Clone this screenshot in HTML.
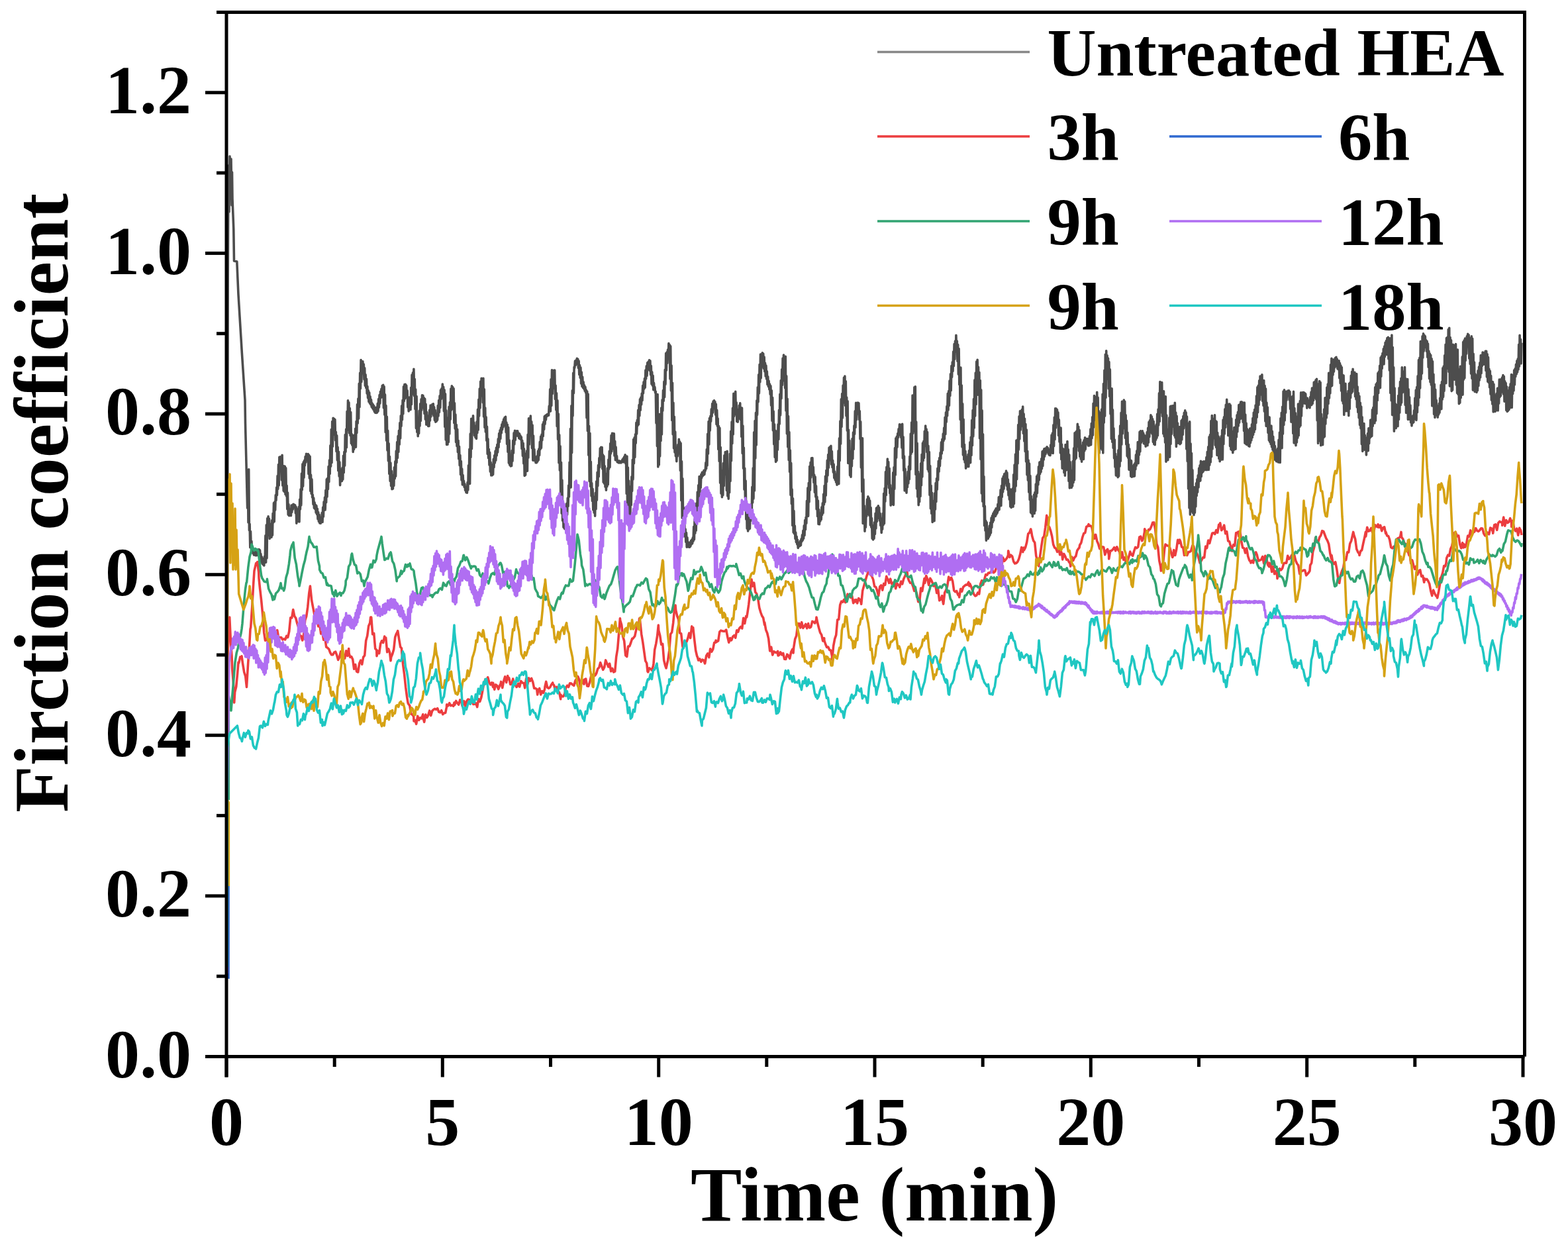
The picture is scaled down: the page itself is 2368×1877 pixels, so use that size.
<!DOCTYPE html>
<html><head><meta charset="utf-8"><title>Friction coefficient vs time</title>
<style>html,body{margin:0;padding:0;background:#fff;}body{width:2368px;height:1877px;overflow:hidden;}svg{display:block;}</style>
</head><body>
<svg width="2368" height="1877" viewBox="0 0 2368 1877">
<rect width="2368" height="1877" fill="#fff"/>
<g fill="none" stroke-linejoin="round" stroke-linecap="butt">
<path d="M343.0 1470.0 L343.6 900.0 L344.2 420.0 L345.0 250.0 L346.0 320.0 L347.0 236.0 L348.0 300.0 L349.0 240.0 L350.0 310.0 L350.5 260.0 L351.0 300.0 L352.8 346.0 L353.5 394.0 L357.8 395.0 L360.0 445.0 L365.4 533.6 L370.0 604.0 L370.5 639.0 L373.6 767.3 L374.3 711.4 L375.0 788.9 L375.7 708.8 L376.4 800.8 L377.1 791.3 L377.8 826.8 L378.5 802.6 L379.2 827.5 L379.9 817.4 L380.6 830.7 L381.3 826.7 L382.0 835.7 L382.7 830.3 L383.4 838.0 L384.1 833.0 L384.8 838.1 L385.5 834.2 L386.2 838.8 L386.9 832.9 L387.6 838.7 L388.3 829.7 L389.0 836.3 L389.7 830.2 L390.4 837.0 L391.1 829.6 L391.8 842.4 L392.5 830.9 L393.2 842.2 L393.9 836.6 L394.6 848.4 L395.3 840.8 L396.0 851.2 L396.7 843.6 L397.4 852.6 L398.1 849.1 L398.8 853.9 L399.5 840.4 L400.2 848.2 L400.9 808.8 L401.6 849.3 L402.3 792.8 L403.0 843.0 L403.7 782.9 L404.4 808.1 L405.1 779.9 L405.8 804.6 L406.5 783.3 L407.2 813.4 L407.9 791.3 L408.6 810.1 L409.3 797.0 L410.0 811.2 L410.7 785.7 L411.4 808.3 L412.1 775.4 L412.8 789.0 L413.5 759.6 L414.2 787.8 L414.9 757.7 L415.6 770.2 L416.3 747.5 L417.0 755.5 L417.7 736.1 L418.4 747.7 L419.1 718.5 L419.8 738.4 L420.5 701.5 L421.2 732.9 L421.9 690.4 L422.6 711.5 L423.3 689.8 L424.0 707.4 L424.7 691.4 L425.4 724.9 L426.1 687.2 L426.8 733.3 L427.5 703.6 L428.2 741.2 L428.9 703.7 L429.6 742.6 L430.3 704.2 L431.0 746.5 L431.7 706.9 L432.4 749.0 L433.1 733.2 L433.8 768.7 L434.5 744.1 L435.2 777.3 L435.9 761.5 L436.6 778.8 L437.3 772.0 L438.0 778.3 L438.7 769.0 L439.4 778.7 L440.1 763.0 L440.8 773.5 L441.5 762.8 L442.2 769.2 L442.9 761.4 L443.6 765.0 L444.3 761.9 L445.0 764.4 L445.7 762.9 L446.4 774.8 L447.1 765.5 L447.8 790.3 L448.5 768.7 L449.2 787.7 L449.9 771.0 L450.6 783.5 L451.3 765.5 L452.0 788.0 L452.7 754.0 L453.4 769.0 L454.1 738.8 L454.8 762.9 L455.5 715.0 L456.2 739.6 L456.9 700.9 L457.6 734.3 L458.3 697.9 L459.0 721.2 L459.7 695.2 L460.4 702.8 L461.1 689.6 L461.8 698.2 L462.5 685.3 L463.2 693.6 L463.9 686.6 L464.6 694.7 L465.3 685.5 L466.0 715.6 L466.7 687.4 L467.4 722.2 L468.1 689.2 L468.8 741.5 L469.5 717.0 L470.2 745.4 L470.9 723.8 L471.6 751.0 L472.3 747.3 L473.0 761.4 L473.7 752.1 L474.4 767.1 L475.1 758.9 L475.8 768.6 L476.5 762.3 L477.2 774.1 L477.9 763.9 L478.6 776.6 L479.3 768.2 L480.0 783.8 L480.7 773.5 L481.4 787.4 L482.1 777.2 L482.8 790.0 L483.5 782.6 L484.2 790.3 L484.9 781.3 L485.6 788.1 L486.3 774.2 L487.0 788.4 L487.7 766.1 L488.4 780.1 L489.1 757.7 L489.8 770.4 L490.5 751.0 L491.2 769.9 L491.9 740.4 L492.6 758.7 L493.3 723.9 L494.0 750.2 L494.7 722.1 L495.4 738.6 L496.1 704.6 L496.8 727.7 L497.5 694.7 L498.2 715.4 L498.9 672.9 L499.6 704.2 L500.3 648.5 L501.0 698.7 L501.7 636.5 L502.4 674.2 L503.1 631.3 L503.8 647.3 L504.5 632.3 L505.2 656.4 L505.9 633.6 L506.6 664.9 L507.3 652.2 L508.0 681.8 L508.7 657.7 L509.4 695.0 L510.1 675.4 L510.8 710.8 L511.5 682.4 L512.2 719.3 L512.9 697.9 L513.6 732.6 L514.3 708.9 L515.0 726.8 L515.7 712.4 L516.4 726.4 L517.1 706.3 L517.8 724.0 L518.5 688.3 L519.2 713.6 L519.9 682.2 L520.6 703.2 L521.3 656.6 L522.0 682.1 L522.7 648.1 L523.4 675.8 L524.1 621.3 L524.8 649.5 L525.5 604.9 L526.2 643.6 L526.9 607.7 L527.6 653.9 L528.3 616.6 L529.0 657.7 L529.7 622.6 L530.4 669.4 L531.1 655.4 L531.8 672.2 L532.5 657.2 L533.2 682.5 L533.9 668.0 L534.6 678.4 L535.3 657.1 L536.0 672.7 L536.7 647.4 L537.4 675.3 L538.1 636.3 L538.8 653.7 L539.5 610.9 L540.2 639.1 L540.9 602.1 L541.6 632.1 L542.3 579.3 L543.0 614.8 L543.7 563.0 L544.4 586.8 L545.1 543.5 L545.8 576.7 L546.5 547.8 L547.2 559.9 L547.9 545.7 L548.6 564.2 L549.3 550.1 L550.0 573.0 L550.7 555.8 L551.4 582.5 L552.1 565.7 L552.8 585.6 L553.5 572.4 L554.2 594.2 L554.9 583.6 L555.6 600.9 L556.3 589.8 L557.0 606.6 L557.7 592.8 L558.4 608.9 L559.1 598.9 L559.8 610.8 L560.5 603.5 L561.2 614.5 L561.9 608.9 L562.6 616.4 L563.3 610.9 L564.0 618.5 L564.7 612.8 L565.4 621.5 L566.1 615.2 L566.8 623.3 L567.5 617.2 L568.2 623.5 L568.9 615.1 L569.6 622.9 L570.3 609.4 L571.0 621.0 L571.7 602.6 L572.4 615.2 L573.1 596.5 L573.8 609.3 L574.5 591.4 L575.2 600.6 L575.9 587.3 L576.6 594.7 L577.3 582.4 L578.0 599.8 L578.7 581.4 L579.4 616.0 L580.1 583.7 L580.8 626.2 L581.5 595.9 L582.2 652.7 L582.9 612.5 L583.6 665.2 L584.3 629.3 L585.0 680.1 L585.7 650.3 L586.4 695.9 L587.1 669.9 L587.8 715.4 L588.5 689.5 L589.2 726.5 L589.9 699.0 L590.6 733.6 L591.3 711.4 L592.0 738.7 L592.7 726.5 L593.4 738.0 L594.1 717.9 L594.8 733.4 L595.5 705.9 L596.2 722.8 L596.9 696.7 L597.6 719.1 L598.3 681.0 L599.0 698.5 L599.7 667.5 L600.4 691.4 L601.1 658.6 L601.8 682.4 L602.5 650.3 L603.2 671.2 L603.9 638.6 L604.6 662.0 L605.3 627.8 L606.0 643.5 L606.7 612.7 L607.4 634.0 L608.1 604.3 L608.8 625.0 L609.5 583.8 L610.2 605.8 L610.9 580.6 L611.6 601.9 L612.3 580.3 L613.0 598.4 L613.7 582.0 L614.4 600.2 L615.1 589.9 L615.8 614.9 L616.5 599.7 L617.2 620.9 L617.9 606.2 L618.6 618.5 L619.3 599.7 L620.0 618.8 L620.7 585.3 L621.4 610.8 L622.1 566.0 L622.8 595.2 L623.5 562.8 L624.2 586.4 L624.9 557.4 L625.6 597.6 L626.3 572.5 L627.0 617.6 L627.7 588.1 L628.4 646.7 L629.1 598.5 L629.8 652.4 L630.5 632.5 L631.2 658.8 L631.9 635.8 L632.6 654.4 L633.3 620.4 L634.0 643.2 L634.7 609.8 L635.4 635.5 L636.1 602.7 L636.8 619.3 L637.5 596.8 L638.2 616.0 L638.9 597.3 L639.6 612.7 L640.3 600.9 L641.0 624.6 L641.7 602.3 L642.4 633.2 L643.1 610.4 L643.8 641.2 L644.5 622.3 L645.2 641.0 L645.9 632.4 L646.6 643.5 L647.3 628.3 L648.0 643.4 L648.7 619.4 L649.4 635.3 L650.1 612.0 L650.8 629.1 L651.5 612.2 L652.2 624.9 L652.9 610.5 L653.6 618.8 L654.3 609.8 L655.0 627.9 L655.7 614.9 L656.4 634.5 L657.1 619.4 L657.8 637.1 L658.5 625.3 L659.2 636.1 L659.9 624.5 L660.6 634.1 L661.3 612.6 L662.0 628.3 L662.7 604.6 L663.4 622.4 L664.1 597.8 L664.8 615.8 L665.5 589.0 L666.2 602.7 L666.9 586.8 L667.6 597.4 L668.3 580.1 L669.0 600.5 L669.7 584.2 L670.4 620.9 L671.1 588.7 L671.8 644.6 L672.5 594.7 L673.2 664.2 L673.9 619.9 L674.6 671.5 L675.3 641.8 L676.0 671.3 L676.7 631.0 L677.4 667.5 L678.1 614.2 L678.8 655.1 L679.5 607.6 L680.2 633.2 L680.9 587.1 L681.6 619.2 L682.3 582.8 L683.0 602.8 L683.7 584.6 L684.4 617.4 L685.1 586.8 L685.8 638.8 L686.5 608.7 L687.2 647.1 L687.9 626.1 L688.6 667.6 L689.3 641.5 L690.0 673.7 L690.7 648.4 L691.4 682.6 L692.1 665.4 L692.8 692.9 L693.5 674.4 L694.2 702.6 L694.9 687.6 L695.6 716.8 L696.3 696.6 L697.0 724.9 L697.7 708.1 L698.4 732.0 L699.1 717.6 L699.8 731.3 L700.5 726.3 L701.2 735.4 L701.9 730.9 L702.6 740.3 L703.3 735.9 L704.0 743.6 L704.7 736.8 L705.4 744.2 L706.1 728.2 L706.8 739.9 L707.5 702.9 L708.2 730.2 L708.9 678.2 L709.6 730.5 L710.3 655.0 L711.0 690.6 L711.7 632.3 L712.4 677.7 L713.1 636.4 L713.8 647.1 L714.5 627.7 L715.2 649.7 L715.9 638.1 L716.6 657.8 L717.3 643.4 L718.0 660.8 L718.7 645.1 L719.4 662.4 L720.1 636.8 L720.8 653.7 L721.5 618.3 L722.2 649.2 L722.9 603.4 L723.6 628.3 L724.3 587.1 L725.0 616.2 L725.7 576.1 L726.4 598.2 L727.1 571.2 L727.8 590.0 L728.5 572.9 L729.2 608.0 L729.9 571.3 L730.6 629.3 L731.3 587.8 L732.0 645.6 L732.7 615.9 L733.4 652.3 L734.1 629.9 L734.8 665.2 L735.5 644.3 L736.2 685.5 L736.9 662.7 L737.6 691.6 L738.3 678.2 L739.0 702.3 L739.7 683.2 L740.4 712.2 L741.1 698.1 L741.8 717.9 L742.5 709.5 L743.2 717.8 L743.9 701.6 L744.6 716.5 L745.3 693.2 L746.0 705.8 L746.7 687.8 L747.4 698.9 L748.1 681.0 L748.8 695.1 L749.5 676.1 L750.2 688.0 L750.9 671.3 L751.6 682.9 L752.3 662.8 L753.0 675.4 L753.7 654.5 L754.4 667.5 L755.1 649.8 L755.8 662.3 L756.5 646.0 L757.2 653.9 L757.9 640.8 L758.6 648.6 L759.3 637.1 L760.0 644.9 L760.7 633.1 L761.4 642.5 L762.1 630.6 L762.8 639.3 L763.5 629.3 L764.2 652.7 L764.9 638.0 L765.6 670.5 L766.3 641.4 L767.0 682.4 L767.7 645.6 L768.4 699.3 L769.1 664.9 L769.8 702.3 L770.5 689.2 L771.2 704.0 L771.9 689.8 L772.6 703.5 L773.3 680.3 L774.0 696.3 L774.7 665.3 L775.4 684.2 L776.1 653.7 L776.8 671.0 L777.5 650.3 L778.2 664.3 L778.9 651.7 L779.6 658.0 L780.3 650.8 L781.0 658.0 L781.7 650.9 L782.4 658.4 L783.1 654.1 L783.8 661.8 L784.5 655.0 L785.2 662.7 L785.9 657.9 L786.6 663.6 L787.3 660.0 L788.0 677.7 L788.7 665.4 L789.4 688.4 L790.1 669.4 L790.8 699.9 L791.5 677.7 L792.2 718.4 L792.9 685.0 L793.6 717.2 L794.3 687.1 L795.0 709.4 L795.7 680.9 L796.4 711.2 L797.1 656.4 L797.8 691.2 L798.5 631.8 L799.2 671.1 L799.9 636.9 L800.6 650.1 L801.3 628.1 L802.0 654.9 L802.7 636.7 L803.4 676.8 L804.1 642.1 L804.8 695.1 L805.5 658.1 L806.2 695.3 L806.9 678.6 L807.6 695.0 L808.3 690.1 L809.0 698.7 L809.7 690.7 L810.4 698.6 L811.1 688.8 L811.8 696.8 L812.5 681.0 L813.2 694.6 L813.9 677.8 L814.6 687.5 L815.3 667.4 L816.0 678.5 L816.7 659.1 L817.4 676.4 L818.1 656.1 L818.8 664.8 L819.5 640.8 L820.2 658.8 L820.9 637.3 L821.6 648.4 L822.3 628.7 L823.0 640.3 L823.7 627.5 L824.4 633.9 L825.1 626.6 L825.8 628.6 L826.5 625.7 L827.2 627.8 L827.9 626.3 L828.6 627.1 L829.3 613.1 L830.0 620.5 L830.7 587.9 L831.4 621.0 L832.1 572.8 L832.8 612.6 L833.5 558.8 L834.2 594.6 L834.9 560.7 L835.6 579.7 L836.3 559.3 L837.0 586.8 L837.7 559.0 L838.4 602.8 L839.1 582.0 L839.8 619.0 L840.5 593.8 L841.2 643.6 L841.9 604.9 L842.6 663.4 L843.3 625.1 L844.0 699.0 L844.7 656.8 L845.4 710.3 L846.1 673.7 L846.8 757.1 L847.5 698.2 L848.2 775.3 L848.9 725.1 L849.6 786.2 L850.3 758.0 L851.0 796.3 L851.7 769.8 L852.4 798.1 L853.1 776.6 L853.8 799.2 L854.5 768.2 L855.2 785.5 L855.9 760.2 L856.6 777.2 L857.3 752.0 L858.0 764.5 L858.7 733.1 L859.4 750.2 L860.1 698.0 L860.8 729.3 L861.5 647.5 L862.2 736.0 L862.9 612.7 L863.6 683.8 L864.3 589.7 L865.0 628.1 L865.7 563.4 L866.4 593.6 L867.1 554.3 L867.8 555.3 L868.5 545.0 L869.2 551.5 L869.9 544.1 L870.6 548.3 L871.3 541.4 L872.0 549.5 L872.7 542.2 L873.4 555.6 L874.1 545.1 L874.8 565.6 L875.5 551.5 L876.2 570.4 L876.9 555.1 L877.6 579.3 L878.3 562.1 L879.0 583.4 L879.7 569.2 L880.4 585.5 L881.1 576.8 L881.8 587.2 L882.5 581.9 L883.2 590.3 L883.9 584.3 L884.6 592.9 L885.3 589.1 L886.0 631.0 L886.7 591.0 L887.4 650.8 L888.1 595.0 L888.8 687.3 L889.5 643.3 L890.2 726.7 L890.9 654.2 L891.6 734.4 L892.3 697.3 L893.0 748.9 L893.7 729.6 L894.4 756.5 L895.1 738.2 L895.8 769.9 L896.5 750.2 L897.2 774.1 L897.9 760.4 L898.6 779.1 L899.3 744.3 L900.0 768.8 L900.7 727.1 L901.4 755.1 L902.1 713.2 L902.8 733.7 L903.5 702.6 L904.2 719.6 L904.9 691.5 L905.6 705.8 L906.3 677.0 L907.0 694.2 L907.7 675.4 L908.4 689.1 L909.1 675.5 L909.8 707.9 L910.5 686.7 L911.2 728.1 L911.9 688.9 L912.6 730.2 L913.3 703.7 L914.0 735.3 L914.7 719.8 L915.4 740.3 L916.1 715.9 L916.8 734.7 L917.5 707.0 L918.2 731.8 L918.9 694.0 L919.6 708.3 L920.3 681.4 L921.0 705.4 L921.7 669.9 L922.4 684.9 L923.1 657.6 L923.8 681.6 L924.5 654.2 L925.2 667.7 L925.9 654.6 L926.6 678.0 L927.3 654.9 L928.0 688.2 L928.7 666.3 L929.4 694.8 L930.1 675.0 L930.8 693.6 L931.5 688.5 L932.2 697.7 L932.9 695.3 L933.6 698.4 L934.3 696.2 L935.0 699.0 L935.7 696.1 L936.4 698.3 L937.1 696.7 L937.8 699.0 L938.5 696.5 L939.2 697.5 L939.9 694.2 L940.6 697.7 L941.3 692.1 L942.0 697.6 L942.7 689.8 L943.4 696.1 L944.1 686.7 L944.8 699.9 L945.5 691.3 L946.2 745.4 L946.9 689.0 L947.6 774.6 L948.3 706.1 L949.0 776.4 L949.7 726.1 L950.4 788.6 L951.1 743.4 L951.8 779.7 L952.5 734.7 L953.2 762.7 L953.9 719.8 L954.6 741.5 L955.3 694.2 L956.0 723.9 L956.7 663.5 L957.4 699.6 L958.1 660.8 L958.8 690.5 L959.5 655.9 L960.2 669.1 L960.9 638.2 L961.6 655.3 L962.3 634.3 L963.0 642.7 L963.7 619.2 L964.4 640.9 L965.1 611.5 L965.8 627.9 L966.5 602.9 L967.2 619.5 L967.9 600.0 L968.6 611.0 L969.3 594.1 L970.0 604.6 L970.7 582.2 L971.4 593.9 L972.1 576.9 L972.8 587.2 L973.5 571.6 L974.2 585.1 L974.9 559.1 L975.6 572.0 L976.3 552.7 L977.0 567.4 L977.7 547.8 L978.4 558.1 L979.1 546.4 L979.8 555.8 L980.5 543.8 L981.2 559.7 L981.9 544.9 L982.6 565.9 L983.3 552.6 L984.0 580.0 L984.7 561.7 L985.4 582.3 L986.1 567.4 L986.8 588.7 L987.5 578.3 L988.2 588.4 L988.9 584.6 L989.6 593.0 L990.3 591.2 L991.0 639.0 L991.7 599.2 L992.4 673.7 L993.1 595.5 L993.8 705.0 L994.5 625.3 L995.2 702.0 L995.9 647.3 L996.6 689.0 L997.3 625.2 L998.0 665.7 L998.7 616.0 L999.4 656.0 L1000.1 603.8 L1000.8 620.2 L1001.5 589.6 L1002.2 605.4 L1002.9 576.4 L1003.6 599.6 L1004.3 558.2 L1005.0 580.4 L1005.7 533.6 L1006.4 559.3 L1007.1 531.7 L1007.8 548.4 L1008.5 528.1 L1009.2 538.8 L1009.9 518.6 L1010.6 540.2 L1011.3 520.8 L1012.0 572.3 L1012.7 522.7 L1013.4 590.0 L1014.1 552.1 L1014.8 634.7 L1015.5 578.3 L1016.2 655.9 L1016.9 608.2 L1017.6 676.9 L1018.3 629.2 L1019.0 683.1 L1019.7 652.1 L1020.4 688.8 L1021.1 681.7 L1021.8 696.7 L1022.5 677.4 L1023.2 688.9 L1023.9 671.6 L1024.6 684.6 L1025.3 663.4 L1026.0 684.1 L1026.7 667.1 L1027.4 710.4 L1028.1 669.4 L1028.8 755.8 L1029.5 696.8 L1030.2 782.2 L1030.9 722.8 L1031.6 782.8 L1032.3 766.5 L1033.0 800.4 L1033.7 788.9 L1034.4 810.3 L1035.1 799.1 L1035.8 818.4 L1036.5 804.6 L1037.2 826.2 L1037.9 811.7 L1038.6 825.7 L1039.3 818.8 L1040.0 826.0 L1040.7 820.4 L1041.4 826.3 L1042.1 819.0 L1042.8 824.9 L1043.5 816.5 L1044.2 822.1 L1044.9 814.9 L1045.6 820.7 L1046.3 811.8 L1047.0 817.3 L1047.7 795.2 L1048.4 814.7 L1049.1 784.4 L1049.8 805.3 L1050.5 777.9 L1051.2 801.1 L1051.9 760.0 L1052.6 786.9 L1053.3 743.1 L1054.0 773.9 L1054.7 732.8 L1055.4 753.1 L1056.1 719.6 L1056.8 746.5 L1057.5 721.4 L1058.2 736.5 L1058.9 716.3 L1059.6 721.7 L1060.3 713.3 L1061.0 719.1 L1061.7 712.7 L1062.4 717.6 L1063.1 710.2 L1063.8 716.5 L1064.5 709.7 L1065.2 710.9 L1065.9 698.6 L1066.6 707.6 L1067.3 678.6 L1068.0 703.0 L1068.7 655.2 L1069.4 685.3 L1070.1 636.5 L1070.8 671.3 L1071.5 631.6 L1072.2 650.1 L1072.9 628.3 L1073.6 636.3 L1074.3 617.7 L1075.0 628.6 L1075.7 609.5 L1076.4 623.1 L1077.1 606.0 L1077.8 616.4 L1078.5 604.7 L1079.2 616.4 L1079.9 606.8 L1080.6 626.1 L1081.3 610.4 L1082.0 640.6 L1082.7 619.3 L1083.4 643.5 L1084.1 632.1 L1084.8 678.5 L1085.5 643.5 L1086.2 696.5 L1086.9 646.2 L1087.6 729.3 L1088.3 675.5 L1089.0 745.2 L1089.7 710.2 L1090.4 750.7 L1091.1 722.3 L1091.8 747.8 L1092.5 699.5 L1093.2 733.7 L1093.9 687.8 L1094.6 715.9 L1095.3 682.6 L1096.0 717.3 L1096.7 684.3 L1097.4 740.6 L1098.1 681.4 L1098.8 749.1 L1099.5 719.4 L1100.2 753.3 L1100.9 714.0 L1101.6 743.7 L1102.3 685.2 L1103.0 726.6 L1103.7 651.4 L1104.4 696.0 L1105.1 637.1 L1105.8 669.7 L1106.5 616.2 L1107.2 656.0 L1107.9 594.2 L1108.6 628.5 L1109.3 596.3 L1110.0 618.5 L1110.7 591.2 L1111.4 625.9 L1112.1 607.7 L1112.8 636.4 L1113.5 618.7 L1114.2 637.3 L1114.9 620.4 L1115.6 631.9 L1116.3 612.4 L1117.0 628.9 L1117.7 608.8 L1118.4 633.8 L1119.1 615.8 L1119.8 659.5 L1120.5 616.0 L1121.2 684.6 L1121.9 643.0 L1122.6 707.3 L1123.3 676.0 L1124.0 739.2 L1124.7 707.1 L1125.4 751.5 L1126.1 726.0 L1126.8 784.3 L1127.5 760.2 L1128.2 798.3 L1128.9 771.7 L1129.6 802.0 L1130.3 786.1 L1131.0 799.2 L1131.7 780.8 L1132.4 798.1 L1133.1 773.6 L1133.8 786.4 L1134.5 763.8 L1135.2 776.6 L1135.9 735.4 L1136.6 759.0 L1137.3 706.7 L1138.0 752.9 L1138.7 652.7 L1139.4 741.1 L1140.1 635.6 L1140.8 692.1 L1141.5 623.2 L1142.2 672.1 L1142.9 604.8 L1143.6 626.4 L1144.3 584.9 L1145.0 606.9 L1145.7 565.9 L1146.4 593.9 L1147.1 550.5 L1147.8 576.9 L1148.5 535.1 L1149.2 571.0 L1149.9 534.7 L1150.6 553.6 L1151.3 532.9 L1152.0 549.7 L1152.7 534.1 L1153.4 556.4 L1154.1 539.1 L1154.8 561.0 L1155.5 548.3 L1156.2 568.1 L1156.9 552.0 L1157.6 572.2 L1158.3 560.9 L1159.0 580.6 L1159.7 568.7 L1160.4 583.7 L1161.1 575.3 L1161.8 587.9 L1162.5 580.0 L1163.2 595.3 L1163.9 582.9 L1164.6 612.3 L1165.3 589.7 L1166.0 635.4 L1166.7 600.6 L1167.4 650.0 L1168.1 621.0 L1168.8 670.9 L1169.5 640.9 L1170.2 690.5 L1170.9 650.3 L1171.6 697.5 L1172.3 671.5 L1173.0 695.5 L1173.7 651.0 L1174.4 679.2 L1175.1 640.9 L1175.8 663.5 L1176.5 619.2 L1177.2 640.1 L1177.9 595.4 L1178.6 626.9 L1179.3 574.6 L1180.0 601.6 L1180.7 557.7 L1181.4 581.5 L1182.1 541.1 L1182.8 572.0 L1183.5 536.0 L1184.2 574.6 L1184.9 544.1 L1185.6 586.0 L1186.3 538.2 L1187.0 620.2 L1187.7 567.9 L1188.4 654.9 L1189.1 602.3 L1189.8 675.0 L1190.5 628.6 L1191.2 694.7 L1191.9 652.6 L1192.6 712.4 L1193.3 679.8 L1194.0 747.6 L1194.7 699.4 L1195.4 760.7 L1196.1 738.9 L1196.8 793.4 L1197.5 752.8 L1198.2 804.1 L1198.9 771.6 L1199.6 805.9 L1200.3 794.0 L1201.0 813.4 L1201.7 804.1 L1202.4 818.7 L1203.1 810.2 L1203.8 822.0 L1204.5 815.4 L1205.2 827.5 L1205.9 820.2 L1206.6 825.2 L1207.3 819.3 L1208.0 824.5 L1208.7 816.9 L1209.4 823.3 L1210.1 813.8 L1210.8 817.8 L1211.5 807.9 L1212.2 816.0 L1212.9 801.4 L1213.6 813.1 L1214.3 793.8 L1215.0 808.5 L1215.7 785.5 L1216.4 799.7 L1217.1 781.3 L1217.8 790.1 L1218.5 756.4 L1219.2 778.3 L1219.9 736.9 L1220.6 779.4 L1221.3 729.2 L1222.0 758.1 L1222.7 704.2 L1223.4 740.3 L1224.1 698.3 L1224.8 720.9 L1225.5 691.8 L1226.2 714.2 L1226.9 691.5 L1227.6 717.2 L1228.3 705.2 L1229.0 728.6 L1229.7 717.0 L1230.4 743.5 L1231.1 720.0 L1231.8 750.3 L1232.5 733.8 L1233.2 768.9 L1233.9 750.2 L1234.6 779.7 L1235.3 756.0 L1236.0 791.4 L1236.7 769.6 L1237.4 791.8 L1238.1 778.1 L1238.8 786.9 L1239.5 775.1 L1240.2 784.4 L1240.9 765.8 L1241.6 777.5 L1242.3 759.8 L1243.0 774.6 L1243.7 746.3 L1244.4 762.0 L1245.1 733.5 L1245.8 758.3 L1246.5 719.3 L1247.2 748.3 L1247.9 710.4 L1248.6 727.5 L1249.3 695.4 L1250.0 718.0 L1250.7 686.6 L1251.4 706.2 L1252.1 676.0 L1252.8 694.7 L1253.5 674.9 L1254.2 690.0 L1254.9 673.2 L1255.6 701.3 L1256.3 681.5 L1257.0 705.6 L1257.7 695.2 L1258.4 713.2 L1259.1 701.1 L1259.8 721.8 L1260.5 712.0 L1261.2 724.7 L1261.9 716.3 L1262.6 728.2 L1263.3 721.5 L1264.0 732.2 L1264.7 704.5 L1265.4 720.7 L1266.1 680.9 L1266.8 730.7 L1267.5 661.8 L1268.2 695.7 L1268.9 635.9 L1269.6 670.2 L1270.3 602.9 L1271.0 644.5 L1271.7 594.6 L1272.4 630.9 L1273.1 582.0 L1273.8 607.9 L1274.5 570.2 L1275.2 591.7 L1275.9 568.0 L1276.6 612.4 L1277.3 575.7 L1278.0 627.9 L1278.7 600.1 L1279.4 650.1 L1280.1 605.7 L1280.8 699.4 L1281.5 649.0 L1282.2 697.6 L1282.9 665.3 L1283.6 717.8 L1284.3 693.7 L1285.0 720.1 L1285.7 681.6 L1286.4 703.9 L1287.1 662.6 L1287.8 692.8 L1288.5 653.1 L1289.2 678.5 L1289.9 642.8 L1290.6 655.4 L1291.3 620.7 L1292.0 645.5 L1292.7 608.4 L1293.4 633.9 L1294.1 608.9 L1294.8 624.3 L1295.5 608.0 L1296.2 624.9 L1296.9 608.9 L1297.6 633.7 L1298.3 620.7 L1299.0 663.0 L1299.7 636.8 L1300.4 706.0 L1301.1 663.9 L1301.8 742.5 L1302.5 661.7 L1303.2 790.5 L1303.9 723.9 L1304.6 789.8 L1305.3 763.9 L1306.0 802.3 L1306.7 777.3 L1307.4 796.2 L1308.1 771.5 L1308.8 779.4 L1309.5 754.1 L1310.2 776.7 L1310.9 749.9 L1311.6 765.5 L1312.3 752.2 L1313.0 778.8 L1313.7 756.1 L1314.4 792.9 L1315.1 766.5 L1315.8 796.2 L1316.5 782.6 L1317.2 813.2 L1317.9 793.8 L1318.6 815.0 L1319.3 799.3 L1320.0 813.1 L1320.7 788.8 L1321.4 806.4 L1322.1 775.2 L1322.8 798.0 L1323.5 767.4 L1324.2 787.6 L1324.9 766.0 L1325.6 781.1 L1326.3 763.7 L1327.0 782.2 L1327.7 766.5 L1328.4 786.2 L1329.1 775.2 L1329.8 793.5 L1330.5 783.2 L1331.2 804.5 L1331.9 790.6 L1332.6 799.1 L1333.3 775.2 L1334.0 792.8 L1334.7 745.3 L1335.4 790.6 L1336.1 737.3 L1336.8 757.2 L1337.5 712.5 L1338.2 747.6 L1338.9 705.4 L1339.6 730.9 L1340.3 693.0 L1341.0 721.5 L1341.7 697.6 L1342.4 736.8 L1343.1 707.4 L1343.8 745.0 L1344.5 732.6 L1345.2 763.1 L1345.9 737.8 L1346.6 761.4 L1347.3 741.0 L1348.0 757.4 L1348.7 713.7 L1349.4 762.4 L1350.1 705.5 L1350.8 738.4 L1351.5 676.6 L1352.2 717.3 L1352.9 661.8 L1353.6 691.3 L1354.3 659.2 L1355.0 675.3 L1355.7 654.5 L1356.4 660.6 L1357.1 647.7 L1357.8 657.0 L1358.5 640.9 L1359.2 650.0 L1359.9 641.2 L1360.6 660.5 L1361.3 648.0 L1362.0 676.3 L1362.7 640.4 L1363.4 692.0 L1364.1 659.8 L1364.8 710.6 L1365.5 688.7 L1366.2 741.0 L1366.9 708.0 L1367.6 738.6 L1368.3 723.9 L1369.0 744.1 L1369.7 722.2 L1370.4 735.6 L1371.1 712.3 L1371.8 729.9 L1372.5 704.4 L1373.2 723.7 L1373.9 689.3 L1374.6 709.0 L1375.3 655.1 L1376.0 685.4 L1376.7 637.9 L1377.4 682.5 L1378.1 597.1 L1378.8 654.5 L1379.5 597.6 L1380.2 630.8 L1380.9 584.7 L1381.6 651.5 L1382.3 583.8 L1383.0 716.5 L1383.7 637.1 L1384.4 738.0 L1385.1 669.3 L1385.8 750.3 L1386.5 712.2 L1387.2 762.7 L1387.9 738.6 L1388.6 757.8 L1389.3 716.1 L1390.0 749.5 L1390.7 699.8 L1391.4 733.0 L1392.1 686.4 L1392.8 720.1 L1393.5 669.0 L1394.2 695.8 L1394.9 666.3 L1395.6 691.4 L1396.3 651.2 L1397.0 674.0 L1397.7 643.1 L1398.4 666.5 L1399.1 648.1 L1399.8 682.8 L1400.5 652.5 L1401.2 709.0 L1401.9 673.3 L1402.6 712.1 L1403.3 682.5 L1404.0 747.6 L1404.7 703.6 L1405.4 767.9 L1406.1 733.2 L1406.8 775.4 L1407.5 744.2 L1408.2 788.4 L1408.9 766.4 L1409.6 786.5 L1410.3 756.6 L1411.0 786.7 L1411.7 744.7 L1412.4 769.1 L1413.1 729.5 L1413.8 757.7 L1414.5 722.6 L1415.2 739.3 L1415.9 707.3 L1416.6 724.9 L1417.3 696.3 L1418.0 712.1 L1418.7 691.6 L1419.4 703.7 L1420.1 683.6 L1420.8 692.8 L1421.5 667.7 L1422.2 685.0 L1422.9 663.4 L1423.6 679.9 L1424.3 655.0 L1425.0 665.8 L1425.7 646.1 L1426.4 662.9 L1427.1 630.2 L1427.8 655.6 L1428.5 622.7 L1429.2 637.3 L1429.9 613.6 L1430.6 628.0 L1431.3 594.3 L1432.0 619.2 L1432.7 590.5 L1433.4 612.5 L1434.1 575.0 L1434.8 597.8 L1435.5 564.7 L1436.2 589.7 L1436.9 552.5 L1437.6 569.4 L1438.3 546.8 L1439.0 560.4 L1439.7 531.0 L1440.4 552.6 L1441.1 519.5 L1441.8 542.5 L1442.5 515.0 L1443.2 531.5 L1443.9 506.4 L1444.6 529.5 L1445.3 515.1 L1446.0 545.5 L1446.7 520.6 L1447.4 565.3 L1448.1 526.5 L1448.8 580.8 L1449.5 560.6 L1450.2 633.6 L1450.9 555.0 L1451.6 653.9 L1452.3 582.0 L1453.0 674.9 L1453.7 609.9 L1454.4 687.1 L1455.1 633.2 L1455.8 693.9 L1456.5 671.4 L1457.2 698.2 L1457.9 681.2 L1458.6 707.2 L1459.3 690.1 L1460.0 705.0 L1460.7 694.3 L1461.4 703.4 L1462.1 686.3 L1462.8 704.8 L1463.5 680.6 L1464.2 698.6 L1464.9 667.8 L1465.6 698.6 L1466.3 660.1 L1467.0 687.5 L1467.7 634.6 L1468.4 672.8 L1469.1 619.6 L1469.8 658.9 L1470.5 602.6 L1471.2 646.3 L1471.9 573.9 L1472.6 628.3 L1473.3 563.1 L1474.0 610.8 L1474.7 546.0 L1475.4 596.4 L1476.1 543.4 L1476.8 580.9 L1477.5 554.3 L1478.2 596.5 L1478.9 562.3 L1479.6 662.0 L1480.3 574.5 L1481.0 693.6 L1481.7 588.7 L1482.4 745.1 L1483.1 619.9 L1483.8 757.2 L1484.5 655.8 L1485.2 764.8 L1485.9 719.5 L1486.6 793.7 L1487.3 764.4 L1488.0 801.2 L1488.7 786.3 L1489.4 816.2 L1490.1 788.9 L1490.8 812.0 L1491.5 798.7 L1492.2 813.5 L1492.9 798.9 L1493.6 810.7 L1494.3 794.0 L1495.0 808.0 L1495.7 789.4 L1496.4 804.8 L1497.1 782.0 L1497.8 796.4 L1498.5 778.9 L1499.2 788.7 L1499.9 775.3 L1500.6 785.9 L1501.3 772.9 L1502.0 779.6 L1502.7 770.5 L1503.4 779.5 L1504.1 767.8 L1504.8 776.8 L1505.5 767.8 L1506.2 774.3 L1506.9 761.4 L1507.6 771.0 L1508.3 750.8 L1509.0 769.7 L1509.7 750.0 L1510.4 763.5 L1511.1 739.9 L1511.8 763.8 L1512.5 733.6 L1513.2 750.5 L1513.9 722.5 L1514.6 742.9 L1515.3 719.2 L1516.0 738.1 L1516.7 715.9 L1517.4 729.8 L1518.1 714.8 L1518.8 728.4 L1519.5 711.1 L1520.2 733.4 L1520.9 713.9 L1521.6 739.5 L1522.3 724.1 L1523.0 747.9 L1523.7 730.6 L1524.4 754.3 L1525.1 738.6 L1525.8 765.0 L1526.5 739.4 L1527.2 766.5 L1527.9 746.4 L1528.6 762.9 L1529.3 737.8 L1530.0 765.2 L1530.7 716.8 L1531.4 760.8 L1532.1 702.0 L1532.8 742.1 L1533.5 686.0 L1534.2 734.1 L1534.9 665.1 L1535.6 723.8 L1536.3 664.2 L1537.0 700.0 L1537.7 641.5 L1538.4 678.9 L1539.1 628.9 L1539.8 663.0 L1540.5 620.9 L1541.2 649.1 L1541.9 622.4 L1542.6 637.7 L1543.3 618.5 L1544.0 643.6 L1544.7 614.0 L1545.4 654.4 L1546.1 625.1 L1546.8 666.1 L1547.5 632.3 L1548.2 681.6 L1548.9 640.6 L1549.6 697.1 L1550.3 649.0 L1551.0 717.1 L1551.7 681.3 L1552.4 725.3 L1553.1 695.0 L1553.8 743.1 L1554.5 700.0 L1555.2 754.7 L1555.9 718.6 L1556.6 773.9 L1557.3 749.2 L1558.0 775.4 L1558.7 754.7 L1559.4 780.0 L1560.1 755.9 L1560.8 774.9 L1561.5 747.1 L1562.2 775.4 L1562.9 743.6 L1563.6 771.1 L1564.3 731.1 L1565.0 750.2 L1565.7 719.4 L1566.4 744.8 L1567.1 717.1 L1567.8 731.9 L1568.5 704.9 L1569.2 725.0 L1569.9 698.1 L1570.6 715.7 L1571.3 697.4 L1572.0 712.7 L1572.7 692.9 L1573.4 707.7 L1574.1 681.9 L1574.8 703.8 L1575.5 680.9 L1576.2 694.1 L1576.9 677.9 L1577.6 689.1 L1578.3 677.2 L1579.0 685.7 L1579.7 676.9 L1580.4 681.8 L1581.1 674.7 L1581.8 682.3 L1582.5 676.5 L1583.2 685.0 L1583.9 679.1 L1584.6 687.1 L1585.3 679.9 L1586.0 687.6 L1586.7 671.8 L1587.4 684.2 L1588.1 657.1 L1588.8 678.4 L1589.5 654.1 L1590.2 684.4 L1590.9 641.7 L1591.6 673.7 L1592.3 630.3 L1593.0 663.6 L1593.7 616.8 L1594.4 646.1 L1595.1 617.1 L1595.8 636.0 L1596.5 618.8 L1597.2 639.3 L1597.9 622.7 L1598.6 657.8 L1599.3 633.9 L1600.0 667.1 L1600.7 646.2 L1601.4 683.9 L1602.1 646.0 L1602.8 693.7 L1603.5 671.0 L1604.2 707.1 L1604.9 677.4 L1605.6 707.7 L1606.3 684.3 L1607.0 713.8 L1607.7 678.5 L1608.4 718.3 L1609.1 671.6 L1609.8 710.3 L1610.5 671.9 L1611.2 697.5 L1611.9 666.6 L1612.6 709.6 L1613.3 678.7 L1614.0 726.5 L1614.7 686.9 L1615.4 736.9 L1616.1 697.5 L1616.8 734.3 L1617.5 710.5 L1618.2 736.4 L1618.9 713.0 L1619.6 734.0 L1620.3 696.6 L1621.0 728.8 L1621.7 676.8 L1622.4 725.0 L1623.1 653.8 L1623.8 693.6 L1624.5 652.8 L1625.2 691.6 L1625.9 651.1 L1626.6 666.7 L1627.3 640.2 L1628.0 674.4 L1628.7 644.4 L1629.4 680.9 L1630.1 649.5 L1630.8 689.4 L1631.5 663.8 L1632.2 693.2 L1632.9 677.5 L1633.6 697.3 L1634.3 673.4 L1635.0 691.5 L1635.7 668.1 L1636.4 693.5 L1637.1 664.7 L1637.8 680.9 L1638.5 660.8 L1639.2 678.3 L1639.9 662.3 L1640.6 670.2 L1641.3 662.8 L1642.0 670.3 L1642.7 662.5 L1643.4 673.0 L1644.1 666.0 L1644.8 673.0 L1645.5 658.5 L1646.2 672.0 L1646.9 648.1 L1647.6 671.6 L1648.3 639.6 L1649.0 661.8 L1649.7 629.8 L1650.4 657.2 L1651.1 609.4 L1651.8 645.1 L1652.5 597.5 L1653.2 634.8 L1653.9 599.9 L1654.6 623.3 L1655.3 599.3 L1656.0 624.6 L1656.7 592.2 L1657.4 643.5 L1658.1 600.4 L1658.8 660.0 L1659.5 620.9 L1660.2 684.2 L1660.9 623.3 L1661.6 677.0 L1662.3 648.5 L1663.0 675.9 L1663.7 618.0 L1664.4 679.3 L1665.1 595.2 L1665.8 684.0 L1666.5 579.5 L1667.2 638.2 L1667.9 559.3 L1668.6 628.2 L1669.3 535.2 L1670.0 600.6 L1670.7 529.7 L1671.4 572.3 L1672.1 536.8 L1672.8 571.8 L1673.5 541.1 L1674.2 586.9 L1674.9 546.6 L1675.6 598.5 L1676.3 557.9 L1677.0 625.1 L1677.7 591.6 L1678.4 662.8 L1679.1 586.7 L1679.8 667.4 L1680.5 618.9 L1681.2 676.4 L1681.9 646.9 L1682.6 691.9 L1683.3 664.0 L1684.0 705.2 L1684.7 685.2 L1685.4 717.9 L1686.1 689.7 L1686.8 718.4 L1687.5 699.8 L1688.2 720.7 L1688.9 679.9 L1689.6 719.1 L1690.3 658.0 L1691.0 704.3 L1691.7 643.1 L1692.4 696.2 L1693.1 623.4 L1693.8 671.3 L1694.5 606.2 L1695.2 655.0 L1695.9 614.5 L1696.6 646.1 L1697.3 604.0 L1698.0 647.0 L1698.7 606.3 L1699.4 661.4 L1700.1 626.8 L1700.8 671.0 L1701.5 635.4 L1702.2 688.8 L1702.9 653.4 L1703.6 691.2 L1704.3 671.3 L1705.0 709.2 L1705.7 677.8 L1706.4 707.9 L1707.1 694.8 L1707.8 719.3 L1708.5 695.7 L1709.2 720.3 L1709.9 703.9 L1710.6 719.3 L1711.3 708.4 L1712.0 719.4 L1712.7 701.6 L1713.4 719.0 L1714.1 699.2 L1714.8 708.6 L1715.5 686.9 L1716.2 703.2 L1716.9 680.8 L1717.6 698.0 L1718.3 667.6 L1719.0 699.6 L1719.7 669.4 L1720.4 687.0 L1721.1 652.4 L1721.8 681.9 L1722.5 650.9 L1723.2 668.6 L1723.9 653.7 L1724.6 662.8 L1725.3 650.9 L1726.0 666.1 L1726.7 654.0 L1727.4 669.7 L1728.1 657.1 L1728.8 670.4 L1729.5 662.5 L1730.2 674.1 L1730.9 658.2 L1731.6 671.4 L1732.3 652.6 L1733.0 672.8 L1733.7 646.3 L1734.4 668.3 L1735.1 637.2 L1735.8 659.8 L1736.5 634.7 L1737.2 653.1 L1737.9 626.9 L1738.6 646.8 L1739.3 629.1 L1740.0 655.3 L1740.7 632.9 L1741.4 667.5 L1742.1 636.3 L1742.8 670.7 L1743.5 648.1 L1744.2 671.6 L1744.9 643.8 L1745.6 664.3 L1746.3 641.0 L1747.0 661.2 L1747.7 625.4 L1748.4 657.7 L1749.1 618.0 L1749.8 641.9 L1750.5 593.9 L1751.2 636.5 L1751.9 576.5 L1752.6 622.8 L1753.3 586.4 L1754.0 612.4 L1754.7 577.6 L1755.4 628.6 L1756.1 593.1 L1756.8 654.9 L1757.5 590.8 L1758.2 659.0 L1758.9 599.7 L1759.6 668.2 L1760.3 598.7 L1761.0 697.2 L1761.7 627.0 L1762.4 681.8 L1763.1 649.2 L1763.8 694.8 L1764.5 649.1 L1765.2 683.9 L1765.9 630.7 L1766.6 690.1 L1767.3 613.8 L1768.0 670.4 L1768.7 613.1 L1769.4 655.4 L1770.1 618.3 L1770.8 644.5 L1771.5 612.6 L1772.2 639.4 L1772.9 616.3 L1773.6 657.7 L1774.3 608.3 L1775.0 661.0 L1775.7 623.0 L1776.4 674.4 L1777.1 628.3 L1777.8 663.5 L1778.5 639.1 L1779.2 669.2 L1779.9 648.8 L1780.6 666.9 L1781.3 644.7 L1782.0 670.8 L1782.7 644.9 L1783.4 669.3 L1784.1 635.4 L1784.8 664.0 L1785.5 633.6 L1786.2 656.5 L1786.9 628.6 L1787.6 646.9 L1788.3 623.3 L1789.0 639.3 L1789.7 619.8 L1790.4 639.0 L1791.1 622.9 L1791.8 678.1 L1792.5 629.0 L1793.2 696.4 L1793.9 639.2 L1794.6 738.0 L1795.3 653.6 L1796.0 766.9 L1796.7 636.9 L1797.4 777.1 L1798.1 670.0 L1798.8 754.0 L1799.5 684.6 L1800.2 772.3 L1800.9 709.9 L1801.6 774.8 L1802.3 747.7 L1803.0 777.6 L1803.7 735.7 L1804.4 774.3 L1805.1 737.4 L1805.8 764.9 L1806.5 729.8 L1807.2 748.7 L1807.9 723.9 L1808.6 743.2 L1809.3 717.8 L1810.0 736.0 L1810.7 707.0 L1811.4 726.7 L1812.1 702.9 L1812.8 726.0 L1813.5 696.2 L1814.2 719.6 L1814.9 702.2 L1815.6 713.6 L1816.3 697.5 L1817.0 712.2 L1817.7 696.9 L1818.4 704.9 L1819.1 698.5 L1819.8 709.6 L1820.5 696.3 L1821.2 707.2 L1821.9 690.5 L1822.6 709.7 L1823.3 682.2 L1824.0 707.2 L1824.7 674.7 L1825.4 709.4 L1826.1 659.9 L1826.8 702.1 L1827.5 656.6 L1828.2 697.9 L1828.9 635.5 L1829.6 689.8 L1830.3 627.6 L1831.0 677.9 L1831.7 632.4 L1832.4 660.3 L1833.1 633.8 L1833.8 661.7 L1834.5 626.7 L1835.2 672.2 L1835.9 635.6 L1836.6 675.4 L1837.3 636.9 L1838.0 687.5 L1838.7 653.6 L1839.4 685.9 L1840.1 659.0 L1840.8 692.5 L1841.5 669.3 L1842.2 696.6 L1842.9 662.0 L1843.6 694.4 L1844.3 658.8 L1845.0 687.4 L1845.7 649.6 L1846.4 693.9 L1847.1 634.1 L1847.8 670.7 L1848.5 629.9 L1849.2 655.3 L1849.9 617.8 L1850.6 645.5 L1851.3 611.4 L1852.0 639.5 L1852.7 603.3 L1853.4 635.0 L1854.1 610.1 L1854.8 657.6 L1855.5 613.2 L1856.2 656.0 L1856.9 610.1 L1857.6 673.7 L1858.3 612.1 L1859.0 678.7 L1859.7 632.0 L1860.4 679.6 L1861.1 651.5 L1861.8 683.7 L1862.5 655.0 L1863.2 679.8 L1863.9 645.6 L1864.6 677.2 L1865.3 650.2 L1866.0 678.1 L1866.7 633.7 L1867.4 659.9 L1868.1 626.7 L1868.8 651.9 L1869.5 622.3 L1870.2 643.2 L1870.9 611.6 L1871.6 638.2 L1872.3 610.7 L1873.0 632.6 L1873.7 607.0 L1874.4 629.2 L1875.1 606.8 L1875.8 631.9 L1876.5 607.9 L1877.2 637.4 L1877.9 613.0 L1878.6 650.6 L1879.3 608.1 L1880.0 669.2 L1880.7 626.0 L1881.4 670.2 L1882.1 639.0 L1882.8 671.5 L1883.5 647.9 L1884.2 669.5 L1884.9 649.9 L1885.6 673.4 L1886.3 652.1 L1887.0 674.2 L1887.7 647.1 L1888.4 668.6 L1889.1 646.8 L1889.8 664.9 L1890.5 640.9 L1891.2 660.6 L1891.9 631.5 L1892.6 656.5 L1893.3 623.0 L1894.0 652.5 L1894.7 618.5 L1895.4 648.4 L1896.1 612.1 L1896.8 638.6 L1897.5 598.1 L1898.2 630.1 L1898.9 584.9 L1899.6 622.7 L1900.3 582.4 L1901.0 611.4 L1901.7 574.9 L1902.4 603.9 L1903.1 568.1 L1903.8 594.5 L1904.5 568.6 L1905.2 596.1 L1905.9 565.7 L1906.6 605.5 L1907.3 577.6 L1908.0 612.5 L1908.7 574.5 L1909.4 621.2 L1910.1 582.5 L1910.8 636.1 L1911.5 587.1 L1912.2 643.4 L1912.9 608.1 L1913.6 640.7 L1914.3 615.1 L1915.0 653.5 L1915.7 630.1 L1916.4 665.0 L1917.1 630.1 L1917.8 667.5 L1918.5 643.8 L1919.2 670.6 L1919.9 643.0 L1920.6 675.0 L1921.3 651.3 L1922.0 679.1 L1922.7 659.4 L1923.4 686.2 L1924.1 667.4 L1924.8 694.0 L1925.5 673.6 L1926.2 694.7 L1926.9 679.9 L1927.6 696.8 L1928.3 681.9 L1929.0 693.1 L1929.7 677.3 L1930.4 697.9 L1931.1 664.2 L1931.8 695.6 L1932.5 653.0 L1933.2 698.4 L1933.9 631.7 L1934.6 676.3 L1935.3 623.4 L1936.0 676.8 L1936.7 614.3 L1937.4 655.2 L1938.1 591.0 L1938.8 641.7 L1939.5 588.9 L1940.2 634.9 L1940.9 593.2 L1941.6 623.2 L1942.3 591.4 L1943.0 604.3 L1943.7 591.0 L1944.4 594.5 L1945.1 590.0 L1945.8 594.3 L1946.5 589.9 L1947.2 603.8 L1947.9 591.5 L1948.6 617.4 L1949.3 599.7 L1950.0 637.3 L1950.7 600.4 L1951.4 634.8 L1952.1 598.4 L1952.8 654.5 L1953.5 591.4 L1954.2 669.0 L1954.9 616.5 L1955.6 666.5 L1956.3 623.9 L1957.0 672.8 L1957.7 636.5 L1958.4 668.0 L1959.1 629.2 L1959.8 661.3 L1960.5 610.0 L1961.2 657.8 L1961.9 613.6 L1962.6 644.6 L1963.3 605.6 L1964.0 642.8 L1964.7 592.9 L1965.4 628.3 L1966.1 593.6 L1966.8 614.0 L1967.5 592.5 L1968.2 609.3 L1968.9 592.5 L1969.6 604.6 L1970.3 593.5 L1971.0 609.4 L1971.7 594.8 L1972.4 609.3 L1973.1 601.1 L1973.8 616.1 L1974.5 601.2 L1975.2 612.9 L1975.9 604.9 L1976.6 614.0 L1977.3 605.0 L1978.0 615.8 L1978.7 599.6 L1979.4 612.0 L1980.1 592.0 L1980.8 611.5 L1981.5 586.1 L1982.2 609.4 L1982.9 588.3 L1983.6 604.7 L1984.3 577.2 L1985.0 600.6 L1985.7 576.5 L1986.4 599.4 L1987.1 573.8 L1987.8 603.1 L1988.5 572.3 L1989.2 635.0 L1989.9 579.9 L1990.6 669.5 L1991.3 597.0 L1992.0 655.5 L1992.7 575.6 L1993.4 665.9 L1994.1 577.5 L1994.8 672.7 L1995.5 625.4 L1996.2 670.6 L1996.9 637.4 L1997.6 671.7 L1998.3 632.0 L1999.0 660.7 L1999.7 618.0 L2000.4 659.3 L2001.1 600.8 L2001.8 640.2 L2002.5 602.5 L2003.2 631.0 L2003.9 585.0 L2004.6 624.6 L2005.3 580.1 L2006.0 609.6 L2006.7 563.2 L2007.4 601.2 L2008.1 568.4 L2008.8 593.9 L2009.5 550.9 L2010.2 583.5 L2010.9 541.2 L2011.6 582.4 L2012.3 544.7 L2013.0 566.1 L2013.7 543.0 L2014.4 561.3 L2015.1 542.7 L2015.8 554.8 L2016.5 540.5 L2017.2 552.7 L2017.9 539.2 L2018.6 552.1 L2019.3 542.2 L2020.0 557.0 L2020.7 546.2 L2021.4 557.9 L2022.1 544.8 L2022.8 571.0 L2023.5 548.6 L2024.2 578.6 L2024.9 552.0 L2025.6 590.1 L2026.3 554.8 L2027.0 605.2 L2027.7 566.4 L2028.4 609.2 L2029.1 567.1 L2029.8 626.5 L2030.5 579.6 L2031.2 619.3 L2031.9 579.3 L2032.6 620.6 L2033.3 594.7 L2034.0 620.4 L2034.7 600.1 L2035.4 621.0 L2036.1 590.6 L2036.8 627.8 L2037.5 579.2 L2038.2 617.4 L2038.9 577.7 L2039.6 600.6 L2040.3 567.4 L2041.0 593.6 L2041.7 561.4 L2042.4 591.4 L2043.1 557.4 L2043.8 583.5 L2044.5 563.5 L2045.2 585.1 L2045.9 562.4 L2046.6 598.8 L2047.3 566.7 L2048.0 602.9 L2048.7 564.6 L2049.4 615.0 L2050.1 584.0 L2050.8 622.5 L2051.5 593.6 L2052.2 631.0 L2052.9 598.2 L2053.6 641.6 L2054.3 608.2 L2055.0 646.9 L2055.7 614.0 L2056.4 670.8 L2057.1 629.7 L2057.8 681.5 L2058.5 643.7 L2059.2 672.8 L2059.9 639.5 L2060.6 679.2 L2061.3 657.2 L2062.0 678.0 L2062.7 664.5 L2063.4 687.0 L2064.1 661.0 L2064.8 679.3 L2065.5 654.6 L2066.2 680.7 L2066.9 646.9 L2067.6 669.7 L2068.3 647.1 L2069.0 661.1 L2069.7 634.3 L2070.4 659.4 L2071.1 633.9 L2071.8 658.5 L2072.5 618.8 L2073.2 643.5 L2073.9 615.2 L2074.6 632.6 L2075.3 598.7 L2076.0 638.9 L2076.7 584.9 L2077.4 635.2 L2078.1 580.2 L2078.8 624.8 L2079.5 578.4 L2080.2 604.6 L2080.9 563.5 L2081.6 593.6 L2082.3 561.2 L2083.0 585.9 L2083.7 552.2 L2084.4 585.6 L2085.1 540.1 L2085.8 568.5 L2086.5 537.9 L2087.2 556.5 L2087.9 533.5 L2088.6 549.8 L2089.3 526.8 L2090.0 549.9 L2090.7 523.0 L2091.4 538.7 L2092.1 517.4 L2092.8 535.4 L2093.5 514.5 L2094.2 535.4 L2094.9 510.6 L2095.6 526.1 L2096.3 509.3 L2097.0 541.9 L2097.7 515.2 L2098.4 559.3 L2099.1 510.9 L2099.8 593.5 L2100.5 525.2 L2101.2 605.0 L2101.9 506.1 L2102.6 626.6 L2103.3 524.6 L2104.0 626.2 L2104.7 554.9 L2105.4 651.3 L2106.1 586.0 L2106.8 646.4 L2107.5 610.1 L2108.2 646.6 L2108.9 614.2 L2109.6 642.4 L2110.3 611.6 L2111.0 643.6 L2111.7 597.5 L2112.4 633.5 L2113.1 585.9 L2113.8 623.2 L2114.5 576.6 L2115.2 611.6 L2115.9 571.4 L2116.6 608.1 L2117.3 554.8 L2118.0 592.9 L2118.7 561.7 L2119.4 591.6 L2120.1 561.0 L2120.8 591.4 L2121.5 554.5 L2122.2 611.6 L2122.9 571.8 L2123.6 623.4 L2124.3 575.0 L2125.0 619.1 L2125.7 572.5 L2126.4 633.5 L2127.1 587.8 L2127.8 628.8 L2128.5 599.9 L2129.2 633.4 L2129.9 612.0 L2130.6 637.9 L2131.3 628.6 L2132.0 643.0 L2132.7 632.0 L2133.4 638.8 L2134.1 627.6 L2134.8 637.6 L2135.5 619.7 L2136.2 632.9 L2136.9 601.0 L2137.6 627.0 L2138.3 589.1 L2139.0 634.4 L2139.7 584.5 L2140.4 622.7 L2141.1 567.9 L2141.8 612.3 L2142.5 543.6 L2143.2 600.4 L2143.9 540.2 L2144.6 586.2 L2145.3 515.6 L2146.0 572.6 L2146.7 520.7 L2147.4 564.1 L2148.1 507.7 L2148.8 540.1 L2149.5 503.8 L2150.2 530.4 L2150.9 506.1 L2151.6 524.1 L2152.3 507.8 L2153.0 523.0 L2153.7 513.7 L2154.4 530.3 L2155.1 515.2 L2155.8 539.5 L2156.5 519.1 L2157.2 554.4 L2157.9 530.3 L2158.6 571.8 L2159.3 534.1 L2160.0 577.0 L2160.7 536.4 L2161.4 581.2 L2162.1 541.7 L2162.8 613.0 L2163.5 545.7 L2164.2 610.3 L2164.9 565.2 L2165.6 625.4 L2166.3 580.2 L2167.0 630.5 L2167.7 588.3 L2168.4 621.7 L2169.1 604.3 L2169.8 627.2 L2170.5 614.7 L2171.2 630.1 L2171.9 613.1 L2172.6 626.0 L2173.3 609.3 L2174.0 623.2 L2174.7 601.0 L2175.4 613.2 L2176.1 581.4 L2176.8 617.8 L2177.5 576.5 L2178.2 603.2 L2178.9 555.9 L2179.6 599.4 L2180.3 553.0 L2181.0 590.4 L2181.7 536.7 L2182.4 577.7 L2183.1 520.2 L2183.8 578.8 L2184.5 510.5 L2185.2 556.7 L2185.9 509.4 L2186.6 543.9 L2187.3 497.5 L2188.0 561.6 L2188.7 495.2 L2189.4 583.1 L2190.1 509.5 L2190.8 581.9 L2191.5 513.8 L2192.2 590.6 L2192.9 523.9 L2193.6 589.1 L2194.3 520.3 L2195.0 571.1 L2195.7 521.4 L2196.4 573.3 L2197.1 532.2 L2197.8 570.5 L2198.5 519.5 L2199.2 581.2 L2199.9 540.1 L2200.6 593.5 L2201.3 528.0 L2202.0 595.4 L2202.7 557.7 L2203.4 609.7 L2204.1 558.7 L2204.8 608.2 L2205.5 553.3 L2206.2 600.8 L2206.9 555.9 L2207.6 596.2 L2208.3 538.9 L2209.0 596.1 L2209.7 516.5 L2210.4 573.2 L2211.1 514.1 L2211.8 570.9 L2212.5 511.1 L2213.2 544.5 L2213.9 512.2 L2214.6 534.1 L2215.3 507.8 L2216.0 516.5 L2216.7 504.3 L2217.4 523.3 L2218.1 505.8 L2218.8 541.1 L2219.5 510.9 L2220.2 549.6 L2220.9 510.8 L2221.6 564.3 L2222.3 507.8 L2223.0 571.6 L2223.7 511.3 L2224.4 589.1 L2225.1 534.3 L2225.8 580.6 L2226.5 547.1 L2227.2 591.5 L2227.9 564.9 L2228.6 586.8 L2229.3 568.3 L2230.0 592.4 L2230.7 566.9 L2231.4 589.7 L2232.1 559.9 L2232.8 582.8 L2233.5 554.0 L2234.2 574.1 L2234.9 547.7 L2235.6 569.9 L2236.3 536.6 L2237.0 563.8 L2237.7 536.7 L2238.4 552.4 L2239.1 532.1 L2239.8 550.5 L2240.5 532.7 L2241.2 547.2 L2241.9 535.9 L2242.6 550.4 L2243.3 530.4 L2244.0 559.8 L2244.7 530.4 L2245.4 569.1 L2246.1 534.8 L2246.8 576.2 L2247.5 539.5 L2248.2 577.8 L2248.9 557.2 L2249.6 585.0 L2250.3 560.2 L2251.0 595.1 L2251.7 567.5 L2252.4 604.3 L2253.1 576.4 L2253.8 610.2 L2254.5 576.8 L2255.2 621.9 L2255.9 580.4 L2256.6 620.1 L2257.3 596.9 L2258.0 621.5 L2258.7 600.7 L2259.4 620.0 L2260.1 594.3 L2260.8 614.9 L2261.5 586.3 L2262.2 619.9 L2262.9 589.0 L2263.6 609.2 L2264.3 573.1 L2265.0 599.6 L2265.7 576.8 L2266.4 597.6 L2267.1 572.5 L2267.8 592.3 L2268.5 570.0 L2269.2 586.1 L2269.9 566.6 L2270.6 595.3 L2271.3 568.6 L2272.0 606.3 L2272.7 575.9 L2273.4 604.9 L2274.1 578.5 L2274.8 619.4 L2275.5 584.0 L2276.2 621.5 L2276.9 589.8 L2277.6 620.3 L2278.3 595.8 L2279.0 618.5 L2279.7 584.7 L2280.4 616.0 L2281.1 579.8 L2281.8 609.6 L2282.5 565.6 L2283.2 615.4 L2283.9 569.3 L2284.6 594.6 L2285.3 566.2 L2286.0 590.0 L2286.7 559.0 L2287.4 581.0 L2288.1 556.9 L2288.8 568.6 L2289.5 550.4 L2290.2 565.0 L2290.9 544.9 L2291.6 562.0 L2292.3 541.7 L2293.0 557.9 L2293.7 520.4 L2294.4 553.1 L2295.1 506.2 L2295.8 547.1 L2296.5 512.6 L2297.2 548.9 L2297.9 517.7" stroke="#4d4d4d" stroke-width="3.6"/>
<path d="M343.0 1450.0 L343.3 1000.0 L346.7 932.0 L348.7 974.0 L350.0 990.0 L350.7 1010.1 L352.7 1035.2 L353.7 1061.0 L354.7 1045.1 L356.7 1037.0 L358.7 1016.1 L360.0 1000.0 L360.7 1001.2 L362.7 992.1 L364.7 992.8 L365.0 990.7 L366.7 1002.9 L368.7 1015.0 L370.7 1021.1 L372.5 1037.5 L372.7 1033.3 L374.7 1000.9 L376.7 974.0 L378.0 950.0 L378.7 947.2 L380.7 917.1 L382.7 881.7 L384.0 862.0 L384.7 859.1 L386.7 850.4 L388.0 850.0 L388.7 848.5 L390.7 864.2 L391.0 873.6 L392.7 889.8 L394.7 907.3 L396.7 927.8 L398.7 955.2 L400.5 967.0 L400.7 967.2 L402.7 966.4 L404.7 960.1 L406.7 955.6 L408.7 958.7 L410.7 954.5 L412.7 958.7 L414.7 964.7 L416.7 958.4 L417.0 955.6 L418.7 951.6 L420.7 963.1 L422.7 962.5 L424.7 962.5 L426.7 965.9 L428.7 964.7 L430.7 965.9 L432.7 960.3 L433.0 962.6 L434.7 962.4 L436.7 953.5 L438.7 932.8 L440.7 933.0 L442.7 920.5 L444.7 930.4 L446.7 933.3 L448.7 941.1 L449.7 944.0 L450.7 947.1 L452.7 960.2 L454.7 960.4 L456.7 967.0 L458.7 958.0 L460.7 936.8 L462.7 930.7 L464.7 916.9 L466.7 896.3 L468.4 885.0 L468.7 888.0 L470.7 906.7 L472.7 917.2 L474.7 927.1 L475.4 932.0 L476.7 930.5 L478.7 936.1 L480.7 945.8 L482.7 941.8 L484.7 957.0 L486.7 951.5 L487.0 955.6 L488.7 966.1 L490.7 962.1 L492.7 976.9 L494.7 978.2 L496.7 980.2 L498.7 985.5 L499.0 986.0 L500.7 988.8 L502.7 988.6 L504.7 985.1 L506.7 984.2 L508.7 989.4 L510.7 996.4 L512.7 992.4 L513.0 990.7 L514.7 983.8 L516.7 994.3 L518.7 992.2 L520.7 994.2 L522.7 982.8 L524.7 990.4 L526.7 979.5 L527.0 986.0 L528.7 992.4 L530.7 991.5 L532.7 995.7 L534.7 1010.2 L536.7 1003.5 L538.6 1014.0 L538.7 1014.1 L540.7 1015.0 L542.7 1001.8 L544.7 997.2 L546.7 1003.2 L548.7 992.2 L550.0 990.7 L550.7 989.7 L552.7 967.3 L554.7 960.2 L556.7 945.2 L558.7 940.6 L559.7 932.0 L560.7 932.1 L562.7 957.8 L564.7 956.4 L566.7 979.6 L568.7 981.6 L569.0 990.7 L570.7 983.0 L572.7 986.6 L574.7 972.0 L576.7 967.6 L578.7 970.5 L580.7 961.1 L580.8 962.6 L582.7 963.0 L584.7 984.8 L586.7 979.9 L588.7 985.8 L590.0 997.7 L590.7 992.3 L592.7 987.5 L594.7 980.5 L596.7 962.2 L598.7 956.7 L599.5 955.6 L600.7 952.6 L602.7 965.5 L604.7 977.0 L606.5 979.0 L606.7 984.3 L608.7 1004.0 L610.7 1019.1 L612.7 1038.0 L614.7 1052.9 L616.0 1061.0 L616.7 1062.8 L618.7 1065.3 L620.7 1078.0 L622.7 1079.1 L624.7 1082.1 L625.0 1089.0 L626.7 1087.6 L628.7 1093.3 L630.7 1081.4 L632.7 1087.5 L634.7 1083.9 L636.7 1085.0 L638.7 1078.8 L639.0 1084.0 L640.7 1090.3 L642.7 1079.0 L644.7 1083.5 L646.7 1080.0 L648.7 1073.2 L650.7 1080.6 L651.0 1079.6 L652.7 1073.5 L654.7 1071.5 L656.7 1070.4 L658.7 1071.5 L660.7 1069.7 L662.7 1075.0 L664.7 1075.8 L666.7 1072.7 L668.7 1078.7 L670.7 1076.7 L672.7 1076.4 L674.4 1068.0 L674.7 1063.8 L676.7 1065.8 L678.7 1061.7 L680.7 1065.6 L682.7 1064.9 L684.7 1066.3 L686.0 1061.0 L686.7 1064.4 L688.7 1058.4 L690.7 1061.6 L692.7 1064.0 L694.7 1056.9 L696.7 1058.1 L698.0 1065.6 L698.7 1064.0 L700.7 1058.7 L702.7 1067.1 L704.7 1059.0 L706.7 1056.1 L708.7 1056.5 L709.5 1061.0 L710.7 1057.5 L712.7 1058.0 L714.7 1063.4 L716.7 1063.3 L718.7 1061.8 L720.7 1067.6 L721.0 1065.6 L722.7 1055.6 L724.7 1059.4 L726.7 1053.6 L728.7 1043.5 L730.7 1032.4 L732.7 1027.0 L733.0 1025.8 L734.7 1028.7 L736.7 1022.8 L738.7 1030.3 L740.7 1033.9 L742.7 1030.8 L744.6 1037.5 L744.7 1031.4 L746.7 1041.2 L748.7 1033.9 L750.7 1035.4 L752.7 1040.6 L754.7 1035.2 L756.0 1033.0 L756.7 1029.4 L758.7 1038.6 L760.7 1028.3 L762.7 1021.8 L764.7 1030.6 L766.7 1020.6 L768.0 1025.8 L768.7 1023.6 L770.7 1033.5 L772.7 1033.0 L774.7 1025.1 L776.7 1033.6 L778.7 1034.9 L780.0 1037.5 L780.7 1037.0 L782.7 1032.1 L784.7 1037.0 L786.7 1028.5 L788.7 1030.9 L790.7 1031.4 L791.5 1033.0 L792.7 1038.8 L794.7 1024.6 L796.7 1033.6 L798.7 1023.9 L800.7 1028.3 L802.7 1024.4 L803.0 1025.8 L804.7 1029.8 L806.7 1039.5 L808.7 1039.4 L810.7 1040.7 L811.7 1049.0 L812.7 1042.3 L814.7 1039.5 L816.7 1048.9 L818.7 1043.7 L820.7 1046.3 L822.7 1040.2 L823.0 1037.0 L824.7 1029.3 L826.7 1038.2 L828.7 1039.3 L830.7 1037.8 L832.7 1033.7 L834.7 1031.0 L835.0 1033.0 L836.7 1034.7 L838.7 1042.5 L840.7 1037.3 L842.7 1043.8 L844.7 1045.8 L846.7 1055.7 L846.8 1049.0 L848.7 1051.7 L850.7 1051.6 L852.7 1048.2 L854.7 1038.2 L856.7 1035.2 L858.5 1037.5 L858.7 1037.1 L860.7 1031.7 L862.7 1032.1 L864.7 1033.9 L866.7 1035.4 L868.7 1028.4 L870.0 1025.8 L870.7 1031.0 L872.7 1021.4 L874.7 1026.5 L876.7 1037.3 L878.7 1025.7 L880.7 1031.0 L882.0 1033.0 L882.7 1026.1 L884.7 1025.1 L886.7 1036.0 L888.7 1036.2 L890.7 1029.8 L892.7 1020.8 L893.6 1025.8 L894.7 1020.9 L896.7 1016.7 L898.7 1020.0 L900.7 1016.8 L902.7 1009.9 L904.7 1007.9 L905.0 1007.0 L906.7 1000.5 L908.7 1006.1 L910.7 1011.4 L912.7 1007.6 L914.7 996.9 L916.7 1002.4 L917.0 1002.0 L918.7 1007.0 L920.7 1002.2 L922.7 1013.8 L924.7 1009.3 L926.7 1015.0 L928.7 1014.0 L930.7 991.7 L932.7 979.8 L934.7 955.7 L936.4 933.8 L936.7 936.9 L938.7 943.5 L940.7 961.0 L942.7 967.9 L944.7 989.5 L945.0 990.0 L946.7 991.5 L948.7 976.0 L950.7 975.9 L952.7 970.5 L954.7 964.3 L955.0 965.0 L956.7 963.2 L958.7 960.7 L960.7 951.3 L962.7 941.9 L964.7 943.4 L965.6 933.8 L966.7 938.4 L968.7 957.5 L970.7 969.2 L972.7 983.6 L974.7 997.9 L976.7 1001.5 L978.0 1014.0 L978.7 1014.9 L980.7 1008.9 L982.7 1010.2 L984.7 1012.2 L986.7 1004.4 L987.0 1002.0 L988.7 981.2 L990.7 972.1 L992.7 959.9 L994.3 944.0 L994.7 952.0 L996.7 959.6 L998.7 973.2 L1000.7 972.3 L1002.7 997.3 L1004.7 1005.2 L1006.0 1009.0 L1006.7 1005.8 L1008.7 996.8 L1010.7 982.9 L1012.7 957.5 L1014.7 954.7 L1016.7 940.4 L1018.7 918.3 L1020.0 914.0 L1020.7 921.6 L1022.7 930.3 L1024.7 935.5 L1026.7 955.8 L1028.7 956.9 L1030.7 975.1 L1031.7 979.0 L1032.7 976.0 L1034.7 969.1 L1036.7 969.7 L1038.7 964.1 L1040.7 956.1 L1042.7 963.4 L1044.7 945.9 L1045.8 950.0 L1046.7 947.6 L1048.7 966.0 L1050.7 982.5 L1052.7 991.0 L1053.3 992.0 L1054.7 997.1 L1056.7 994.8 L1058.7 999.4 L1060.7 996.1 L1062.7 996.9 L1064.5 1002.0 L1064.7 1001.6 L1066.7 990.2 L1068.7 986.8 L1070.7 992.7 L1072.7 979.7 L1074.7 984.1 L1076.7 980.4 L1078.7 970.4 L1080.7 970.3 L1081.0 967.0 L1082.7 969.1 L1084.7 967.8 L1086.7 954.3 L1088.7 952.1 L1090.7 952.9 L1092.0 953.0 L1092.7 953.3 L1094.7 953.1 L1096.7 951.1 L1098.7 961.7 L1100.7 970.2 L1102.7 963.5 L1104.0 967.0 L1104.7 966.6 L1106.7 961.4 L1108.7 959.5 L1110.7 963.1 L1112.7 951.8 L1114.7 954.1 L1116.0 950.0 L1116.7 948.7 L1118.7 946.4 L1120.7 949.0 L1122.7 933.3 L1124.7 941.5 L1126.7 930.6 L1127.7 932.0 L1128.7 926.4 L1130.7 913.0 L1132.7 895.3 L1134.7 875.7 L1135.0 875.0 L1136.7 885.2 L1138.7 880.1 L1140.7 894.2 L1142.7 896.6 L1144.7 904.8 L1144.8 904.6 L1146.7 917.4 L1148.7 924.5 L1150.7 930.0 L1152.7 933.1 L1154.6 943.5 L1154.7 939.9 L1156.7 951.3 L1158.7 956.0 L1160.7 964.7 L1162.7 982.9 L1164.3 982.5 L1164.7 977.0 L1166.7 989.0 L1168.7 983.8 L1170.7 985.0 L1172.7 985.7 L1174.7 983.5 L1175.0 990.0 L1176.7 989.2 L1178.7 984.8 L1180.7 988.8 L1182.7 986.4 L1184.7 995.3 L1186.7 995.5 L1188.7 988.2 L1190.0 989.0 L1190.7 990.8 L1192.7 994.4 L1194.7 984.6 L1196.7 980.5 L1198.0 986.0 L1198.7 977.8 L1200.7 965.0 L1202.7 960.1 L1204.7 943.4 L1205.0 943.5 L1206.7 941.4 L1208.7 948.0 L1210.7 939.7 L1212.7 948.4 L1214.7 945.8 L1216.7 942.4 L1218.7 948.8 L1220.7 941.6 L1221.0 944.0 L1222.7 948.0 L1224.7 946.7 L1226.7 938.3 L1228.7 939.1 L1230.7 941.0 L1232.7 935.9 L1233.0 932.0 L1234.7 940.8 L1236.7 948.5 L1238.7 955.4 L1240.7 958.6 L1242.7 968.0 L1244.7 963.6 L1244.8 967.0 L1246.7 972.7 L1248.7 977.5 L1250.7 977.0 L1252.7 981.4 L1254.7 982.2 L1256.5 990.7 L1256.7 996.3 L1258.7 975.1 L1260.7 964.7 L1262.7 958.8 L1264.7 935.9 L1266.7 935.3 L1268.0 920.5 L1268.7 913.5 L1270.7 908.1 L1272.7 909.1 L1274.7 905.3 L1276.7 909.7 L1278.7 905.3 L1280.0 897.0 L1280.7 901.6 L1282.7 898.8 L1284.7 902.4 L1286.7 899.8 L1288.7 910.8 L1290.7 906.1 L1291.6 908.7 L1292.7 905.5 L1294.7 910.8 L1296.7 903.5 L1298.7 905.9 L1300.0 908.7 L1300.7 912.3 L1302.7 891.9 L1304.7 884.7 L1306.7 877.7 L1308.7 870.5 L1310.7 865.2 L1311.8 862.0 L1312.7 860.5 L1314.7 866.8 L1316.7 870.3 L1318.7 875.1 L1320.7 885.6 L1322.7 886.4 L1324.7 891.9 L1326.0 897.0 L1326.7 899.8 L1328.7 885.9 L1330.7 883.8 L1332.7 891.1 L1334.7 881.4 L1336.7 883.3 L1338.7 870.3 L1340.0 873.6 L1340.7 874.4 L1342.7 880.4 L1344.7 874.1 L1346.7 881.7 L1348.7 880.6 L1350.7 878.6 L1352.7 888.8 L1354.7 881.0 L1356.7 883.4 L1358.6 885.0 L1358.7 886.6 L1360.7 878.0 L1362.7 881.8 L1364.7 874.2 L1366.7 870.0 L1368.7 865.2 L1370.0 862.0 L1370.7 871.2 L1372.7 876.9 L1374.7 880.3 L1376.7 880.1 L1378.7 885.0 L1380.7 892.3 L1382.7 890.7 L1384.7 897.2 L1386.7 908.7 L1388.7 908.6 L1390.7 888.0 L1392.7 892.6 L1394.7 881.2 L1396.0 873.6 L1396.7 880.4 L1398.7 869.5 L1400.7 874.5 L1402.7 883.5 L1404.7 873.3 L1406.7 876.4 L1408.7 881.7 L1410.0 885.0 L1410.7 881.3 L1412.7 884.3 L1414.7 895.5 L1416.7 890.2 L1418.7 906.8 L1420.7 905.4 L1422.7 899.7 L1424.0 908.7 L1424.7 912.1 L1426.7 894.8 L1428.7 891.1 L1430.7 884.8 L1432.7 871.1 L1433.5 873.6 L1434.7 875.6 L1436.7 872.3 L1438.7 877.7 L1440.7 891.8 L1442.7 893.7 L1444.7 892.5 L1446.7 898.2 L1447.6 897.0 L1448.7 901.8 L1450.7 889.3 L1452.7 893.1 L1454.7 886.3 L1456.7 884.6 L1458.7 883.0 L1460.7 883.1 L1462.7 879.2 L1464.0 885.0 L1464.7 881.4 L1466.7 886.0 L1468.7 891.7 L1470.7 897.3 L1472.7 900.0 L1474.7 899.2 L1475.7 897.0 L1476.7 895.0 L1478.7 897.0 L1480.7 881.6 L1482.7 876.6 L1484.7 883.1 L1486.7 876.1 L1487.0 873.6 L1488.7 867.6 L1490.7 868.2 L1492.7 865.1 L1494.7 865.1 L1496.7 863.1 L1498.7 860.8 L1499.0 862.0 L1500.7 864.7 L1502.7 862.9 L1504.7 857.1 L1506.7 853.8 L1508.7 848.9 L1510.7 854.1 L1510.8 850.0 L1512.7 855.4 L1514.7 842.1 L1516.7 847.2 L1518.7 845.2 L1520.7 842.6 L1522.5 838.5 L1522.7 831.7 L1524.7 841.5 L1526.7 838.2 L1528.7 840.1 L1530.7 847.9 L1532.7 850.9 L1534.0 850.0 L1534.7 850.5 L1536.7 848.5 L1538.7 844.0 L1540.7 836.8 L1542.7 826.5 L1544.7 833.6 L1546.0 827.0 L1546.7 830.4 L1548.7 826.4 L1550.7 818.7 L1552.7 806.2 L1554.7 804.4 L1556.7 799.0 L1557.6 803.0 L1558.7 809.6 L1560.7 816.4 L1562.7 819.3 L1564.7 839.1 L1566.7 847.7 L1568.7 854.8 L1569.0 850.0 L1570.7 839.5 L1572.7 825.3 L1574.7 812.4 L1576.7 809.9 L1578.7 796.4 L1580.7 778.4 L1581.0 780.0 L1582.7 792.9 L1584.7 795.9 L1586.7 801.6 L1588.7 809.7 L1590.7 822.3 L1592.7 827.0 L1594.7 828.3 L1596.7 833.3 L1598.7 827.2 L1600.7 837.8 L1602.7 833.3 L1604.0 838.0 L1604.7 844.9 L1606.7 836.4 L1608.7 840.2 L1610.7 845.3 L1612.7 845.1 L1614.7 849.1 L1616.0 850.0 L1616.7 855.2 L1618.7 841.1 L1620.7 846.4 L1622.7 841.9 L1624.7 840.0 L1626.7 831.6 L1628.7 828.5 L1630.0 827.0 L1630.7 822.9 L1632.7 819.8 L1634.7 811.5 L1636.7 805.5 L1638.7 804.7 L1640.7 795.4 L1642.7 794.5 L1644.0 791.7 L1644.7 794.1 L1646.7 793.9 L1648.7 795.5 L1650.7 805.7 L1652.7 813.3 L1654.7 807.4 L1656.7 817.0 L1658.7 821.4 L1660.7 828.5 L1662.7 829.2 L1663.0 827.0 L1664.7 825.8 L1666.7 826.3 L1668.7 837.7 L1670.7 831.6 L1672.7 829.3 L1674.6 838.5 L1674.7 844.0 L1676.7 831.9 L1678.7 831.6 L1680.7 829.6 L1682.7 826.7 L1684.7 831.7 L1686.0 827.0 L1686.7 825.8 L1688.7 830.4 L1690.7 833.3 L1692.7 842.7 L1694.7 833.7 L1696.7 845.3 L1698.7 841.8 L1700.4 850.0 L1700.7 844.3 L1702.7 847.8 L1704.7 841.1 L1706.7 833.1 L1708.7 837.7 L1710.7 839.3 L1712.7 832.0 L1714.4 827.0 L1714.7 826.4 L1716.7 827.7 L1718.7 826.0 L1720.7 811.2 L1722.7 810.1 L1724.7 816.7 L1726.7 812.8 L1728.5 803.4 L1728.7 798.8 L1730.7 804.6 L1732.7 805.5 L1734.7 799.6 L1736.7 799.6 L1738.7 795.2 L1740.7 789.2 L1742.5 791.7 L1742.7 788.7 L1744.7 799.3 L1746.7 821.3 L1748.7 826.3 L1750.7 846.4 L1752.7 855.9 L1753.4 862.0 L1754.7 853.2 L1756.7 849.1 L1758.7 828.3 L1760.0 822.0 L1760.7 822.6 L1762.7 823.9 L1764.7 824.2 L1766.7 827.1 L1768.7 834.5 L1770.7 841.5 L1772.0 838.5 L1772.7 830.6 L1774.7 838.5 L1776.7 829.5 L1778.7 815.2 L1780.7 820.1 L1781.5 815.0 L1782.7 817.6 L1784.7 826.0 L1786.7 826.5 L1788.5 838.5 L1788.7 838.5 L1790.7 836.6 L1792.7 838.5 L1794.7 833.5 L1796.7 833.4 L1798.7 831.8 L1800.0 827.0 L1800.7 824.2 L1802.7 825.0 L1804.7 835.7 L1806.7 834.3 L1808.7 838.3 L1810.7 844.8 L1812.0 850.0 L1812.7 849.0 L1814.7 845.8 L1816.7 841.9 L1818.7 842.0 L1820.7 825.0 L1822.7 827.5 L1824.7 816.0 L1826.7 820.4 L1828.0 815.0 L1828.7 812.9 L1830.7 805.2 L1832.7 804.6 L1834.7 806.6 L1836.7 800.5 L1838.7 804.4 L1840.7 792.3 L1842.4 791.7 L1842.7 789.7 L1844.7 800.7 L1846.7 798.4 L1848.7 793.2 L1850.7 805.7 L1852.0 803.0 L1852.7 802.8 L1854.7 816.9 L1856.7 817.6 L1858.7 825.4 L1860.7 832.1 L1861.0 827.0 L1862.7 822.6 L1864.7 824.1 L1866.7 804.7 L1868.7 804.1 L1870.0 803.0 L1870.7 809.8 L1872.7 802.3 L1874.7 817.2 L1876.7 827.1 L1878.7 827.8 L1880.7 834.9 L1882.7 828.1 L1884.7 840.0 L1886.7 846.0 L1888.7 848.3 L1889.0 850.0 L1890.7 846.7 L1892.7 849.9 L1894.7 838.0 L1896.7 833.9 L1898.5 838.5 L1898.7 840.0 L1900.7 846.9 L1902.7 846.0 L1904.7 845.0 L1906.7 840.5 L1908.7 850.9 L1910.7 839.2 L1912.7 843.5 L1914.7 852.9 L1916.7 855.7 L1917.0 850.0 L1918.7 851.9 L1920.7 863.4 L1922.7 855.4 L1924.7 866.6 L1926.7 862.6 L1928.7 869.0 L1929.0 873.6 L1930.7 865.5 L1932.7 858.7 L1934.7 860.7 L1936.7 858.1 L1938.7 850.7 L1940.7 850.0 L1942.7 850.2 L1944.7 839.2 L1946.7 844.2 L1948.7 842.3 L1950.7 838.4 L1952.0 838.5 L1952.7 846.1 L1954.7 838.2 L1956.7 846.6 L1958.7 851.0 L1960.7 853.6 L1962.7 866.6 L1964.0 862.0 L1964.7 863.1 L1966.7 862.2 L1968.7 861.1 L1970.7 861.1 L1972.7 868.8 L1974.7 866.5 L1976.7 864.2 L1978.0 862.0 L1978.7 853.5 L1980.7 850.1 L1982.7 833.2 L1984.7 826.6 L1986.7 811.8 L1987.5 815.0 L1988.7 816.8 L1990.7 818.8 L1992.7 811.6 L1994.7 808.5 L1996.7 801.7 L1998.7 802.4 L1999.0 803.0 L2000.7 807.5 L2002.7 812.8 L2004.7 816.4 L2006.7 821.6 L2008.7 835.5 L2010.7 844.4 L2011.0 838.5 L2012.7 848.5 L2014.7 851.5 L2016.7 848.7 L2018.7 858.8 L2020.7 873.0 L2022.6 873.6 L2022.7 880.4 L2024.7 867.9 L2026.7 862.0 L2028.7 857.6 L2030.7 844.9 L2032.7 845.7 L2034.0 838.5 L2034.7 833.9 L2036.7 833.9 L2038.7 820.9 L2040.7 816.7 L2042.7 807.9 L2043.7 803.4 L2044.7 807.7 L2046.7 814.1 L2048.7 829.1 L2050.7 833.6 L2052.7 836.2 L2053.0 838.5 L2054.7 832.2 L2056.7 830.7 L2058.7 820.9 L2060.7 812.0 L2062.4 803.4 L2062.7 810.1 L2064.7 796.2 L2066.7 802.2 L2068.7 801.3 L2070.7 797.5 L2072.7 803.9 L2074.7 802.7 L2076.7 792.8 L2078.7 794.9 L2080.7 795.9 L2081.0 791.7 L2082.7 796.3 L2084.7 793.2 L2086.7 801.7 L2088.7 796.9 L2090.7 795.9 L2092.7 805.6 L2093.0 803.4 L2094.7 809.1 L2096.7 809.6 L2098.7 815.1 L2100.7 826.5 L2102.7 827.9 L2104.5 827.0 L2104.7 825.2 L2106.7 828.7 L2108.7 819.4 L2110.7 812.9 L2112.7 812.4 L2114.7 810.3 L2116.0 803.4 L2116.7 811.4 L2118.7 813.9 L2120.7 819.7 L2122.7 821.5 L2124.7 822.0 L2126.7 834.0 L2128.0 838.5 L2128.7 834.1 L2130.7 850.6 L2132.7 845.9 L2134.7 853.5 L2136.7 859.5 L2138.7 855.2 L2139.7 862.0 L2140.7 868.0 L2142.7 862.4 L2144.7 860.7 L2146.7 870.5 L2148.7 869.5 L2150.7 879.3 L2151.3 873.6 L2152.7 875.6 L2154.7 874.3 L2156.7 877.2 L2158.7 881.4 L2160.7 892.3 L2162.7 899.6 L2163.0 897.0 L2164.7 891.2 L2166.7 896.4 L2168.7 899.7 L2170.0 900.7 L2170.7 902.9 L2172.7 893.1 L2174.7 880.9 L2175.0 873.6 L2176.7 871.2 L2178.7 865.0 L2180.7 854.5 L2182.7 855.1 L2184.0 850.0 L2184.7 842.7 L2186.7 838.1 L2188.7 839.3 L2190.7 828.7 L2192.7 824.4 L2194.7 813.9 L2196.7 804.4 L2198.0 803.4 L2198.7 804.8 L2200.7 809.8 L2202.7 808.8 L2204.7 821.8 L2206.7 827.7 L2208.7 819.7 L2210.0 827.0 L2210.7 821.7 L2212.7 826.1 L2214.7 820.6 L2216.7 809.0 L2218.7 810.3 L2220.7 800.9 L2221.6 803.0 L2222.7 808.4 L2224.7 804.2 L2226.7 803.0 L2228.7 797.7 L2230.7 801.3 L2232.7 802.3 L2234.7 800.6 L2236.7 797.8 L2238.7 798.0 L2240.0 802.5 L2240.7 805.5 L2242.7 808.9 L2244.7 807.7 L2246.7 804.2 L2248.7 806.9 L2250.7 797.0 L2252.7 798.1 L2254.4 802.5 L2254.7 805.3 L2256.7 792.7 L2258.7 791.9 L2260.7 800.3 L2262.7 789.6 L2264.7 787.4 L2266.7 788.5 L2268.4 788.4 L2268.7 793.5 L2270.7 781.1 L2272.7 794.1 L2274.7 785.5 L2276.7 789.5 L2278.7 788.0 L2280.7 782.7 L2282.5 788.4 L2282.7 795.5 L2284.7 786.3 L2286.7 798.3 L2288.7 801.9 L2290.7 798.1 L2292.7 808.2 L2294.7 797.3 L2296.7 801.1 L2298.0 808.0" stroke="#ec3d3f" stroke-width="3.6"/>
<path d="M345.3 1478.0 L345.3 1338.0 L344.0 1300.0" stroke="#2f68d0" stroke-width="3"/>
<path d="M345.3 1208.0 L345.3 1050.0 L347.0 1060.0 L349.0 1073.0 L355.0 1000.0 L357.2 986.1 L359.4 978.5 L361.6 965.6 L363.8 957.1 L365.0 950.0 L366.0 941.4 L368.2 913.2 L370.4 890.6 L372.0 880.0 L372.6 879.4 L374.8 857.1 L377.0 840.8 L379.2 833.3 L380.0 822.0 L381.4 825.2 L382.0 827.0 L383.6 831.4 L385.8 828.4 L388.0 831.1 L389.0 830.0 L390.2 833.6 L392.4 852.7 L394.6 868.9 L396.0 873.6 L396.8 874.4 L399.0 878.1 L401.2 878.8 L403.0 878.0 L403.4 874.4 L405.6 888.9 L407.8 893.9 L410.0 897.6 L412.0 906.0 L412.2 900.4 L414.4 904.9 L416.6 896.0 L418.8 894.0 L421.0 891.1 L423.2 884.6 L424.0 880.6 L425.4 888.7 L427.6 888.4 L428.6 892.0 L429.8 888.5 L432.0 872.0 L434.2 864.9 L436.4 851.8 L438.0 838.5 L438.6 831.7 L440.8 823.5 L442.7 820.0 L443.0 819.0 L445.2 842.6 L447.4 852.1 L449.6 869.6 L451.8 881.4 L452.0 885.0 L454.0 875.7 L456.2 864.1 L458.4 853.4 L460.6 845.7 L461.4 841.0 L462.8 834.3 L465.0 825.8 L467.0 810.4 L467.2 812.7 L469.4 818.8 L471.6 821.3 L473.8 826.1 L476.0 826.0 L477.8 826.8 L478.2 825.5 L480.4 846.4 L482.5 855.0 L482.6 860.3 L484.8 864.6 L487.0 865.8 L489.2 872.3 L491.4 871.6 L493.6 883.4 L494.0 880.6 L495.8 884.1 L498.0 884.2 L500.2 885.0 L502.4 897.0 L503.5 894.7 L504.6 900.5 L506.8 891.5 L509.0 900.3 L511.2 896.9 L513.4 894.9 L515.0 899.4 L515.6 895.7 L517.8 895.8 L520.0 891.8 L522.0 883.0 L522.2 877.0 L524.4 872.5 L526.6 855.5 L528.8 852.1 L531.0 837.1 L531.6 836.0 L533.2 845.0 L535.4 852.6 L537.6 853.9 L539.8 865.9 L541.0 864.0 L542.0 864.2 L544.2 866.8 L546.4 877.7 L548.6 876.6 L550.0 885.0 L550.8 879.4 L553.0 875.3 L555.2 871.2 L557.4 859.9 L559.6 852.3 L559.7 857.0 L561.8 856.9 L564.0 846.4 L566.2 849.1 L568.4 844.1 L569.0 838.5 L570.6 830.7 L572.8 822.8 L575.0 814.6 L576.0 810.4 L577.2 820.8 L579.4 836.3 L580.8 845.5 L581.6 845.2 L583.8 843.1 L586.0 843.8 L588.2 836.3 L590.0 834.0 L590.4 834.9 L592.6 847.3 L594.8 851.1 L597.0 861.0 L599.2 877.6 L599.5 873.6 L601.4 871.9 L603.6 870.0 L605.8 861.9 L606.5 866.6 L608.0 863.5 L610.2 862.0 L612.4 852.6 L614.6 855.9 L616.0 852.6 L616.8 854.9 L619.0 850.9 L621.2 859.4 L623.4 860.0 L625.0 862.0 L625.6 868.2 L627.8 880.0 L630.0 897.0 L632.2 898.0 L634.4 897.1 L636.6 887.9 L638.8 887.0 L641.0 892.5 L642.0 890.0 L643.2 896.4 L645.4 890.9 L647.6 895.5 L649.8 899.3 L652.0 898.7 L653.0 901.7 L654.2 899.0 L656.4 896.3 L658.6 894.7 L660.8 895.1 L663.0 889.7 L665.2 888.3 L667.4 890.5 L669.6 880.2 L671.8 884.0 L672.0 883.0 L674.0 884.9 L676.2 879.4 L678.4 877.7 L680.6 883.3 L682.8 876.3 L685.0 874.9 L686.0 878.0 L687.2 873.9 L689.4 870.6 L691.6 857.8 L693.8 854.0 L696.0 848.0 L698.2 847.2 L700.0 838.5 L700.4 838.4 L702.6 846.0 L704.8 841.5 L707.0 846.3 L709.2 852.8 L711.4 858.4 L712.0 855.0 L713.6 855.7 L715.8 854.9 L718.0 855.5 L720.2 861.7 L722.4 859.7 L723.6 864.0 L724.6 868.4 L726.8 870.9 L729.0 865.9 L731.2 869.2 L733.4 877.2 L735.6 877.6 L737.6 878.0 L737.8 881.1 L740.0 872.6 L742.2 866.9 L744.4 865.4 L746.6 867.5 L748.8 858.4 L751.0 855.9 L753.2 853.3 L755.4 850.0 L756.0 850.0 L757.6 853.7 L759.8 865.7 L762.0 863.7 L764.2 868.5 L766.4 885.2 L768.0 885.0 L768.6 888.0 L770.8 885.0 L773.0 874.7 L775.2 876.2 L777.4 871.7 L779.6 859.7 L780.0 862.0 L781.8 865.2 L784.0 866.9 L786.2 865.7 L788.4 864.8 L790.6 862.9 L792.8 864.1 L795.0 863.6 L797.2 862.5 L799.4 868.9 L801.6 866.2 L803.0 869.0 L803.8 874.8 L806.0 873.0 L808.2 889.0 L810.4 893.2 L811.7 895.0 L812.6 900.3 L814.8 901.4 L817.0 903.0 L819.2 900.9 L821.4 896.2 L823.6 905.7 L825.8 900.9 L826.6 905.0 L828.0 905.3 L830.2 913.2 L832.4 915.6 L834.6 918.3 L835.0 920.0 L836.8 921.5 L839.0 913.9 L841.2 906.9 L843.4 901.9 L845.6 904.6 L847.8 896.4 L848.7 895.0 L850.0 896.3 L852.2 888.6 L854.4 883.9 L856.6 884.6 L858.8 884.7 L861.0 874.6 L863.2 878.4 L865.4 876.9 L866.0 871.4 L867.6 857.6 L869.8 834.2 L872.0 807.0 L874.2 815.9 L876.4 837.0 L878.0 846.0 L878.6 854.0 L880.8 859.9 L883.0 877.1 L883.8 885.0 L885.2 882.0 L887.4 884.0 L889.6 882.1 L891.8 881.9 L894.0 884.4 L896.2 875.2 L898.0 880.0 L898.4 875.8 L900.6 880.2 L902.8 883.7 L905.0 886.7 L907.2 900.3 L909.4 902.6 L911.6 897.8 L913.0 904.6 L913.8 902.6 L916.0 895.1 L918.2 889.6 L920.4 884.5 L922.6 882.3 L924.8 876.1 L927.0 868.2 L929.2 860.8 L931.4 856.9 L932.5 856.0 L933.6 859.7 L935.8 880.2 L938.0 897.7 L940.2 909.8 L942.0 924.0 L942.4 918.6 L944.6 915.3 L946.8 913.1 L949.0 911.3 L951.2 908.9 L953.4 900.1 L955.6 900.4 L957.8 894.1 L960.0 887.6 L961.7 885.0 L962.2 883.3 L964.4 883.2 L966.6 884.1 L968.8 879.6 L971.0 881.2 L973.2 877.2 L975.4 873.4 L977.3 875.0 L977.6 876.9 L979.8 889.8 L982.0 894.1 L984.2 909.1 L985.0 914.0 L986.4 912.3 L988.6 916.0 L990.8 915.3 L993.0 907.8 L995.2 912.3 L997.4 909.8 L999.6 902.6 L1000.0 905.0 L1001.8 907.0 L1004.0 906.2 L1006.2 916.7 L1008.4 917.9 L1010.6 923.3 L1012.8 925.2 L1014.3 924.0 L1015.0 922.3 L1017.2 911.9 L1019.4 898.9 L1021.6 882.7 L1022.0 885.0 L1023.8 881.6 L1026.0 869.9 L1028.2 866.0 L1030.0 865.6 L1030.4 869.6 L1032.6 866.9 L1034.8 872.8 L1037.0 878.3 L1039.2 892.2 L1040.0 890.0 L1041.4 881.9 L1043.6 872.9 L1045.8 874.6 L1047.4 865.6 L1048.0 860.9 L1050.2 867.1 L1052.4 863.4 L1054.6 863.3 L1056.8 862.8 L1059.0 856.0 L1061.2 861.5 L1063.4 868.6 L1065.6 864.9 L1067.8 877.6 L1070.0 879.4 L1072.2 886.3 L1072.7 885.0 L1074.4 882.1 L1076.6 890.9 L1078.8 894.7 L1081.0 886.9 L1083.2 891.6 L1085.0 895.0 L1085.4 894.5 L1087.6 890.8 L1089.8 877.8 L1092.0 870.5 L1094.2 864.6 L1096.4 862.1 L1098.0 856.0 L1098.6 858.8 L1100.8 854.8 L1103.0 854.5 L1105.2 854.9 L1107.4 854.4 L1109.6 855.1 L1111.7 856.0 L1111.8 851.6 L1114.0 859.7 L1116.2 868.5 L1118.4 865.9 L1120.6 873.2 L1122.8 870.3 L1123.4 875.0 L1125.0 880.0 L1127.2 884.7 L1129.4 887.8 L1131.6 890.0 L1133.8 893.6 L1136.0 899.3 L1138.2 906.1 L1140.0 905.0 L1140.4 900.9 L1142.6 898.7 L1144.8 904.2 L1147.0 904.5 L1149.2 898.5 L1151.0 897.0 L1151.4 896.0 L1153.6 896.8 L1155.8 888.8 L1158.0 887.5 L1160.2 884.5 L1162.4 886.6 L1164.6 881.4 L1166.8 878.3 L1169.0 881.2 L1171.2 881.9 L1173.4 872.4 L1174.5 873.6 L1175.6 875.3 L1177.8 871.0 L1180.0 874.8 L1182.2 870.7 L1184.4 866.2 L1186.6 864.5 L1188.8 861.3 L1191.0 865.2 L1193.2 863.1 L1195.4 859.7 L1197.6 860.7 L1198.0 862.0 L1199.8 858.2 L1202.0 860.9 L1204.2 851.7 L1206.4 858.7 L1208.6 850.8 L1209.6 850.0 L1210.8 854.8 L1213.0 860.1 L1215.2 870.9 L1217.4 877.5 L1219.6 881.3 L1221.0 885.0 L1221.8 886.8 L1224.0 895.0 L1226.2 902.1 L1228.4 902.7 L1230.6 911.9 L1232.8 920.0 L1235.0 920.5 L1237.2 912.8 L1239.4 902.8 L1241.6 895.5 L1243.8 893.4 L1246.0 885.6 L1248.2 881.3 L1249.0 873.6 L1250.4 870.9 L1252.6 853.9 L1254.8 843.0 L1256.5 838.5 L1257.0 837.2 L1259.2 842.5 L1261.4 854.3 L1263.6 862.1 L1265.0 862.0 L1265.8 869.1 L1268.0 869.3 L1270.2 883.4 L1272.4 884.6 L1274.6 893.2 L1276.8 903.9 L1279.0 908.7 L1281.2 900.5 L1283.4 896.9 L1285.6 901.3 L1287.8 891.7 L1290.0 888.7 L1292.2 887.5 L1294.4 884.9 L1296.6 873.9 L1298.8 873.8 L1300.0 873.6 L1301.0 873.8 L1303.2 876.5 L1305.4 875.5 L1307.6 881.8 L1309.8 887.9 L1312.0 885.0 L1314.2 887.2 L1316.4 892.3 L1318.6 891.0 L1320.8 896.1 L1323.0 903.8 L1325.2 901.1 L1327.4 913.0 L1329.6 916.7 L1331.8 911.1 L1334.0 923.8 L1335.0 920.5 L1336.2 915.6 L1338.4 913.4 L1340.6 906.8 L1342.8 895.2 L1345.0 892.9 L1347.0 885.0 L1347.2 886.4 L1349.4 884.9 L1351.6 875.8 L1353.8 878.0 L1356.0 877.1 L1358.2 870.8 L1360.4 866.1 L1362.6 858.3 L1363.0 862.0 L1364.8 863.4 L1367.0 863.7 L1369.2 869.5 L1371.4 870.9 L1373.6 871.5 L1375.8 869.1 L1377.0 873.6 L1378.0 878.3 L1380.2 884.9 L1382.4 886.7 L1384.6 901.3 L1386.8 905.5 L1389.0 906.4 L1391.2 922.1 L1393.4 920.1 L1393.7 925.0 L1395.6 916.4 L1397.8 912.9 L1400.0 903.8 L1402.2 895.5 L1404.4 888.7 L1405.0 885.0 L1406.6 884.5 L1408.8 882.9 L1411.0 881.4 L1413.2 880.3 L1415.4 887.4 L1417.6 887.8 L1419.8 885.5 L1422.0 887.6 L1424.2 883.5 L1426.4 882.4 L1428.6 883.7 L1429.0 885.0 L1430.8 894.6 L1433.0 892.2 L1435.2 904.0 L1437.4 907.9 L1439.6 920.4 L1440.6 920.5 L1441.8 917.7 L1444.0 915.1 L1446.2 913.6 L1448.4 912.9 L1450.6 913.1 L1452.0 908.7 L1452.8 906.3 L1455.0 909.5 L1457.2 899.2 L1459.4 898.8 L1461.6 894.7 L1463.8 892.6 L1466.0 897.8 L1468.2 895.0 L1470.4 886.8 L1472.6 884.7 L1474.8 885.0 L1475.7 885.0 L1477.0 887.0 L1479.2 886.8 L1481.4 884.9 L1483.6 882.1 L1485.8 876.2 L1488.0 877.9 L1490.2 874.5 L1492.4 877.1 L1494.6 876.5 L1496.8 871.4 L1499.0 873.6 L1501.2 871.9 L1503.4 878.8 L1505.6 871.6 L1507.8 881.2 L1510.0 883.2 L1512.2 884.9 L1514.4 879.8 L1516.6 882.7 L1518.8 884.1 L1521.0 885.7 L1522.5 885.0 L1523.2 891.7 L1525.4 893.0 L1527.6 893.3 L1529.8 904.0 L1532.0 904.4 L1534.0 908.7 L1534.2 909.2 L1536.4 904.2 L1538.6 889.8 L1540.8 891.8 L1543.0 884.2 L1545.2 875.9 L1546.0 873.6 L1547.4 873.2 L1549.6 871.4 L1551.8 867.3 L1554.0 869.9 L1556.2 863.4 L1558.4 867.4 L1560.6 867.8 L1562.8 864.5 L1565.0 864.7 L1567.2 868.0 L1569.0 862.0 L1569.4 866.1 L1571.6 856.7 L1573.8 862.8 L1576.0 859.8 L1578.2 852.4 L1580.4 854.7 L1582.6 852.2 L1584.8 849.4 L1587.0 853.3 L1589.2 856.5 L1591.4 848.7 L1592.7 850.0 L1593.6 854.5 L1595.8 853.7 L1598.0 848.7 L1600.2 857.8 L1602.4 856.1 L1604.6 860.8 L1606.8 859.6 L1609.0 861.0 L1611.2 857.8 L1613.4 864.0 L1615.6 866.5 L1616.0 862.0 L1617.8 866.9 L1620.0 863.3 L1622.2 867.9 L1624.4 866.0 L1626.6 862.9 L1628.8 863.3 L1631.0 864.8 L1633.2 867.2 L1635.4 867.8 L1637.6 872.6 L1639.5 873.6 L1639.8 875.6 L1642.0 872.8 L1644.2 870.4 L1646.4 871.8 L1648.6 867.0 L1650.8 867.6 L1653.0 869.8 L1655.2 864.8 L1657.4 861.3 L1659.6 868.1 L1661.8 865.0 L1663.0 862.0 L1664.0 860.5 L1666.2 860.6 L1668.4 862.3 L1670.6 863.1 L1672.8 859.0 L1675.0 856.5 L1677.2 858.8 L1679.4 865.1 L1681.6 858.1 L1683.8 861.6 L1686.0 862.0 L1688.2 857.5 L1690.4 856.6 L1692.6 855.1 L1694.8 856.5 L1697.0 852.8 L1699.2 850.1 L1701.4 849.9 L1703.6 849.5 L1705.8 851.9 L1708.0 846.1 L1709.8 850.0 L1710.2 844.5 L1712.4 847.8 L1714.6 846.0 L1716.8 847.9 L1719.0 839.4 L1721.2 841.9 L1723.4 840.5 L1725.6 835.1 L1727.8 844.1 L1728.5 838.5 L1730.0 839.4 L1732.2 843.9 L1734.4 853.9 L1736.6 856.4 L1738.8 867.2 L1741.0 870.0 L1741.7 873.6 L1743.2 874.9 L1745.4 882.0 L1747.6 897.4 L1749.8 900.3 L1752.0 913.9 L1753.4 915.8 L1754.2 912.8 L1756.4 910.7 L1758.6 896.5 L1760.8 888.8 L1763.0 881.7 L1765.2 880.6 L1767.4 871.3 L1769.6 860.9 L1769.8 862.0 L1771.8 862.5 L1774.0 874.5 L1776.2 883.2 L1778.4 884.5 L1779.0 885.0 L1780.6 874.8 L1782.8 868.6 L1785.0 862.8 L1787.2 857.2 L1788.5 857.0 L1789.4 853.2 L1791.6 856.6 L1793.8 866.3 L1796.0 872.2 L1798.2 867.7 L1800.0 873.6 L1800.4 876.1 L1802.6 855.6 L1804.8 844.1 L1807.0 830.4 L1809.2 815.6 L1809.6 808.0 L1811.4 825.0 L1813.6 854.9 L1814.0 862.0 L1815.8 864.7 L1818.0 870.2 L1820.2 862.6 L1822.4 866.7 L1824.6 874.6 L1826.8 868.4 L1828.0 873.6 L1829.0 873.7 L1831.2 875.9 L1833.4 882.5 L1835.6 888.0 L1837.8 882.5 L1840.0 891.6 L1842.2 894.3 L1842.4 892.0 L1844.4 886.4 L1846.6 873.0 L1848.8 866.9 L1851.0 850.4 L1853.2 840.8 L1855.4 828.5 L1856.4 826.8 L1857.6 831.3 L1859.8 830.7 L1862.0 831.1 L1864.2 832.7 L1866.0 838.5 L1866.4 838.8 L1868.6 825.8 L1870.4 815.0 L1870.8 817.3 L1873.0 813.8 L1875.2 814.9 L1877.4 811.2 L1879.6 817.3 L1881.8 809.8 L1882.0 815.0 L1884.0 818.6 L1886.2 826.1 L1888.4 829.5 L1890.6 827.4 L1892.8 833.3 L1894.0 838.5 L1895.0 844.3 L1897.2 846.5 L1899.4 853.6 L1901.6 858.0 L1903.8 857.8 L1905.6 862.0 L1906.0 865.5 L1908.2 859.2 L1910.4 850.3 L1912.6 846.1 L1914.8 838.3 L1917.0 838.5 L1919.2 841.7 L1921.4 852.1 L1923.6 847.1 L1925.8 856.5 L1928.0 855.8 L1929.0 862.0 L1930.2 859.7 L1932.4 870.3 L1934.6 870.2 L1936.8 872.4 L1939.0 877.8 L1940.7 885.0 L1941.2 884.5 L1943.4 874.8 L1945.6 859.5 L1947.8 852.8 L1950.0 851.9 L1952.0 838.5 L1952.2 835.2 L1954.4 836.9 L1956.6 833.2 L1958.8 835.1 L1961.0 831.0 L1963.2 830.9 L1964.0 827.0 L1965.4 828.8 L1967.6 827.1 L1969.8 829.1 L1972.0 830.2 L1974.2 840.5 L1975.8 838.5 L1976.4 833.0 L1978.6 827.6 L1980.8 833.6 L1983.0 820.7 L1985.2 823.9 L1987.4 810.6 L1987.5 815.0 L1989.6 818.9 L1991.8 820.7 L1994.0 831.9 L1996.2 834.0 L1998.4 838.8 L1999.0 838.5 L2000.6 842.9 L2002.8 846.2 L2005.0 842.6 L2007.2 847.5 L2009.4 847.9 L2011.0 850.0 L2011.6 850.3 L2013.8 875.0 L2015.6 885.0 L2016.0 885.4 L2018.2 884.2 L2020.4 873.9 L2022.6 873.9 L2024.8 869.5 L2027.0 868.8 L2029.2 858.0 L2029.6 862.0 L2031.4 862.1 L2033.6 865.7 L2035.8 863.3 L2038.0 870.8 L2040.2 874.9 L2042.4 873.6 L2044.6 878.3 L2046.0 878.0 L2046.8 878.1 L2049.0 870.8 L2051.2 869.2 L2053.4 873.3 L2055.6 863.1 L2057.7 862.0 L2057.8 861.6 L2060.0 866.1 L2062.2 875.8 L2064.4 883.5 L2066.6 900.2 L2067.0 897.0 L2068.8 896.5 L2071.0 894.4 L2073.2 892.0 L2075.4 884.2 L2077.6 884.0 L2079.8 876.0 L2081.0 873.6 L2082.0 869.0 L2084.2 866.7 L2086.4 858.1 L2088.6 850.5 L2090.5 838.5 L2090.8 839.4 L2093.0 850.7 L2095.2 854.8 L2097.4 869.5 L2099.6 876.7 L2100.0 873.6 L2101.8 859.6 L2104.0 852.3 L2106.2 829.8 L2108.4 814.5 L2109.0 815.0 L2110.6 818.5 L2112.8 815.1 L2115.0 819.0 L2117.2 821.7 L2119.4 816.5 L2121.6 825.7 L2123.8 821.9 L2126.0 825.0 L2128.0 827.0 L2128.2 825.1 L2130.4 827.6 L2132.6 825.8 L2134.8 818.8 L2137.0 814.9 L2139.2 815.2 L2141.4 814.5 L2142.0 815.0 L2143.6 814.4 L2145.8 820.7 L2148.0 832.9 L2150.2 837.7 L2152.4 846.2 L2154.6 851.8 L2156.0 850.0 L2156.8 856.1 L2159.0 856.1 L2161.2 859.3 L2163.4 866.4 L2165.6 873.6 L2167.8 879.8 L2170.0 885.0 L2172.2 882.3 L2174.4 877.2 L2176.6 879.4 L2178.6 872.7 L2178.8 869.9 L2181.0 867.5 L2183.2 867.8 L2184.0 862.0 L2185.4 862.2 L2187.6 851.5 L2189.8 845.9 L2192.0 847.1 L2194.2 833.3 L2196.4 829.6 L2198.0 830.0 L2198.6 831.0 L2200.8 833.4 L2203.0 831.7 L2205.2 832.8 L2207.4 836.8 L2209.6 845.4 L2211.8 844.4 L2212.0 845.0 L2214.0 851.0 L2216.2 849.6 L2218.4 852.6 L2220.6 843.0 L2222.8 845.4 L2225.0 844.3 L2226.0 850.0 L2227.2 849.3 L2229.4 848.2 L2231.6 845.1 L2233.8 850.5 L2236.0 845.5 L2238.2 847.9 L2240.0 850.0 L2240.4 846.9 L2242.6 851.1 L2244.8 845.0 L2247.0 841.4 L2249.2 837.1 L2251.4 839.5 L2253.6 839.7 L2254.0 838.0 L2255.8 839.0 L2258.0 840.5 L2260.2 838.2 L2262.4 830.9 L2264.6 828.5 L2266.8 834.3 L2268.4 830.6 L2269.0 831.8 L2271.2 821.5 L2273.4 817.9 L2275.6 807.6 L2277.0 802.5 L2277.8 800.8 L2280.0 801.7 L2282.2 802.2 L2284.4 811.2 L2286.6 816.1 L2288.8 818.3 L2291.0 816.0 L2293.2 816.9 L2295.4 820.3 L2297.6 824.5 L2298.0 820.0" stroke="#32a472" stroke-width="3.6"/>
<path d="M343.0 1470.0 L343.2 1200.0 L346.0 1000.0 L349.0 978.6 L349.9 975.8 L350.8 979.7 L351.7 964.1 L352.6 978.4 L353.5 961.4 L354.4 971.4 L355.3 954.1 L356.2 973.8 L357.1 958.9 L358.0 969.1 L358.9 955.3 L359.8 969.9 L360.7 957.8 L361.6 972.1 L362.5 963.3 L363.4 980.3 L364.3 965.6 L365.2 982.5 L366.1 966.4 L367.0 984.2 L367.9 970.9 L368.8 986.8 L369.7 977.7 L370.6 991.7 L371.5 976.8 L372.4 992.2 L373.3 984.0 L374.2 991.7 L375.1 982.3 L376.0 994.0 L376.9 978.1 L377.8 989.0 L378.7 977.4 L379.6 989.5 L380.5 976.1 L381.4 986.5 L382.3 973.8 L383.2 994.2 L384.1 974.7 L385.0 991.2 L385.9 979.7 L386.8 1001.0 L387.7 982.3 L388.6 1000.3 L389.5 989.4 L390.4 1007.8 L391.3 994.3 L392.2 1005.3 L393.1 997.3 L394.0 1008.4 L394.9 1000.3 L395.8 1010.9 L396.7 1002.2 L397.6 1015.1 L398.5 1002.9 L399.4 1018.7 L400.3 993.0 L401.2 1016.2 L402.1 989.3 L403.0 1009.9 L403.9 969.3 L404.8 1000.2 L405.7 965.4 L406.6 982.2 L407.5 948.6 L408.4 977.3 L409.3 947.8 L410.2 969.9 L411.1 947.9 L412.0 964.0 L412.9 946.5 L413.8 964.0 L414.7 947.8 L415.6 974.4 L416.5 953.6 L417.4 975.3 L418.3 960.2 L419.2 976.9 L420.1 960.4 L421.0 976.0 L421.9 964.9 L422.8 977.3 L423.7 971.1 L424.6 982.8 L425.5 971.3 L426.4 983.4 L427.3 969.9 L428.2 981.1 L429.1 976.8 L430.0 984.1 L430.9 974.0 L431.8 988.2 L432.7 978.8 L433.6 988.2 L434.5 977.0 L435.4 990.5 L436.3 981.7 L437.2 991.9 L438.1 981.1 L439.0 992.0 L439.9 982.9 L440.8 995.6 L441.7 983.9 L442.6 992.6 L443.5 977.0 L444.4 990.6 L445.3 972.9 L446.2 986.4 L447.1 962.7 L448.0 982.5 L448.9 957.2 L449.8 973.3 L450.7 942.4 L451.6 966.3 L452.5 933.9 L453.4 953.7 L454.3 932.0 L455.2 953.7 L456.1 933.6 L457.0 947.7 L457.9 929.6 L458.8 954.4 L459.7 929.3 L460.6 965.7 L461.5 945.3 L462.4 976.2 L463.3 948.4 L464.2 981.9 L465.1 956.7 L466.0 982.9 L466.9 964.0 L467.8 981.1 L468.7 959.1 L469.6 970.9 L470.5 952.5 L471.4 970.2 L472.3 941.5 L473.2 959.4 L474.1 929.7 L475.0 952.3 L475.9 925.4 L476.8 939.3 L477.7 920.0 L478.6 941.8 L479.5 921.6 L480.4 933.0 L481.3 915.7 L482.2 941.6 L483.1 917.2 L484.0 945.7 L484.9 924.8 L485.8 951.4 L486.7 930.8 L487.6 959.2 L488.5 938.3 L489.4 961.6 L490.3 944.9 L491.2 966.6 L492.1 952.6 L493.0 966.3 L493.9 948.1 L494.8 969.9 L495.7 937.0 L496.6 965.6 L497.5 924.0 L498.4 962.7 L499.3 920.6 L500.2 939.6 L501.1 904.1 L502.0 939.7 L502.9 906.9 L503.8 929.9 L504.7 904.0 L505.6 939.5 L506.5 916.6 L507.4 946.3 L508.3 921.9 L509.2 954.8 L510.1 926.9 L511.0 967.2 L511.9 943.3 L512.8 972.0 L513.7 952.3 L514.6 970.1 L515.5 947.3 L516.4 963.3 L517.3 940.8 L518.2 953.9 L519.1 935.5 L520.0 952.3 L520.9 932.5 L521.8 944.5 L522.7 925.8 L523.6 941.8 L524.5 930.0 L525.4 943.8 L526.3 929.6 L527.2 944.3 L528.1 929.8 L529.0 946.9 L529.9 932.1 L530.8 948.7 L531.7 935.6 L532.6 947.8 L533.5 936.5 L534.4 949.5 L535.3 932.5 L536.2 945.2 L537.1 925.6 L538.0 943.4 L538.9 921.0 L539.8 939.8 L540.7 914.0 L541.6 932.6 L542.5 909.3 L543.4 927.0 L544.3 901.0 L545.2 920.7 L546.1 902.0 L547.0 912.0 L547.9 895.1 L548.8 908.7 L549.7 892.5 L550.6 903.9 L551.5 889.7 L552.4 900.8 L553.3 888.6 L554.2 897.5 L555.1 880.0 L556.0 898.8 L556.9 882.3 L557.8 896.0 L558.7 880.0 L559.6 906.7 L560.5 882.6 L561.4 912.0 L562.3 893.1 L563.2 914.8 L564.1 901.3 L565.0 922.2 L565.9 902.5 L566.8 926.5 L567.7 908.0 L568.6 924.9 L569.5 911.4 L570.4 929.5 L571.3 916.2 L572.2 926.2 L573.1 915.9 L574.0 930.3 L574.9 920.0 L575.8 926.9 L576.7 919.4 L577.6 928.4 L578.5 913.5 L579.4 926.0 L580.3 912.5 L581.2 926.5 L582.1 911.3 L583.0 925.0 L583.9 912.5 L584.8 920.7 L585.7 906.6 L586.6 920.1 L587.5 910.4 L588.4 921.0 L589.3 905.5 L590.2 915.4 L591.1 904.4 L592.0 917.8 L592.9 906.3 L593.8 915.8 L594.7 905.1 L595.6 919.1 L596.5 905.7 L597.4 917.1 L598.3 909.7 L599.2 920.0 L600.1 911.5 L601.0 924.3 L601.9 914.8 L602.8 929.0 L603.7 916.3 L604.6 930.8 L605.5 914.6 L606.4 930.4 L607.3 917.5 L608.2 934.0 L609.1 922.6 L610.0 939.1 L610.9 927.7 L611.8 945.9 L612.7 931.5 L613.6 946.5 L614.5 933.8 L615.4 948.2 L616.3 920.1 L617.2 945.7 L618.1 917.5 L619.0 942.2 L619.9 900.2 L620.8 924.1 L621.7 897.3 L622.6 917.3 L623.5 893.4 L624.4 911.0 L625.3 895.6 L626.2 906.2 L627.1 895.9 L628.0 906.8 L628.9 899.0 L629.8 911.1 L630.7 901.4 L631.6 912.6 L632.5 897.9 L633.4 910.3 L634.3 900.0 L635.2 912.4 L636.1 900.5 L637.0 913.6 L637.9 895.3 L638.8 909.3 L639.7 892.0 L640.6 904.8 L641.5 888.5 L642.4 905.8 L643.3 885.9 L644.2 898.4 L645.1 886.0 L646.0 900.5 L646.9 881.8 L647.8 897.0 L648.7 877.6 L649.6 885.7 L650.5 866.5 L651.4 883.9 L652.3 858.5 L653.2 878.9 L654.1 854.6 L655.0 868.9 L655.9 839.7 L656.8 861.1 L657.7 835.5 L658.6 855.6 L659.5 832.0 L660.4 851.1 L661.3 836.3 L662.2 851.0 L663.1 838.3 L664.0 855.3 L664.9 844.0 L665.8 862.2 L666.7 845.6 L667.6 862.9 L668.5 849.9 L669.4 868.0 L670.3 849.3 L671.2 862.2 L672.1 843.6 L673.0 860.2 L673.9 837.6 L674.8 855.2 L675.7 836.0 L676.6 859.5 L677.5 838.0 L678.4 872.1 L679.3 832.5 L680.2 877.0 L681.1 855.5 L682.0 895.0 L682.9 866.8 L683.8 908.1 L684.7 878.9 L685.6 909.2 L686.5 890.4 L687.4 912.5 L688.3 889.0 L689.2 909.9 L690.1 879.4 L691.0 897.3 L691.9 875.7 L692.8 895.7 L693.7 866.0 L694.6 883.5 L695.5 861.8 L696.4 876.7 L697.3 858.5 L698.2 876.6 L699.1 860.4 L700.0 872.5 L700.9 856.4 L701.8 873.7 L702.7 858.5 L703.6 875.4 L704.5 861.1 L705.4 876.5 L706.3 862.2 L707.2 876.4 L708.1 863.3 L709.0 883.8 L709.9 869.7 L710.8 890.0 L711.7 870.9 L712.6 894.5 L713.5 871.8 L714.4 897.1 L715.3 883.2 L716.2 903.6 L717.1 886.1 L718.0 909.1 L718.9 891.6 L719.8 914.3 L720.7 894.9 L721.6 914.0 L722.5 894.0 L723.4 913.4 L724.3 889.7 L725.2 905.6 L726.1 886.4 L727.0 900.0 L727.9 874.2 L728.8 895.9 L729.7 870.0 L730.6 889.4 L731.5 866.6 L732.4 883.5 L733.3 856.7 L734.2 879.4 L735.1 851.3 L736.0 872.4 L736.9 842.6 L737.8 856.3 L738.7 834.7 L739.6 849.3 L740.5 824.7 L741.4 847.1 L742.3 827.1 L743.2 842.9 L744.1 826.5 L745.0 852.2 L745.9 830.5 L746.8 856.6 L747.7 836.9 L748.6 863.1 L749.5 847.2 L750.4 877.9 L751.3 853.7 L752.2 881.7 L753.1 861.0 L754.0 881.9 L754.9 866.3 L755.8 888.9 L756.7 875.4 L757.6 886.7 L758.5 874.3 L759.4 884.2 L760.3 867.0 L761.2 884.6 L762.1 868.4 L763.0 882.8 L763.9 862.5 L764.8 875.6 L765.7 859.0 L766.6 874.2 L767.5 861.2 L768.4 870.8 L769.3 861.7 L770.2 876.9 L771.1 861.6 L772.0 883.2 L772.9 868.3 L773.8 887.8 L774.7 870.7 L775.6 892.2 L776.5 879.5 L777.4 898.1 L778.3 881.4 L779.2 900.1 L780.1 885.3 L781.0 899.1 L781.9 876.8 L782.8 892.7 L783.7 869.5 L784.6 891.6 L785.5 859.9 L786.4 885.3 L787.3 857.2 L788.2 871.8 L789.1 848.4 L790.0 873.4 L790.9 847.9 L791.8 861.0 L792.7 846.8 L793.6 867.1 L794.5 847.2 L795.4 868.9 L796.3 854.3 L797.2 876.2 L798.1 858.4 L799.0 876.4 L799.9 845.1 L800.8 872.8 L801.7 835.1 L802.6 875.2 L803.5 820.4 L804.4 850.0 L805.3 808.0 L806.2 828.1 L807.1 802.4 L808.0 815.3 L808.9 794.4 L809.8 804.6 L810.7 787.0 L811.6 805.4 L812.5 785.8 L813.4 800.3 L814.3 773.0 L815.2 793.2 L816.1 768.9 L817.0 786.5 L817.9 768.2 L818.8 780.9 L819.7 757.7 L820.6 771.6 L821.5 750.8 L822.4 768.2 L823.3 745.7 L824.2 765.9 L825.1 739.9 L826.0 761.1 L826.9 739.3 L827.8 759.3 L828.7 744.1 L829.6 767.9 L830.5 739.4 L831.4 783.8 L832.3 752.7 L833.2 797.2 L834.1 763.2 L835.0 805.7 L835.9 779.4 L836.8 808.5 L837.7 768.5 L838.6 795.4 L839.5 759.3 L840.4 782.0 L841.3 751.3 L842.2 774.8 L843.1 748.8 L844.0 763.2 L844.9 745.0 L845.8 761.6 L846.7 750.3 L847.6 765.3 L848.5 750.1 L849.4 767.0 L850.3 756.5 L851.2 781.4 L852.1 761.0 L853.0 788.6 L853.9 767.3 L854.8 805.0 L855.7 774.3 L856.6 815.3 L857.5 791.0 L858.4 821.5 L859.3 795.4 L860.2 840.1 L861.1 810.1 L862.0 856.5 L862.9 817.6 L863.8 839.6 L864.7 762.8 L865.6 842.6 L866.5 743.4 L867.4 831.0 L868.3 727.6 L869.2 776.7 L870.1 725.9 L871.0 746.2 L871.9 732.1 L872.8 754.7 L873.7 732.9 L874.6 757.8 L875.5 742.2 L876.4 759.1 L877.3 744.0 L878.2 759.2 L879.1 740.0 L880.0 763.0 L880.9 736.0 L881.8 751.3 L882.7 727.1 L883.6 750.8 L884.5 729.1 L885.4 767.9 L886.3 728.6 L887.2 775.0 L888.1 740.8 L889.0 796.4 L889.9 767.7 L890.8 831.5 L891.7 772.2 L892.6 863.4 L893.5 801.0 L894.4 896.4 L895.3 814.4 L896.2 910.5 L897.1 867.1 L898.0 913.8 L898.9 882.2 L899.8 916.4 L900.7 879.9 L901.6 899.5 L902.5 857.4 L903.4 887.8 L904.3 839.3 L905.2 875.4 L906.1 818.4 L907.0 857.7 L907.9 800.6 L908.8 834.8 L909.7 785.5 L910.6 825.0 L911.5 767.1 L912.4 803.2 L913.3 755.2 L914.2 794.2 L915.1 755.5 L916.0 775.5 L916.9 757.7 L917.8 784.7 L918.7 767.2 L919.6 788.1 L920.5 770.9 L921.4 790.1 L922.3 762.4 L923.2 788.7 L924.1 751.0 L925.0 777.0 L925.9 737.8 L926.8 762.1 L927.7 738.8 L928.6 758.3 L929.5 738.2 L930.4 757.9 L931.3 738.9 L932.2 766.9 L933.1 746.0 L934.0 785.7 L934.9 759.2 L935.8 875.8 L936.7 791.6 L937.6 903.2 L938.5 785.5 L939.4 896.4 L940.3 790.5 L941.2 909.4 L942.1 791.0 L943.0 829.0 L943.9 757.2 L944.8 779.7 L945.7 761.2 L946.6 790.8 L947.5 765.1 L948.4 792.9 L949.3 778.4 L950.2 801.6 L951.1 783.0 L952.0 798.4 L952.9 778.9 L953.8 795.6 L954.7 774.9 L955.6 791.2 L956.5 768.6 L957.4 789.4 L958.3 760.7 L959.2 776.6 L960.1 756.2 L961.0 775.6 L961.9 749.3 L962.8 769.2 L963.7 740.4 L964.6 759.2 L965.5 735.7 L966.4 754.3 L967.3 737.1 L968.2 759.6 L969.1 736.0 L970.0 767.0 L970.9 740.1 L971.8 776.2 L972.7 749.8 L973.6 788.2 L974.5 763.8 L975.4 790.1 L976.3 765.0 L977.2 782.6 L978.1 756.1 L979.0 780.4 L979.9 750.6 L980.8 770.9 L981.7 740.0 L982.6 765.7 L983.5 738.0 L984.4 759.1 L985.3 738.3 L986.2 769.5 L987.1 741.8 L988.0 768.6 L988.9 753.9 L989.8 790.3 L990.7 760.2 L991.6 797.6 L992.5 770.8 L993.4 808.0 L994.3 783.6 L995.2 809.7 L996.1 781.6 L997.0 810.2 L997.9 775.0 L998.8 793.8 L999.7 763.9 L1000.6 786.8 L1001.5 758.7 L1002.4 780.7 L1003.3 758.3 L1004.2 776.5 L1005.1 763.1 L1006.0 780.1 L1006.9 766.0 L1007.8 789.8 L1008.7 769.2 L1009.6 791.9 L1010.5 758.7 L1011.4 785.5 L1012.3 743.6 L1013.2 789.2 L1014.1 725.0 L1015.0 763.6 L1015.9 726.9 L1016.8 799.8 L1017.7 731.6 L1018.6 857.8 L1019.5 743.8 L1020.4 875.0 L1021.3 802.2 L1022.2 868.1 L1023.1 832.1 L1024.0 878.9 L1024.9 825.7 L1025.8 867.8 L1026.7 817.1 L1027.6 839.7 L1028.5 793.4 L1029.4 825.9 L1030.3 786.7 L1031.2 810.8 L1032.1 781.5 L1033.0 803.3 L1033.9 770.7 L1034.8 790.7 L1035.7 765.9 L1036.6 779.8 L1037.5 764.2 L1038.4 775.0 L1039.3 761.0 L1040.2 772.7 L1041.1 758.1 L1042.0 770.4 L1042.9 754.9 L1043.8 769.6 L1044.7 755.2 L1045.6 776.0 L1046.5 756.7 L1047.4 778.4 L1048.3 760.1 L1049.2 786.0 L1050.1 766.5 L1051.0 789.0 L1051.9 777.0 L1052.8 791.3 L1053.7 773.5 L1054.6 785.8 L1055.5 766.4 L1056.4 787.3 L1057.3 751.8 L1058.2 780.9 L1059.1 744.9 L1060.0 765.3 L1060.9 740.2 L1061.8 761.1 L1062.7 739.1 L1063.6 753.7 L1064.5 737.3 L1065.4 745.9 L1066.3 736.1 L1067.2 749.8 L1068.1 735.9 L1069.0 750.0 L1069.9 740.3 L1070.8 759.4 L1071.7 744.1 L1072.6 774.2 L1073.5 747.4 L1074.4 786.0 L1075.3 751.6 L1076.2 792.6 L1077.1 768.5 L1078.0 833.5 L1078.9 798.1 L1079.8 871.5 L1080.7 816.0 L1081.6 870.8 L1082.5 824.1 L1083.4 886.5 L1084.3 864.2 L1085.2 882.7 L1086.1 859.8 L1087.0 880.5 L1087.9 850.8 L1088.8 866.1 L1089.7 845.0 L1090.6 863.4 L1091.5 843.8 L1092.4 856.3 L1093.3 835.4 L1094.2 845.7 L1095.1 830.4 L1096.0 841.8 L1096.9 827.5 L1097.8 836.3 L1098.7 821.7 L1099.6 831.2 L1100.5 813.5 L1101.4 825.5 L1102.3 809.4 L1103.2 819.1 L1104.1 806.2 L1105.0 816.1 L1105.9 803.4 L1106.8 812.4 L1107.7 798.1 L1108.6 808.4 L1109.5 797.4 L1110.4 803.8 L1111.3 787.4 L1112.2 800.6 L1113.1 780.7 L1114.0 796.1 L1114.9 777.3 L1115.8 788.9 L1116.7 771.2 L1117.6 780.8 L1118.5 762.3 L1119.4 775.3 L1120.3 755.1 L1121.2 776.3 L1122.1 757.4 L1123.0 767.4 L1123.9 757.5 L1124.8 770.2 L1125.7 752.0 L1126.6 771.2 L1127.5 756.8 L1128.4 774.4 L1129.3 761.2 L1130.2 773.8 L1131.1 763.0 L1132.0 779.1 L1132.9 761.9 L1133.8 782.3 L1134.7 769.6 L1135.6 782.3 L1136.5 769.8 L1137.4 790.6 L1138.3 776.5 L1139.2 790.0 L1140.1 781.3 L1141.0 796.0 L1141.9 783.7 L1142.8 797.5 L1143.7 788.4 L1144.6 804.0 L1145.5 789.7 L1146.4 807.0 L1147.3 793.5 L1148.2 808.0 L1149.1 793.1 L1150.0 815.8 L1150.9 799.5 L1151.8 816.8 L1152.7 805.5 L1153.6 818.9 L1154.5 804.4 L1155.4 819.7 L1156.3 807.8 L1157.2 821.1 L1158.1 810.6 L1159.0 827.2 L1159.9 813.4 L1160.8 829.5 L1161.7 816.6 L1162.6 833.5 L1163.5 820.2 L1164.4 835.5 L1165.3 823.8 L1166.2 837.4 L1167.1 823.8 L1168.0 842.5 L1168.9 829.7 L1169.8 846.0 L1170.7 829.8 L1171.6 855.7 L1172.5 823.3 L1173.4 856.8 L1174.3 835.3 L1175.2 851.8 L1176.1 827.7 L1177.0 851.4 L1177.9 829.3 L1178.8 860.1 L1179.7 832.8 L1180.6 857.7 L1181.5 840.7 L1182.4 864.3 L1183.3 831.4 L1184.2 856.4 L1185.1 833.9 L1186.0 854.1 L1186.9 834.8 L1187.8 855.5 L1188.7 833.7 L1189.6 863.2 L1190.5 840.1 L1191.4 862.0 L1192.3 846.6 L1193.2 861.9 L1194.1 839.9 L1195.0 858.0 L1195.9 848.7 L1196.8 864.8 L1197.7 836.6 L1198.6 857.5 L1199.5 849.3 L1200.4 865.2 L1201.3 837.5 L1202.2 860.2 L1203.1 849.4 L1204.0 863.8 L1204.9 850.0 L1205.8 864.1 L1206.7 842.1 L1207.6 868.5 L1208.5 850.1 L1209.4 866.4 L1210.3 840.5 L1211.2 859.9 L1212.1 840.1 L1213.0 867.4 L1213.9 838.5 L1214.8 859.4 L1215.7 839.4 L1216.6 860.3 L1217.5 845.4 L1218.4 860.1 L1219.3 841.2 L1220.2 866.6 L1221.1 846.9 L1222.0 869.2 L1222.9 843.0 L1223.8 865.8 L1224.7 840.4 L1225.6 871.4 L1226.5 841.6 L1227.4 859.1 L1228.3 843.6 L1229.2 860.6 L1230.1 838.5 L1231.0 869.2 L1231.9 839.6 L1232.8 865.8 L1233.7 846.2 L1234.6 859.0 L1235.5 848.7 L1236.4 865.9 L1237.3 837.4 L1238.2 865.6 L1239.1 837.9 L1240.0 861.8 L1240.9 838.4 L1241.8 866.8 L1242.7 843.7 L1243.6 859.7 L1244.5 836.5 L1245.4 861.0 L1246.3 835.1 L1247.2 863.0 L1248.1 840.7 L1249.0 857.7 L1249.9 840.3 L1250.8 856.4 L1251.7 840.3 L1252.6 858.9 L1253.5 839.6 L1254.4 859.9 L1255.3 838.0 L1256.2 865.1 L1257.1 843.7 L1258.0 856.0 L1258.9 838.8 L1259.8 863.1 L1260.7 842.7 L1261.6 865.9 L1262.5 842.8 L1263.4 864.5 L1264.3 845.9 L1265.2 863.3 L1266.1 845.2 L1267.0 857.0 L1267.9 837.4 L1268.8 858.4 L1269.7 837.7 L1270.6 854.1 L1271.5 844.1 L1272.4 862.2 L1273.3 837.9 L1274.2 860.7 L1275.1 843.7 L1276.0 859.3 L1276.9 840.7 L1277.8 853.5 L1278.7 833.9 L1279.6 855.1 L1280.5 834.1 L1281.4 856.3 L1282.3 844.6 L1283.2 854.8 L1284.1 844.7 L1285.0 858.2 L1285.9 835.3 L1286.8 863.3 L1287.7 842.9 L1288.6 854.2 L1289.5 837.2 L1290.4 866.3 L1291.3 836.7 L1292.2 866.1 L1293.1 840.6 L1294.0 860.5 L1294.9 834.2 L1295.8 855.5 L1296.7 846.2 L1297.6 855.3 L1298.5 833.6 L1299.4 862.1 L1300.3 842.0 L1301.2 864.0 L1302.1 835.4 L1303.0 866.1 L1303.9 841.1 L1304.8 860.9 L1305.7 838.8 L1306.6 861.9 L1307.5 834.0 L1308.4 863.0 L1309.3 847.1 L1310.2 860.9 L1311.1 846.7 L1312.0 861.2 L1312.9 844.0 L1313.8 867.6 L1314.7 836.9 L1315.6 862.9 L1316.5 840.4 L1317.4 869.1 L1318.3 841.4 L1319.2 858.3 L1320.1 843.2 L1321.0 864.6 L1321.9 848.5 L1322.8 866.7 L1323.7 844.7 L1324.6 859.8 L1325.5 841.0 L1326.4 862.2 L1327.3 839.3 L1328.2 869.9 L1329.1 849.6 L1330.0 864.3 L1330.9 842.8 L1331.8 858.2 L1332.7 848.3 L1333.6 862.1 L1334.5 849.1 L1335.4 857.5 L1336.3 844.0 L1337.2 859.1 L1338.1 836.8 L1339.0 863.3 L1339.9 844.4 L1340.8 855.9 L1341.7 840.0 L1342.6 867.4 L1343.5 844.9 L1344.4 862.1 L1345.3 840.4 L1346.2 860.1 L1347.1 839.2 L1348.0 854.1 L1348.9 839.0 L1349.8 860.4 L1350.7 837.8 L1351.6 853.2 L1352.5 839.2 L1353.4 860.2 L1354.3 840.4 L1355.2 852.8 L1356.1 828.9 L1357.0 856.8 L1357.9 834.1 L1358.8 852.6 L1359.7 837.2 L1360.6 849.9 L1361.5 837.1 L1362.4 856.2 L1363.3 831.9 L1364.2 861.9 L1365.1 840.1 L1366.0 861.4 L1366.9 838.4 L1367.8 861.7 L1368.7 831.9 L1369.6 856.0 L1370.5 839.3 L1371.4 861.6 L1372.3 839.5 L1373.2 861.4 L1374.1 830.9 L1375.0 851.4 L1375.9 838.7 L1376.8 859.2 L1377.7 830.7 L1378.6 858.7 L1379.5 843.8 L1380.4 863.4 L1381.3 832.7 L1382.2 862.1 L1383.1 839.9 L1384.0 858.8 L1384.9 835.5 L1385.8 855.0 L1386.7 839.6 L1387.6 860.4 L1388.5 839.5 L1389.4 861.1 L1390.3 842.3 L1391.2 853.8 L1392.1 834.8 L1393.0 853.0 L1393.9 834.5 L1394.8 863.2 L1395.7 839.4 L1396.6 866.3 L1397.5 836.1 L1398.4 855.7 L1399.3 835.6 L1400.2 865.5 L1401.1 846.0 L1402.0 863.3 L1402.9 838.9 L1403.8 859.5 L1404.7 841.1 L1405.6 858.2 L1406.5 840.0 L1407.4 861.1 L1408.3 834.3 L1409.2 856.5 L1410.1 843.6 L1411.0 855.7 L1411.9 840.9 L1412.8 859.4 L1413.7 843.4 L1414.6 863.4 L1415.5 834.2 L1416.4 857.0 L1417.3 845.5 L1418.2 855.1 L1419.1 843.6 L1420.0 866.6 L1420.9 834.6 L1421.8 858.5 L1422.7 843.5 L1423.6 859.6 L1424.5 840.5 L1425.4 867.8 L1426.3 839.5 L1427.2 860.0 L1428.1 837.7 L1429.0 864.3 L1429.9 841.6 L1430.8 860.0 L1431.7 847.0 L1432.6 862.8 L1433.5 842.4 L1434.4 856.2 L1435.3 841.5 L1436.2 867.2 L1437.1 839.3 L1438.0 868.7 L1438.9 837.2 L1439.8 865.1 L1440.7 847.1 L1441.6 867.4 L1442.5 837.0 L1443.4 862.4 L1444.3 846.7 L1445.2 858.6 L1446.1 845.7 L1447.0 862.7 L1447.9 838.9 L1448.8 854.8 L1449.7 841.9 L1450.6 861.2 L1451.5 842.7 L1452.4 858.2 L1453.3 840.2 L1454.2 857.0 L1455.1 837.6 L1456.0 862.1 L1456.9 835.2 L1457.8 861.5 L1458.7 842.7 L1459.6 857.4 L1460.5 836.0 L1461.4 855.4 L1462.3 843.4 L1463.2 853.5 L1464.1 834.0 L1465.0 856.8 L1465.9 842.9 L1466.8 857.0 L1467.7 840.1 L1468.6 854.1 L1469.5 838.1 L1470.4 855.5 L1471.3 838.6 L1472.2 859.4 L1473.1 837.1 L1474.0 859.9 L1474.9 837.4 L1475.8 852.0 L1476.7 836.5 L1477.6 862.0 L1478.5 834.9 L1479.4 859.8 L1480.3 832.4 L1481.2 859.4 L1482.1 837.6 L1483.0 863.6 L1483.9 842.3 L1484.8 862.8 L1485.7 831.4 L1486.6 862.0 L1487.5 835.1 L1488.4 853.2 L1489.3 841.5 L1490.2 856.3 L1491.1 841.7 L1492.0 858.7 L1492.9 844.6 L1493.8 854.8 L1494.7 845.2 L1495.6 856.0 L1496.5 835.4 L1497.4 864.7 L1498.3 837.0 L1499.2 859.6 L1500.1 841.1 L1501.0 853.9 L1501.9 837.8 L1502.8 856.3 L1503.7 842.2 L1504.6 855.3 L1505.5 841.1 L1506.4 857.8 L1507.3 845.6 L1508.2 868.1 L1509.1 837.4 L1510.0 861.4 L1510.9 838.8 L1511.8 869.2 L1512.7 839.1 L1513.6 884.3 L1514.5 854.4 L1515.4 873.2 L1516.3 871.4 L1517.2 880.0 L1518.1 877.5 L1519.0 886.6 L1519.9 885.4 L1520.8 894.8 L1521.7 892.2 L1522.6 903.2 L1523.5 901.5 L1524.4 910.7 L1525.3 908.6 L1526.2 916.5 L1527.1 914.6 L1528.0 916.1 L1528.9 914.4 L1529.8 916.2 L1530.7 915.1 L1531.6 916.9 L1532.5 914.7 L1533.4 917.2 L1534.3 915.2 L1535.2 917.5 L1536.1 915.9 L1537.0 917.7 L1537.9 915.7 L1538.8 918.7 L1539.7 916.0 L1540.6 918.8 L1541.5 917.2 L1542.4 918.4 L1543.3 917.6 L1544.2 919.6 L1545.1 916.8 L1546.0 919.3 L1546.9 917.7 L1547.8 920.0 L1548.7 917.4 L1549.6 919.6 L1550.5 918.7 L1551.4 920.7 L1552.3 918.2 L1553.2 920.8 L1554.1 919.1 L1555.0 921.3 L1555.9 918.9 L1556.8 921.4 L1557.7 918.9 L1558.6 921.1 L1559.5 918.3 L1560.4 920.1 L1561.3 917.4 L1562.2 919.0 L1563.1 916.0 L1564.0 916.9 L1564.9 914.8 L1565.8 916.2 L1566.7 913.9 L1567.6 914.6 L1568.5 911.8 L1569.4 914.6 L1570.3 912.8 L1571.2 916.0 L1572.1 914.2 L1573.0 918.1 L1573.9 915.2 L1574.8 918.9 L1575.7 917.5 L1576.6 920.5 L1577.5 918.2 L1578.4 921.9 L1579.3 920.5 L1580.2 923.4 L1581.1 921.0 L1582.0 924.3 L1582.9 923.2 L1583.8 925.9 L1584.7 924.2 L1585.6 927.6 L1586.5 926.5 L1587.4 928.9 L1588.3 927.4 L1589.2 929.8 L1590.1 928.9 L1591.0 932.1 L1591.9 930.1 L1592.8 932.8 L1593.7 929.9 L1594.6 931.4 L1595.5 928.1 L1596.4 930.4 L1597.3 925.7 L1598.2 927.8 L1599.1 924.4 L1600.0 925.4 L1600.9 922.7 L1601.8 924.0 L1602.7 921.3 L1603.6 923.0 L1604.5 918.9 L1605.4 920.9 L1606.3 917.1 L1607.2 918.7 L1608.1 915.7 L1609.0 917.6 L1609.9 913.9 L1610.8 914.7 L1611.7 912.2 L1612.6 913.0 L1613.5 910.4 L1614.4 912.1 L1615.3 907.9 L1616.2 910.2 L1617.1 908.2 L1618.0 909.7 L1618.9 908.2 L1619.8 910.3 L1620.7 908.4 L1621.6 910.3 L1622.5 908.2 L1623.4 910.6 L1624.3 908.4 L1625.2 911.0 L1626.1 908.6 L1627.0 910.8 L1627.9 908.9 L1628.8 911.1 L1629.7 908.7 L1630.6 910.9 L1631.5 909.4 L1632.4 911.6 L1633.3 909.1 L1634.2 911.4 L1635.1 909.3 L1636.0 911.5 L1636.9 910.3 L1637.8 912.2 L1638.7 909.5 L1639.6 912.8 L1640.5 910.7 L1641.4 914.7 L1642.3 913.1 L1643.2 917.1 L1644.1 914.5 L1645.0 918.6 L1645.9 917.6 L1646.8 921.3 L1647.7 919.8 L1648.6 923.8 L1649.5 921.5 L1650.4 926.0 L1651.3 923.3 L1652.2 926.4 L1653.1 923.6 L1654.0 926.1 L1654.9 924.1 L1655.8 926.3 L1656.7 923.5 L1657.6 926.0 L1658.5 924.7 L1659.4 925.3 L1660.3 924.7 L1661.2 926.0 L1662.1 924.5 L1663.0 925.9 L1663.9 924.1 L1664.8 926.1 L1665.7 923.6 L1666.6 925.4 L1667.5 923.7 L1668.4 925.8 L1669.3 924.6 L1670.2 925.9 L1671.1 923.9 L1672.0 926.0 L1672.9 923.5 L1673.8 926.3 L1674.7 923.6 L1675.6 926.0 L1676.5 923.8 L1677.4 925.9 L1678.3 924.2 L1679.2 925.6 L1680.1 924.5 L1681.0 925.4 L1681.9 924.6 L1682.8 925.4 L1683.7 924.7 L1684.6 925.4 L1685.5 924.2 L1686.4 925.4 L1687.3 924.2 L1688.2 925.8 L1689.1 923.8 L1690.0 925.4 L1690.9 923.9 L1691.8 926.2 L1692.7 923.8 L1693.6 925.9 L1694.5 924.7 L1695.4 926.1 L1696.3 923.5 L1697.2 926.1 L1698.1 924.2 L1699.0 925.4 L1699.9 924.0 L1700.8 925.6 L1701.7 924.7 L1702.6 925.4 L1703.5 924.7 L1704.4 926.1 L1705.3 923.8 L1706.2 925.9 L1707.1 923.7 L1708.0 926.4 L1708.9 924.0 L1709.8 925.4 L1710.7 923.9 L1711.6 925.8 L1712.5 924.0 L1713.4 926.0 L1714.3 924.3 L1715.2 926.3 L1716.1 924.4 L1717.0 926.4 L1717.9 924.1 L1718.8 925.4 L1719.7 923.8 L1720.6 926.2 L1721.5 924.5 L1722.4 926.2 L1723.3 924.6 L1724.2 926.3 L1725.1 923.7 L1726.0 925.6 L1726.9 923.8 L1727.8 925.9 L1728.7 923.6 L1729.6 925.6 L1730.5 924.6 L1731.4 925.5 L1732.3 924.1 L1733.2 925.5 L1734.1 923.6 L1735.0 925.6 L1735.9 924.3 L1736.8 926.0 L1737.7 923.9 L1738.6 926.4 L1739.5 923.7 L1740.4 925.9 L1741.3 924.7 L1742.2 926.3 L1743.1 924.7 L1744.0 925.5 L1744.9 923.6 L1745.8 926.4 L1746.7 924.5 L1747.6 926.3 L1748.5 924.2 L1749.4 925.8 L1750.3 924.3 L1751.2 925.5 L1752.1 923.8 L1753.0 925.5 L1753.9 924.6 L1754.8 925.8 L1755.7 924.6 L1756.6 926.5 L1757.5 923.7 L1758.4 925.4 L1759.3 923.7 L1760.2 925.7 L1761.1 923.9 L1762.0 926.4 L1762.9 924.6 L1763.8 926.2 L1764.7 924.6 L1765.6 926.3 L1766.5 923.6 L1767.4 926.2 L1768.3 924.2 L1769.2 926.3 L1770.1 924.6 L1771.0 925.4 L1771.9 923.5 L1772.8 925.7 L1773.7 924.1 L1774.6 925.5 L1775.5 924.4 L1776.4 925.7 L1777.3 924.2 L1778.2 925.8 L1779.1 923.7 L1780.0 926.1 L1780.9 924.5 L1781.8 925.6 L1782.7 923.7 L1783.6 926.4 L1784.5 924.1 L1785.4 926.2 L1786.3 923.6 L1787.2 926.0 L1788.1 923.9 L1789.0 925.6 L1789.9 924.1 L1790.8 926.0 L1791.7 924.0 L1792.6 925.6 L1793.5 924.3 L1794.4 926.1 L1795.3 924.6 L1796.2 926.1 L1797.1 923.5 L1798.0 926.5 L1798.9 924.4 L1799.8 925.6 L1800.7 924.4 L1801.6 925.3 L1802.5 923.6 L1803.4 925.3 L1804.3 924.6 L1805.2 925.5 L1806.1 923.8 L1807.0 925.5 L1807.9 923.6 L1808.8 926.0 L1809.7 924.3 L1810.6 926.1 L1811.5 923.9 L1812.4 925.3 L1813.3 924.3 L1814.2 926.2 L1815.1 923.7 L1816.0 926.1 L1816.9 924.1 L1817.8 925.4 L1818.7 924.2 L1819.6 925.3 L1820.5 924.0 L1821.4 926.3 L1822.3 923.8 L1823.2 925.8 L1824.1 924.3 L1825.0 925.7 L1825.9 924.6 L1826.8 926.2 L1827.7 924.4 L1828.6 926.4 L1829.5 924.2 L1830.4 926.3 L1831.3 924.3 L1832.2 925.3 L1833.1 924.4 L1834.0 925.6 L1834.9 923.9 L1835.8 925.9 L1836.7 923.5 L1837.6 926.0 L1838.5 924.0 L1839.4 926.2 L1840.3 924.6 L1841.2 925.7 L1842.1 924.4 L1843.0 926.3 L1843.9 924.6 L1844.8 926.3 L1845.7 924.6 L1846.6 925.4 L1847.5 924.6 L1848.4 926.1 L1849.3 924.3 L1850.2 925.2 L1851.1 918.5 L1852.0 920.2 L1852.9 910.6 L1853.8 912.7 L1854.7 908.5 L1855.6 909.7 L1856.5 908.4 L1857.4 910.2 L1858.3 908.2 L1859.2 909.8 L1860.1 907.9 L1861.0 910.4 L1861.9 907.5 L1862.8 909.6 L1863.7 908.0 L1864.6 909.3 L1865.5 908.4 L1866.4 910.4 L1867.3 907.9 L1868.2 909.4 L1869.1 908.1 L1870.0 909.4 L1870.9 907.9 L1871.8 910.0 L1872.7 907.7 L1873.6 910.4 L1874.5 908.4 L1875.4 909.8 L1876.3 908.4 L1877.2 910.0 L1878.1 908.5 L1879.0 909.6 L1879.9 908.1 L1880.8 909.5 L1881.7 907.7 L1882.6 909.7 L1883.5 908.1 L1884.4 910.4 L1885.3 908.4 L1886.2 909.8 L1887.1 907.8 L1888.0 910.3 L1888.9 908.4 L1889.8 909.5 L1890.7 908.5 L1891.6 909.7 L1892.5 908.3 L1893.4 910.5 L1894.3 907.7 L1895.2 910.4 L1896.1 907.6 L1897.0 909.4 L1897.9 908.2 L1898.8 910.1 L1899.7 908.3 L1900.6 910.1 L1901.5 907.9 L1902.4 909.8 L1903.3 908.2 L1904.2 910.0 L1905.1 908.2 L1906.0 910.0 L1906.9 908.3 L1907.8 913.1 L1908.7 909.3 L1909.6 921.7 L1910.5 921.3 L1911.4 932.2 L1912.3 930.6 L1913.2 932.3 L1914.1 931.7 L1915.0 933.4 L1915.9 931.1 L1916.8 932.7 L1917.7 931.4 L1918.6 932.4 L1919.5 931.3 L1920.4 932.6 L1921.3 930.9 L1922.2 932.5 L1923.1 931.2 L1924.0 933.0 L1924.9 930.9 L1925.8 932.4 L1926.7 930.7 L1927.6 932.7 L1928.5 931.2 L1929.4 932.7 L1930.3 931.7 L1931.2 932.8 L1932.1 931.1 L1933.0 933.0 L1933.9 931.4 L1934.8 933.4 L1935.7 931.2 L1936.6 932.9 L1937.5 930.6 L1938.4 933.3 L1939.3 930.8 L1940.2 933.0 L1941.1 931.6 L1942.0 933.4 L1942.9 930.5 L1943.8 932.9 L1944.7 930.6 L1945.6 932.9 L1946.5 930.9 L1947.4 933.3 L1948.3 930.6 L1949.2 932.5 L1950.1 931.3 L1951.0 932.5 L1951.9 931.5 L1952.8 933.5 L1953.7 931.2 L1954.6 933.0 L1955.5 931.3 L1956.4 932.9 L1957.3 931.5 L1958.2 933.3 L1959.1 930.7 L1960.0 932.7 L1960.9 931.6 L1961.8 933.0 L1962.7 930.8 L1963.6 933.1 L1964.5 931.3 L1965.4 933.0 L1966.3 931.0 L1967.2 933.3 L1968.1 931.5 L1969.0 933.1 L1969.9 931.4 L1970.8 932.7 L1971.7 931.7 L1972.6 932.3 L1973.5 931.0 L1974.4 933.0 L1975.3 931.6 L1976.2 932.9 L1977.1 930.8 L1978.0 932.4 L1978.9 930.5 L1979.8 932.4 L1980.7 931.5 L1981.6 932.4 L1982.5 931.6 L1983.4 933.2 L1984.3 930.9 L1985.2 932.9 L1986.1 930.7 L1987.0 933.0 L1987.9 931.4 L1988.8 932.9 L1989.7 931.1 L1990.6 933.2 L1991.5 931.1 L1992.4 932.4 L1993.3 931.5 L1994.2 932.5 L1995.1 930.7 L1996.0 932.6 L1996.9 930.8 L1997.8 933.0 L1998.7 930.6 L1999.6 932.7 L2000.5 930.9 L2001.4 933.9 L2002.3 931.9 L2003.2 934.5 L2004.1 932.9 L2005.0 935.6 L2005.9 933.6 L2006.8 936.5 L2007.7 934.2 L2008.6 937.7 L2009.5 936.1 L2010.4 938.1 L2011.3 935.8 L2012.2 938.8 L2013.1 937.4 L2014.0 940.0 L2014.9 938.0 L2015.8 940.3 L2016.7 938.2 L2017.6 941.2 L2018.5 939.4 L2019.4 941.9 L2020.3 940.3 L2021.2 942.7 L2022.1 940.8 L2023.0 942.1 L2023.9 940.6 L2024.8 942.8 L2025.7 940.9 L2026.6 942.6 L2027.5 940.5 L2028.4 941.9 L2029.3 941.1 L2030.2 942.7 L2031.1 940.3 L2032.0 942.3 L2032.9 940.3 L2033.8 942.0 L2034.7 940.1 L2035.6 942.3 L2036.5 941.2 L2037.4 942.7 L2038.3 940.4 L2039.2 942.7 L2040.1 940.1 L2041.0 942.2 L2041.9 940.0 L2042.8 942.2 L2043.7 940.4 L2044.6 942.1 L2045.5 940.3 L2046.4 942.5 L2047.3 940.1 L2048.2 942.1 L2049.1 940.6 L2050.0 942.1 L2050.9 940.7 L2051.8 942.4 L2052.7 940.2 L2053.6 942.5 L2054.5 940.9 L2055.4 942.4 L2056.3 941.2 L2057.2 942.5 L2058.1 940.5 L2059.0 942.2 L2059.9 940.0 L2060.8 941.8 L2061.7 940.2 L2062.6 942.0 L2063.5 940.7 L2064.4 942.4 L2065.3 940.5 L2066.2 942.6 L2067.1 940.3 L2068.0 942.1 L2068.9 941.1 L2069.8 942.0 L2070.7 940.6 L2071.6 942.8 L2072.5 940.8 L2073.4 942.0 L2074.3 940.1 L2075.2 942.9 L2076.1 941.1 L2077.0 941.9 L2077.9 940.0 L2078.8 942.4 L2079.7 940.6 L2080.6 941.9 L2081.5 940.6 L2082.4 942.7 L2083.3 940.6 L2084.2 942.6 L2085.1 941.2 L2086.0 941.8 L2086.9 940.1 L2087.8 942.9 L2088.7 940.7 L2089.6 943.0 L2090.5 941.0 L2091.4 942.4 L2092.3 940.1 L2093.2 941.9 L2094.1 940.4 L2095.0 942.2 L2095.9 941.0 L2096.8 942.3 L2097.7 940.1 L2098.6 942.2 L2099.5 940.0 L2100.4 942.1 L2101.3 940.4 L2102.2 942.3 L2103.1 940.1 L2104.0 941.2 L2104.9 939.4 L2105.8 941.1 L2106.7 939.3 L2107.6 941.0 L2108.5 938.6 L2109.4 940.6 L2110.3 937.1 L2111.2 938.9 L2112.1 936.7 L2113.0 939.2 L2113.9 937.2 L2114.8 939.1 L2115.7 936.4 L2116.6 937.5 L2117.5 935.6 L2118.4 937.8 L2119.3 935.1 L2120.2 937.3 L2121.1 934.3 L2122.0 936.0 L2122.9 934.7 L2123.8 936.5 L2124.7 933.8 L2125.6 935.3 L2126.5 933.7 L2127.4 934.7 L2128.3 932.3 L2129.2 933.8 L2130.1 930.4 L2131.0 932.7 L2131.9 929.5 L2132.8 931.7 L2133.7 928.2 L2134.6 929.4 L2135.5 926.3 L2136.4 927.9 L2137.3 924.6 L2138.2 926.2 L2139.1 922.9 L2140.0 924.5 L2140.9 921.8 L2141.8 923.6 L2142.7 919.8 L2143.6 922.1 L2144.5 919.1 L2145.4 919.8 L2146.3 916.6 L2147.2 919.5 L2148.1 915.3 L2149.0 917.7 L2149.9 914.1 L2150.8 915.4 L2151.7 914.2 L2152.6 916.0 L2153.5 914.7 L2154.4 917.1 L2155.3 914.6 L2156.2 917.3 L2157.1 915.8 L2158.0 917.7 L2158.9 916.5 L2159.8 918.6 L2160.7 916.6 L2161.6 919.0 L2162.5 916.5 L2163.4 918.8 L2164.3 917.2 L2165.2 919.2 L2166.1 917.5 L2167.0 920.8 L2167.9 917.9 L2168.8 920.4 L2169.7 918.9 L2170.6 921.1 L2171.5 915.7 L2172.4 918.8 L2173.3 914.4 L2174.2 916.0 L2175.1 911.4 L2176.0 912.8 L2176.9 909.5 L2177.8 910.6 L2178.7 906.2 L2179.6 908.6 L2180.5 904.5 L2181.4 905.9 L2182.3 900.6 L2183.2 903.6 L2184.1 899.1 L2185.0 901.0 L2185.9 898.1 L2186.8 899.8 L2187.7 896.9 L2188.6 898.8 L2189.5 895.1 L2190.4 897.2 L2191.3 894.3 L2192.2 896.1 L2193.1 893.2 L2194.0 894.4 L2194.9 892.2 L2195.8 894.1 L2196.7 890.8 L2197.6 891.9 L2198.5 889.6 L2199.4 891.2 L2200.3 887.5 L2201.2 890.3 L2202.1 886.8 L2203.0 888.0 L2203.9 885.3 L2204.8 887.8 L2205.7 884.8 L2206.6 886.5 L2207.5 883.6 L2208.4 884.7 L2209.3 881.4 L2210.2 883.9 L2211.1 880.3 L2212.0 882.8 L2212.9 879.2 L2213.8 881.7 L2214.7 879.6 L2215.6 880.9 L2216.5 878.3 L2217.4 880.4 L2218.3 877.4 L2219.2 879.5 L2220.1 877.5 L2221.0 878.8 L2221.9 875.8 L2222.8 878.0 L2223.7 875.9 L2224.6 877.6 L2225.5 875.0 L2226.4 877.0 L2227.3 874.9 L2228.2 876.1 L2229.1 874.0 L2230.0 875.7 L2230.9 872.9 L2231.8 874.4 L2232.7 872.0 L2233.6 874.2 L2234.5 872.1 L2235.4 873.9 L2236.3 873.1 L2237.2 875.4 L2238.1 874.2 L2239.0 877.6 L2239.9 875.1 L2240.8 878.9 L2241.7 876.9 L2242.6 880.8 L2243.5 879.0 L2244.4 881.8 L2245.3 879.5 L2246.2 883.0 L2247.1 880.9 L2248.0 884.2 L2248.9 882.3 L2249.8 885.8 L2250.7 884.0 L2251.6 888.0 L2252.5 885.8 L2253.4 889.7 L2254.3 887.3 L2255.2 890.5 L2256.1 889.2 L2257.0 892.3 L2257.9 890.3 L2258.8 893.6 L2259.7 891.7 L2260.6 895.3 L2261.5 893.8 L2262.4 896.8 L2263.3 895.3 L2264.2 898.6 L2265.1 896.3 L2266.0 899.8 L2266.9 897.7 L2267.8 901.5 L2268.7 900.2 L2269.6 905.2 L2270.5 903.5 L2271.4 908.3 L2272.3 906.9 L2273.2 911.4 L2274.1 911.2 L2275.0 916.1 L2275.9 914.4 L2276.8 919.9 L2277.7 918.0 L2278.6 923.2 L2279.5 921.0 L2280.4 927.3 L2281.3 924.7 L2282.2 929.5 L2283.1 923.0 L2284.0 924.9 L2284.9 917.3 L2285.8 918.7 L2286.7 909.9 L2287.6 910.9 L2288.5 901.8 L2289.4 904.6 L2290.3 896.0 L2291.2 896.7 L2292.1 887.6 L2293.0 888.8 L2293.9 880.8 L2294.8 881.8 L2295.7 874.0 L2296.6 874.3 L2297.5 866.8" stroke="#b06ef2" stroke-width="3.6"/>
<path d="M345.3 1338.0 L345.3 1212.0 L342.5 1206.0 L342.5 1100.0 L344.0 760.0 L345.0 724.0 L346.0 800.0 L347.0 716.0 L348.0 850.0 L349.0 730.0 L350.0 820.0 L351.0 760.0 L352.0 860.0 L353.0 790.0 L354.0 853.0 L355.0 768.0 L356.0 860.0 L357.0 800.0 L358.0 850.0 L359.0 830.0 L360.7 897.0 L367.8 920.5 L369.6 915.8 L371.4 911.0 L373.2 905.0 L375.0 900.7 L376.8 890.1 L377.0 885.0 L378.6 903.7 L380.4 900.1 L382.2 920.5 L384.0 941.6 L385.8 948.8 L387.6 965.9 L388.8 967.0 L389.4 957.8 L391.2 957.3 L393.0 946.5 L394.8 945.0 L396.6 938.7 L398.0 932.0 L398.4 924.9 L400.2 936.1 L402.0 944.8 L403.8 963.8 L405.6 968.6 L407.4 965.3 L409.2 984.3 L411.0 980.0 L412.0 990.7 L412.8 994.4 L414.6 989.0 L416.4 990.3 L418.2 1009.4 L420.0 1001.0 L421.8 1004.6 L423.6 1021.9 L424.0 1014.0 L425.4 1029.1 L427.2 1029.4 L429.0 1052.3 L430.8 1055.5 L431.0 1056.0 L432.6 1060.1 L434.4 1052.6 L436.2 1066.8 L438.0 1063.3 L439.8 1069.3 L440.0 1061.0 L441.6 1067.6 L443.4 1056.4 L445.2 1056.9 L447.0 1052.9 L448.8 1052.0 L450.6 1050.0 L452.4 1053.7 L454.2 1058.6 L456.0 1047.3 L456.7 1056.0 L457.8 1060.3 L459.6 1056.1 L461.4 1057.4 L463.2 1068.4 L465.0 1064.2 L466.8 1063.0 L468.4 1068.0 L468.6 1067.5 L470.4 1070.5 L472.2 1057.7 L474.0 1073.2 L475.8 1054.9 L477.6 1066.9 L479.4 1067.6 L480.0 1061.0 L481.2 1044.9 L483.0 1047.5 L484.8 1028.8 L486.6 1021.4 L488.4 1000.0 L489.5 1002.0 L490.2 996.5 L492.0 1005.6 L493.8 1026.3 L495.6 1019.3 L497.4 1036.1 L499.0 1037.5 L499.2 1045.8 L501.0 1050.7 L502.8 1044.6 L504.6 1049.5 L506.4 1057.3 L508.0 1061.0 L508.2 1064.3 L510.0 1036.9 L511.8 1033.0 L513.6 1018.5 L515.4 1004.3 L517.2 974.1 L517.6 979.0 L519.0 1001.0 L520.8 1003.6 L522.6 1026.1 L524.4 1049.0 L524.6 1049.0 L526.2 1055.3 L528.0 1043.6 L529.8 1052.8 L531.6 1044.6 L533.4 1039.1 L534.0 1042.0 L535.2 1043.7 L537.0 1048.8 L538.8 1054.5 L540.6 1063.3 L542.4 1080.6 L544.2 1093.7 L545.7 1091.0 L546.0 1084.1 L547.8 1077.5 L549.6 1089.8 L551.4 1077.0 L553.2 1070.1 L555.0 1062.4 L556.8 1064.2 L557.4 1061.0 L558.6 1069.3 L560.4 1066.2 L562.2 1069.1 L564.0 1066.1 L565.8 1085.1 L567.6 1072.8 L569.0 1084.0 L569.4 1084.1 L571.2 1091.4 L573.0 1079.7 L574.8 1091.6 L576.6 1096.6 L578.4 1091.9 L580.2 1095.8 L580.8 1091.0 L582.0 1082.0 L583.8 1085.1 L585.6 1077.1 L587.4 1086.8 L589.2 1074.1 L591.0 1074.1 L592.5 1072.6 L592.8 1081.3 L594.6 1076.8 L596.4 1077.2 L598.2 1066.0 L600.0 1064.8 L601.8 1067.4 L603.6 1061.0 L604.0 1061.0 L605.4 1059.4 L607.2 1064.2 L609.0 1062.4 L610.8 1069.3 L612.6 1083.1 L614.4 1085.4 L616.0 1079.6 L616.2 1081.8 L618.0 1078.4 L619.8 1074.4 L621.6 1068.8 L623.4 1071.0 L625.2 1079.1 L627.0 1079.6 L627.6 1072.6 L628.8 1067.6 L630.6 1071.5 L632.4 1067.6 L634.2 1062.4 L636.0 1058.2 L637.8 1056.2 L639.0 1049.0 L639.6 1044.3 L641.4 1043.8 L643.2 1029.6 L645.0 1026.6 L646.8 1025.1 L648.6 1017.1 L650.4 1003.3 L652.2 1008.4 L654.0 996.4 L655.8 988.6 L657.6 971.7 L658.0 979.0 L659.4 988.6 L661.2 994.4 L663.0 1013.2 L664.8 1020.7 L666.6 1038.2 L667.4 1037.5 L668.4 1038.5 L670.2 1038.2 L672.0 1027.0 L673.8 1029.4 L675.6 1028.0 L677.4 1026.6 L679.2 1015.0 L681.0 1020.8 L681.4 1014.0 L682.8 1025.9 L684.6 1029.3 L686.4 1041.2 L688.2 1047.5 L690.0 1046.3 L690.8 1049.0 L691.8 1047.0 L693.6 1035.9 L695.4 1043.5 L697.2 1040.7 L699.0 1027.9 L700.0 1025.8 L700.8 1028.3 L702.6 1026.5 L704.4 1024.5 L706.2 1012.2 L708.0 1020.9 L709.5 1014.0 L709.8 1014.0 L711.6 1006.6 L713.4 993.3 L715.2 988.0 L717.0 981.8 L718.8 970.5 L719.0 967.0 L720.6 969.4 L722.4 955.2 L724.2 955.8 L726.0 959.1 L727.8 961.1 L729.6 951.5 L730.6 955.6 L731.4 962.2 L733.2 968.5 L735.0 965.3 L736.8 980.3 L738.6 983.2 L740.4 987.5 L742.0 1002.0 L742.2 994.4 L744.0 988.7 L745.8 977.3 L747.6 968.5 L749.4 956.6 L751.2 955.4 L753.0 944.8 L754.8 940.0 L756.0 932.0 L756.6 938.0 L758.4 944.6 L760.2 969.6 L762.0 966.3 L763.8 986.6 L765.6 997.3 L765.7 1002.0 L767.4 992.1 L769.2 977.9 L771.0 982.0 L772.8 965.0 L774.6 950.1 L776.4 951.7 L778.2 933.5 L780.0 932.0 L781.8 944.6 L783.6 952.6 L785.4 968.7 L787.2 987.2 L789.0 990.7 L790.8 994.2 L792.6 984.8 L794.4 989.7 L796.2 984.4 L798.0 977.3 L798.5 979.0 L799.8 969.4 L801.6 973.1 L803.4 968.1 L805.2 970.7 L807.0 966.5 L808.0 955.6 L808.8 956.5 L810.6 949.6 L812.4 957.0 L814.2 938.6 L816.0 938.2 L817.0 944.0 L817.8 936.6 L819.6 918.0 L821.4 890.1 L823.2 879.5 L823.4 875.0 L825.0 893.2 L826.8 896.4 L828.6 910.0 L829.0 914.0 L830.4 915.9 L832.2 925.9 L834.0 947.0 L835.8 945.2 L837.6 964.4 L839.0 963.0 L839.4 970.0 L841.2 962.3 L843.0 954.2 L844.8 965.2 L846.6 954.4 L848.4 951.0 L850.2 947.2 L852.0 957.2 L853.8 946.3 L855.6 940.6 L856.0 944.0 L857.4 952.1 L859.2 956.7 L861.0 976.7 L862.8 984.5 L864.6 992.8 L865.5 1002.0 L866.4 1011.5 L868.2 1021.2 L870.0 1015.5 L871.8 1033.8 L873.6 1038.0 L875.0 1049.0 L875.4 1054.4 L877.2 1040.8 L879.0 1020.3 L880.8 1009.8 L882.6 996.9 L884.4 1001.1 L886.2 977.7 L886.6 979.0 L888.0 989.7 L889.8 998.5 L891.6 1012.7 L893.4 1023.2 L895.2 1036.9 L896.0 1037.5 L897.0 1008.2 L898.8 979.3 L900.6 930.7 L900.7 932.0 L902.4 937.9 L904.2 939.9 L906.0 944.8 L907.8 954.5 L909.6 958.9 L911.4 962.6 L912.0 967.0 L913.2 969.1 L915.0 962.9 L916.8 949.5 L918.6 949.9 L920.4 950.1 L922.2 954.9 L924.0 944.0 L925.8 952.3 L927.6 947.4 L929.4 939.1 L931.2 954.1 L933.0 949.1 L934.8 953.0 L936.6 956.7 L938.4 956.6 L940.2 955.1 L940.4 955.6 L942.0 961.4 L943.8 950.1 L945.6 948.5 L947.4 954.9 L949.2 941.3 L951.0 941.3 L952.0 944.0 L952.8 949.9 L954.6 936.1 L956.4 949.9 L958.2 947.3 L960.0 942.5 L961.8 939.8 L963.6 948.6 L965.4 950.9 L965.6 943.5 L967.2 932.2 L969.0 932.8 L970.8 928.6 L972.6 922.2 L974.4 913.7 L975.3 914.0 L976.2 909.1 L978.0 919.7 L979.8 926.5 L981.6 915.9 L983.4 921.6 L985.2 935.0 L987.0 932.0 L988.8 924.1 L990.6 908.6 L992.4 884.0 L994.2 883.4 L994.8 875.0 L996.0 877.7 L997.8 869.2 L999.6 855.0 L1000.7 846.0 L1001.4 847.7 L1003.2 887.3 L1005.0 901.4 L1006.0 920.5 L1006.8 932.5 L1008.6 959.1 L1010.4 975.8 L1012.2 986.5 L1014.0 1010.4 L1015.0 1025.8 L1015.8 1026.6 L1017.6 997.6 L1019.4 990.7 L1021.2 972.0 L1023.0 952.2 L1024.7 944.0 L1024.8 946.0 L1026.6 931.0 L1028.4 927.6 L1030.2 927.9 L1032.0 917.8 L1033.8 913.0 L1034.0 920.5 L1035.6 918.7 L1037.4 918.1 L1039.2 917.0 L1041.0 900.0 L1042.8 901.7 L1044.6 896.1 L1045.8 897.0 L1046.4 897.6 L1048.2 892.0 L1050.0 896.5 L1051.8 882.7 L1053.6 873.4 L1055.4 881.4 L1057.2 867.9 L1057.5 873.6 L1059.0 879.0 L1060.8 880.4 L1062.6 891.4 L1064.4 888.6 L1066.2 893.5 L1068.0 890.7 L1069.0 897.0 L1069.8 898.7 L1071.6 895.1 L1073.4 905.8 L1075.2 903.4 L1077.0 898.2 L1078.8 901.8 L1080.6 906.0 L1081.0 908.7 L1082.4 915.8 L1084.2 909.4 L1086.0 922.6 L1087.8 925.1 L1089.6 918.5 L1091.4 932.6 L1092.6 932.0 L1093.2 925.3 L1095.0 927.8 L1096.8 938.1 L1098.6 933.6 L1100.4 947.0 L1102.2 941.8 L1104.0 944.0 L1105.8 933.8 L1107.6 935.2 L1109.4 914.4 L1111.2 919.9 L1113.0 900.7 L1114.8 895.4 L1116.0 897.0 L1116.6 904.5 L1118.4 897.8 L1120.2 887.7 L1122.0 883.9 L1123.8 897.5 L1125.6 890.1 L1127.4 891.1 L1127.7 885.0 L1129.2 875.6 L1131.0 880.8 L1132.8 872.4 L1134.6 866.7 L1136.4 864.9 L1138.2 866.4 L1139.4 862.0 L1140.0 856.3 L1141.8 847.9 L1143.6 834.5 L1145.4 838.0 L1146.4 827.0 L1147.2 831.6 L1149.0 838.8 L1150.8 836.6 L1152.6 848.5 L1154.4 846.9 L1155.8 850.0 L1156.2 852.7 L1158.0 857.0 L1159.8 864.6 L1161.6 863.0 L1163.4 862.2 L1165.0 873.6 L1165.2 865.7 L1167.0 873.2 L1168.8 874.7 L1170.6 894.4 L1172.4 891.5 L1174.2 900.9 L1174.5 897.0 L1176.0 886.4 L1177.8 893.0 L1179.6 898.7 L1181.4 892.0 L1183.2 886.6 L1185.0 885.4 L1186.0 885.0 L1186.8 877.8 L1188.6 878.8 L1190.4 878.9 L1192.2 882.7 L1194.0 882.9 L1195.8 891.8 L1197.6 878.7 L1198.0 885.0 L1199.4 898.5 L1201.2 922.0 L1202.6 944.0 L1203.0 939.9 L1204.8 951.2 L1206.6 959.2 L1208.4 972.7 L1209.6 979.0 L1210.2 971.8 L1212.0 991.5 L1213.8 985.1 L1215.6 999.0 L1217.4 998.1 L1219.2 1001.5 L1221.0 1002.0 L1222.8 999.8 L1224.6 1006.6 L1226.4 990.0 L1228.2 998.3 L1230.0 989.8 L1231.8 995.0 L1233.0 990.7 L1233.6 994.8 L1235.4 984.6 L1237.2 985.3 L1239.0 982.1 L1240.8 985.8 L1242.6 983.1 L1244.4 988.9 L1244.8 990.7 L1246.2 1000.6 L1248.0 991.3 L1249.8 992.1 L1251.6 996.7 L1253.4 995.1 L1255.2 1004.9 L1256.5 1002.0 L1257.0 1004.9 L1258.8 991.3 L1260.6 989.1 L1262.4 993.3 L1264.2 994.5 L1266.0 985.6 L1267.8 978.2 L1268.0 979.0 L1269.6 978.9 L1271.4 951.7 L1273.2 943.0 L1275.0 946.2 L1276.7 932.0 L1276.8 930.8 L1278.6 931.4 L1280.4 947.7 L1282.2 962.9 L1284.0 961.7 L1285.8 965.9 L1287.6 968.5 L1288.4 979.0 L1289.4 968.1 L1291.2 977.4 L1293.0 964.4 L1294.8 966.7 L1296.6 945.2 L1298.4 942.9 L1300.2 933.8 L1302.0 934.4 L1303.8 922.6 L1305.6 920.5 L1307.0 920.5 L1307.4 921.6 L1309.2 932.2 L1311.0 940.1 L1312.8 952.2 L1314.6 981.5 L1316.4 979.7 L1318.2 998.0 L1318.8 1002.0 L1320.0 995.3 L1321.8 990.3 L1323.6 974.9 L1325.4 971.7 L1327.2 960.6 L1329.0 961.1 L1330.8 960.6 L1332.6 947.4 L1333.0 944.0 L1334.4 955.9 L1336.2 951.3 L1338.0 954.8 L1339.8 971.2 L1341.6 977.2 L1342.0 979.0 L1343.4 976.9 L1345.2 969.0 L1347.0 969.1 L1348.8 966.5 L1350.6 965.5 L1351.6 955.6 L1352.4 955.4 L1354.2 965.3 L1356.0 979.4 L1357.8 975.9 L1359.6 981.2 L1361.4 992.1 L1363.0 1002.0 L1363.2 994.2 L1365.0 1003.1 L1366.8 1000.5 L1368.6 987.9 L1370.4 981.2 L1372.2 976.8 L1374.0 976.3 L1375.0 979.0 L1375.8 972.3 L1377.6 980.3 L1379.4 984.8 L1381.2 980.6 L1383.0 979.1 L1384.8 992.4 L1386.6 982.5 L1386.7 990.7 L1388.4 981.1 L1390.2 978.1 L1392.0 975.2 L1393.8 965.8 L1395.6 967.1 L1397.4 960.7 L1399.2 964.1 L1400.8 955.6 L1401.0 958.1 L1402.8 978.0 L1404.6 987.4 L1406.4 1003.0 L1408.2 1013.4 L1410.0 1025.8 L1411.8 1018.7 L1413.6 1019.5 L1415.4 1010.5 L1417.2 1009.9 L1419.0 999.8 L1420.8 993.3 L1422.6 979.5 L1424.0 979.0 L1424.4 983.8 L1426.2 972.6 L1428.0 964.5 L1429.8 959.9 L1431.6 958.2 L1433.4 956.4 L1435.2 960.3 L1436.0 955.6 L1437.0 949.7 L1438.8 942.0 L1440.6 951.0 L1442.4 943.6 L1444.2 930.4 L1446.0 927.2 L1447.6 932.0 L1447.8 925.8 L1449.6 934.4 L1451.4 948.0 L1453.2 954.1 L1455.0 952.5 L1456.8 950.2 L1458.6 958.2 L1460.4 961.5 L1461.6 967.0 L1462.2 962.5 L1464.0 952.4 L1465.8 958.2 L1467.6 958.2 L1469.4 952.0 L1471.0 944.0 L1471.2 936.5 L1473.0 942.5 L1474.8 934.2 L1476.6 942.0 L1478.4 935.4 L1480.2 942.5 L1482.0 938.0 L1482.7 932.0 L1483.8 921.8 L1485.6 920.0 L1487.4 925.4 L1489.2 911.9 L1491.0 906.0 L1492.8 900.7 L1494.4 897.0 L1494.6 901.6 L1496.4 902.8 L1498.2 893.7 L1500.0 899.7 L1501.8 891.1 L1503.6 880.3 L1505.4 891.3 L1506.0 885.0 L1507.2 881.2 L1509.0 871.1 L1510.8 884.2 L1512.6 863.7 L1514.4 870.0 L1516.2 864.8 L1517.8 862.0 L1518.0 869.4 L1519.8 865.1 L1521.6 866.4 L1523.4 872.0 L1525.2 875.1 L1527.0 885.0 L1528.8 884.4 L1530.6 879.0 L1532.4 884.4 L1534.2 873.5 L1536.0 873.8 L1537.8 870.2 L1539.0 873.6 L1539.6 884.1 L1541.4 887.0 L1543.2 892.6 L1545.0 893.9 L1546.8 895.4 L1548.6 896.2 L1550.4 914.1 L1550.6 908.7 L1552.2 913.8 L1554.0 911.7 L1555.8 920.1 L1557.6 932.0 L1559.4 903.7 L1561.2 893.7 L1563.0 875.9 L1564.6 850.0 L1564.8 844.4 L1566.6 853.3 L1568.4 843.0 L1570.2 847.6 L1572.0 849.1 L1573.8 842.9 L1575.6 844.3 L1576.0 838.5 L1577.4 827.8 L1579.2 810.4 L1581.0 808.6 L1582.8 799.0 L1584.6 781.0 L1585.7 780.0 L1586.4 766.4 L1588.2 735.4 L1590.0 709.0 L1591.8 723.4 L1593.6 751.5 L1594.0 760.0 L1595.4 785.5 L1597.2 822.6 L1597.4 827.0 L1599.0 829.1 L1600.8 821.9 L1602.6 830.7 L1604.4 826.0 L1606.2 826.2 L1608.0 820.4 L1609.8 818.3 L1610.0 815.0 L1611.6 821.4 L1613.4 832.7 L1615.2 831.3 L1617.0 842.0 L1618.8 850.0 L1620.6 853.7 L1622.4 855.9 L1623.0 862.0 L1624.2 860.4 L1626.0 869.6 L1627.8 883.4 L1629.6 896.4 L1630.0 897.0 L1631.4 895.1 L1633.2 885.8 L1635.0 870.0 L1636.8 872.8 L1638.6 852.5 L1640.0 850.0 L1640.4 852.5 L1642.2 834.6 L1644.0 840.6 L1645.8 832.8 L1647.6 831.6 L1649.4 824.2 L1650.0 815.0 L1651.2 778.5 L1653.0 721.4 L1654.8 659.8 L1656.0 615.6 L1656.6 630.3 L1658.4 661.0 L1660.0 700.0 L1660.2 709.5 L1662.0 799.5 L1663.0 838.5 L1663.8 849.9 L1665.6 899.2 L1667.4 927.6 L1669.2 961.0 L1670.0 979.0 L1671.0 961.7 L1672.8 953.6 L1674.6 934.8 L1676.4 928.3 L1677.0 920.5 L1678.2 921.6 L1680.0 912.8 L1681.8 898.4 L1683.6 885.2 L1685.4 871.2 L1687.2 872.5 L1689.0 861.0 L1690.8 854.9 L1691.0 850.0 L1692.6 794.1 L1694.4 742.9 L1694.5 732.6 L1696.2 774.7 L1698.0 830.0 L1699.8 834.9 L1701.6 842.6 L1703.4 857.4 L1705.2 870.7 L1707.0 866.0 L1708.8 882.7 L1709.8 885.0 L1710.6 886.3 L1712.4 868.6 L1714.2 857.7 L1716.0 858.8 L1717.8 855.7 L1719.6 848.6 L1720.0 840.0 L1721.4 840.2 L1723.2 829.5 L1725.0 824.6 L1726.8 821.4 L1728.6 823.1 L1730.4 807.2 L1732.2 801.7 L1733.0 803.4 L1734.0 807.3 L1735.8 817.3 L1737.6 806.8 L1739.4 807.5 L1741.2 812.6 L1743.0 824.2 L1744.8 828.5 L1745.0 827.0 L1746.6 789.1 L1748.4 752.9 L1750.2 724.0 L1752.0 686.0 L1753.8 757.5 L1755.6 827.2 L1756.6 862.0 L1757.4 865.0 L1759.2 850.4 L1761.0 855.4 L1762.8 859.2 L1764.6 858.8 L1765.0 850.0 L1766.4 818.5 L1768.2 791.8 L1770.0 751.9 L1771.8 720.7 L1772.0 709.0 L1773.6 714.1 L1775.4 733.7 L1777.2 747.4 L1779.0 752.1 L1780.8 756.5 L1781.5 768.0 L1782.6 770.6 L1784.4 783.2 L1786.2 795.3 L1788.0 809.6 L1789.8 831.2 L1791.0 838.0 L1791.6 827.0 L1793.4 827.2 L1795.2 815.2 L1797.0 805.0 L1798.8 793.2 L1800.0 780.0 L1800.6 797.9 L1802.4 843.9 L1804.2 886.6 L1806.0 922.8 L1807.0 944.0 L1807.8 955.0 L1809.6 945.4 L1811.4 951.3 L1813.2 956.5 L1814.0 967.0 L1815.0 947.7 L1816.8 925.5 L1818.6 901.9 L1819.0 897.0 L1820.4 894.8 L1822.2 888.9 L1824.0 870.1 L1825.8 868.8 L1827.6 864.3 L1828.0 862.0 L1829.4 863.0 L1831.2 862.5 L1833.0 875.2 L1834.8 875.4 L1836.6 885.1 L1838.0 885.0 L1838.4 886.5 L1840.2 902.0 L1842.0 908.8 L1843.8 900.2 L1845.6 919.7 L1847.0 920.5 L1847.4 929.5 L1849.2 944.2 L1851.0 963.4 L1851.7 979.0 L1852.8 968.9 L1854.6 950.8 L1856.4 941.8 L1858.2 929.2 L1860.0 903.7 L1861.0 897.0 L1861.8 891.2 L1863.6 890.5 L1865.4 889.5 L1865.8 885.0 L1867.2 874.2 L1869.0 849.8 L1870.8 824.3 L1872.6 804.5 L1874.4 793.1 L1875.0 780.0 L1876.2 746.3 L1877.5 709.0 L1878.0 704.3 L1879.8 723.2 L1881.6 732.2 L1883.4 752.1 L1885.0 760.0 L1885.2 752.7 L1887.0 759.9 L1888.8 760.3 L1889.0 768.0 L1890.6 770.8 L1892.4 783.5 L1894.2 779.1 L1896.0 780.0 L1897.8 793.4 L1899.6 781.9 L1900.0 790.0 L1901.4 777.7 L1903.2 773.5 L1905.0 746.6 L1906.8 747.9 L1908.6 728.2 L1910.0 721.0 L1910.4 711.1 L1912.2 710.1 L1914.0 708.6 L1915.8 702.0 L1917.6 699.1 L1919.4 685.5 L1921.2 683.3 L1922.0 686.0 L1923.0 725.9 L1924.8 772.7 L1925.0 780.0 L1926.6 788.7 L1928.4 792.1 L1929.0 803.0 L1930.2 807.1 L1932.0 831.3 L1933.8 838.6 L1935.6 847.5 L1936.0 850.0 L1937.4 825.5 L1939.2 810.4 L1941.0 796.1 L1942.8 768.7 L1944.6 750.4 L1945.0 744.0 L1946.4 770.5 L1948.2 790.5 L1950.0 815.1 L1951.8 829.0 L1953.6 853.5 L1955.4 891.6 L1957.0 908.7 L1957.2 906.1 L1959.0 905.4 L1960.8 895.5 L1962.6 888.1 L1964.0 873.6 L1964.4 862.0 L1966.2 830.8 L1968.0 784.1 L1969.0 756.0 L1969.8 768.4 L1971.6 767.1 L1973.4 790.6 L1975.2 796.2 L1976.0 803.0 L1977.0 805.6 L1978.8 795.5 L1980.6 771.0 L1982.4 764.1 L1984.2 750.8 L1986.0 743.9 L1987.8 730.0 L1989.6 726.3 L1990.0 721.0 L1991.4 720.1 L1993.2 728.5 L1995.0 741.3 L1996.8 742.0 L1998.6 755.1 L2000.4 772.0 L2002.2 779.4 L2004.0 780.0 L2005.8 765.3 L2007.6 752.8 L2009.4 758.1 L2011.0 744.0 L2011.2 751.3 L2013.0 735.8 L2014.8 718.5 L2016.6 711.3 L2018.4 714.6 L2020.2 705.9 L2022.0 680.6 L2022.6 686.0 L2023.8 706.0 L2025.6 748.8 L2027.0 780.0 L2027.4 784.7 L2029.2 833.6 L2029.6 838.0 L2031.0 865.6 L2032.8 911.3 L2034.0 932.0 L2034.6 927.9 L2036.4 941.0 L2038.2 955.7 L2040.0 957.3 L2041.8 952.8 L2043.6 959.6 L2043.7 967.0 L2045.4 960.1 L2047.2 945.1 L2049.0 934.9 L2050.8 926.8 L2052.0 920.5 L2052.6 926.4 L2054.4 946.4 L2056.2 946.5 L2058.0 965.6 L2059.8 973.3 L2060.0 979.0 L2061.6 963.0 L2063.4 947.3 L2065.2 917.6 L2067.0 904.9 L2068.8 890.0 L2070.0 873.6 L2070.6 850.7 L2072.4 822.3 L2074.0 780.0 L2074.2 783.6 L2076.0 830.2 L2077.8 877.3 L2079.6 925.8 L2081.0 955.6 L2081.4 950.4 L2083.2 970.8 L2085.0 974.8 L2086.8 993.5 L2088.6 1005.1 L2090.4 1011.7 L2090.5 1021.0 L2092.2 997.2 L2094.0 978.6 L2095.8 961.0 L2097.0 944.0 L2097.6 943.2 L2099.4 907.9 L2101.2 885.4 L2102.0 873.6 L2103.0 869.1 L2104.8 858.0 L2106.6 843.2 L2108.4 828.8 L2109.0 815.0 L2110.2 817.4 L2112.0 824.0 L2113.8 846.8 L2115.6 840.4 L2116.0 850.0 L2117.4 845.0 L2119.2 844.9 L2121.0 835.9 L2122.8 828.2 L2124.6 832.6 L2126.4 816.1 L2128.0 815.0 L2128.2 818.3 L2130.0 844.4 L2131.8 853.0 L2133.6 877.9 L2135.0 897.0 L2135.4 894.1 L2137.2 882.8 L2139.0 863.7 L2140.0 862.0 L2140.8 823.6 L2142.0 768.0 L2142.6 761.6 L2144.4 766.7 L2146.2 775.9 L2146.7 780.0 L2148.0 725.6 L2149.8 674.0 L2150.5 639.7 L2151.6 650.0 L2153.4 674.0 L2155.2 706.9 L2157.0 729.9 L2158.4 744.0 L2158.8 744.4 L2160.6 775.7 L2162.4 793.0 L2164.2 809.8 L2164.6 816.5 L2166.0 837.0 L2167.8 853.5 L2169.6 877.2 L2170.0 886.7 L2171.4 785.6 L2172.0 732.6 L2173.2 731.4 L2175.0 739.5 L2175.8 732.3 L2176.8 729.9 L2178.6 735.2 L2180.4 739.8 L2182.2 758.2 L2184.0 760.0 L2185.8 749.9 L2187.6 728.8 L2189.4 718.3 L2189.8 724.0 L2191.2 762.4 L2193.0 798.4 L2194.8 847.0 L2195.0 845.0 L2196.6 814.3 L2198.0 803.0 L2198.4 810.2 L2200.2 826.8 L2202.0 862.8 L2203.8 885.9 L2204.0 886.7 L2205.6 882.0 L2207.4 867.5 L2209.2 873.1 L2211.0 850.5 L2212.8 842.2 L2214.0 845.0 L2214.6 845.5 L2216.4 826.4 L2218.2 817.4 L2220.0 816.0 L2221.8 811.0 L2223.6 806.9 L2225.4 795.3 L2227.2 775.1 L2229.0 774.4 L2230.8 774.6 L2232.6 775.9 L2234.4 760.5 L2236.2 769.6 L2238.0 758.3 L2239.8 756.6 L2240.0 760.0 L2241.6 766.1 L2243.4 796.7 L2245.2 809.3 L2246.0 816.5 L2247.0 832.7 L2248.8 840.9 L2250.6 851.4 L2252.4 868.6 L2254.2 885.5 L2256.0 913.9 L2257.0 914.8 L2257.8 904.4 L2259.6 890.9 L2261.4 884.2 L2263.2 867.9 L2265.0 862.7 L2266.8 854.8 L2268.0 845.0 L2268.6 848.4 L2270.4 841.7 L2272.2 843.0 L2274.0 851.3 L2275.8 856.8 L2277.6 854.4 L2279.4 858.7 L2280.0 858.0 L2281.2 851.5 L2283.0 816.7 L2284.8 798.0 L2286.6 781.1 L2288.4 760.9 L2290.2 746.5 L2292.0 719.4 L2293.7 698.6 L2293.8 703.0 L2295.6 724.3 L2297.4 756.5 L2298.0 760.0" stroke="#d6a214" stroke-width="3.6"/>
<path d="M343.0 1460.0 L343.0 1130.0 L346.7 1107.7 L358.4 1096.0 L360.4 1107.1 L362.4 1114.2 L364.4 1115.8 L365.4 1119.4 L366.4 1114.1 L368.4 1106.7 L370.4 1113.1 L372.4 1106.7 L374.4 1107.6 L374.8 1103.0 L376.4 1104.9 L378.4 1115.7 L380.4 1113.0 L382.4 1125.7 L384.4 1129.4 L386.4 1129.5 L386.5 1131.0 L388.4 1122.1 L390.4 1114.2 L392.4 1096.9 L393.5 1096.0 L394.4 1096.3 L396.4 1098.8 L398.4 1089.5 L400.4 1096.4 L402.4 1093.4 L404.4 1094.5 L405.0 1089.0 L406.4 1082.5 L408.4 1073.0 L410.4 1077.8 L412.4 1072.0 L414.4 1060.8 L414.6 1061.0 L416.4 1049.3 L418.4 1044.7 L420.4 1045.1 L422.4 1033.8 L424.4 1037.5 L426.0 1025.8 L426.4 1030.2 L428.4 1039.8 L430.4 1061.9 L432.4 1072.9 L433.0 1079.6 L434.4 1082.5 L436.4 1077.1 L438.4 1066.0 L440.4 1062.9 L442.4 1058.6 L444.4 1055.1 L445.0 1049.0 L446.4 1070.1 L448.4 1075.9 L449.7 1096.0 L450.4 1092.9 L452.4 1093.7 L454.4 1086.5 L456.4 1087.9 L458.4 1077.7 L460.4 1086.7 L461.4 1079.6 L462.4 1078.3 L464.4 1068.8 L466.4 1073.6 L468.4 1065.0 L470.4 1059.9 L472.4 1060.8 L474.4 1052.3 L475.4 1056.0 L476.4 1055.1 L478.4 1071.8 L480.4 1076.2 L482.4 1072.8 L484.4 1091.2 L486.4 1086.7 L487.0 1096.0 L488.4 1090.5 L490.4 1094.9 L492.4 1086.3 L494.4 1077.4 L496.4 1074.2 L498.4 1070.2 L500.4 1062.0 L502.4 1070.8 L503.5 1061.0 L504.4 1055.0 L506.4 1062.2 L508.4 1068.7 L510.4 1065.1 L512.4 1075.5 L514.4 1066.1 L516.4 1078.8 L517.6 1072.6 L518.4 1077.7 L520.4 1072.3 L522.4 1073.6 L524.4 1064.9 L526.4 1068.6 L528.4 1066.1 L529.0 1061.0 L530.4 1061.3 L532.4 1060.6 L534.4 1064.1 L536.4 1059.6 L538.4 1054.8 L540.4 1064.7 L542.4 1057.5 L544.4 1060.8 L545.7 1061.0 L546.4 1063.5 L548.4 1049.3 L550.4 1042.0 L552.4 1038.5 L554.4 1040.5 L556.4 1032.0 L558.4 1025.4 L559.7 1025.8 L560.4 1026.0 L562.4 1035.6 L564.4 1028.0 L566.4 1032.9 L568.4 1042.4 L569.0 1037.5 L570.4 1031.2 L572.4 1014.7 L574.4 1006.4 L576.0 997.7 L576.4 999.5 L578.4 1005.2 L580.4 1019.5 L582.4 1029.1 L584.4 1047.3 L586.4 1050.8 L587.8 1061.0 L588.4 1060.4 L590.4 1055.0 L592.4 1044.1 L594.4 1025.9 L596.4 1019.2 L598.4 1004.8 L599.5 1002.0 L600.4 999.0 L602.4 996.9 L604.4 998.1 L606.4 996.9 L608.4 983.9 L609.0 986.0 L610.4 987.6 L612.4 1007.2 L614.4 1014.3 L616.4 1026.8 L618.4 1050.9 L620.4 1053.9 L620.6 1061.0 L622.4 1054.6 L624.4 1038.6 L626.4 1036.5 L628.4 1024.5 L630.4 1001.9 L632.4 993.2 L634.4 993.8 L634.6 986.0 L636.4 999.8 L638.4 1010.3 L640.4 1029.1 L642.4 1043.0 L644.0 1049.0 L644.4 1047.9 L646.4 1042.5 L648.4 1032.0 L650.4 1030.9 L652.4 1022.7 L654.4 1024.9 L656.4 1019.6 L658.0 1014.0 L658.4 1010.7 L660.4 1027.9 L662.4 1030.0 L664.4 1040.1 L666.4 1058.2 L667.4 1061.0 L668.4 1055.4 L670.4 1051.9 L672.4 1037.8 L674.4 1028.9 L676.4 1010.2 L678.4 1010.8 L680.4 989.5 L681.4 990.7 L682.4 982.3 L684.4 966.4 L686.0 944.0 L686.4 954.1 L688.4 973.9 L690.4 987.3 L692.4 1010.9 L693.0 1014.0 L694.4 1030.1 L696.4 1037.0 L698.4 1065.9 L700.0 1072.6 L700.4 1078.2 L702.4 1068.8 L704.4 1071.4 L706.4 1064.0 L708.4 1059.0 L709.5 1061.0 L710.4 1063.2 L712.4 1051.4 L714.4 1060.4 L716.4 1061.0 L718.4 1048.5 L720.4 1056.2 L721.0 1049.0 L722.4 1040.0 L724.4 1047.8 L726.4 1035.3 L728.4 1041.7 L730.4 1029.8 L732.4 1033.3 L733.0 1025.8 L734.4 1025.3 L736.4 1035.4 L738.4 1055.6 L740.4 1062.2 L742.4 1069.9 L744.4 1071.7 L744.6 1079.6 L746.4 1069.9 L748.4 1067.5 L750.4 1057.3 L752.4 1066.1 L754.4 1057.3 L756.0 1049.0 L756.4 1057.2 L758.4 1060.7 L760.4 1062.5 L762.4 1065.8 L764.4 1082.8 L765.7 1084.0 L766.4 1074.7 L768.4 1071.2 L770.4 1060.0 L772.4 1050.4 L774.4 1034.1 L775.0 1037.5 L776.4 1029.3 L778.4 1033.4 L780.4 1023.4 L782.4 1028.3 L784.0 1025.8 L784.4 1020.1 L786.4 1019.6 L788.4 1015.3 L790.4 1019.1 L792.4 1014.0 L793.8 1014.0 L794.4 1015.5 L796.4 1034.4 L798.4 1058.4 L800.0 1072.6 L800.4 1079.1 L802.4 1073.7 L804.4 1071.8 L806.4 1076.1 L808.4 1076.9 L810.4 1083.8 L811.7 1084.0 L812.4 1086.2 L814.4 1077.0 L816.4 1065.3 L818.4 1061.3 L820.4 1056.2 L822.4 1051.1 L823.4 1049.0 L824.4 1047.0 L826.4 1055.0 L828.4 1047.3 L830.4 1048.0 L832.4 1047.8 L834.4 1045.8 L836.4 1047.2 L838.4 1039.7 L840.4 1043.1 L842.4 1046.8 L844.4 1033.6 L846.4 1039.6 L846.8 1037.5 L848.4 1037.8 L850.4 1035.4 L852.4 1037.6 L854.4 1050.9 L856.4 1043.8 L858.4 1055.2 L860.4 1048.6 L862.4 1055.1 L864.4 1052.6 L865.5 1061.0 L866.4 1062.9 L868.4 1069.3 L870.4 1063.7 L872.4 1071.6 L874.4 1079.7 L876.4 1073.1 L878.4 1078.5 L880.4 1085.1 L882.0 1084.0 L882.4 1088.7 L884.4 1074.3 L886.4 1077.7 L888.4 1065.6 L890.4 1061.5 L892.4 1070.6 L893.6 1061.0 L894.4 1051.8 L896.4 1058.7 L898.4 1049.9 L900.4 1042.6 L902.4 1037.3 L904.4 1029.9 L905.0 1025.8 L906.4 1023.9 L908.4 1028.1 L910.4 1026.4 L912.4 1038.1 L914.4 1038.8 L916.4 1040.8 L917.0 1037.0 L918.4 1031.4 L920.4 1035.1 L922.4 1028.2 L924.4 1034.3 L926.4 1031.7 L928.4 1033.5 L928.7 1025.8 L930.4 1032.3 L932.4 1035.9 L934.4 1041.3 L936.4 1035.0 L938.4 1046.5 L940.4 1049.0 L942.4 1047.3 L944.4 1057.6 L946.4 1059.1 L948.4 1076.8 L950.4 1068.3 L952.0 1079.6 L952.4 1085.3 L954.4 1082.6 L956.4 1071.8 L958.4 1074.7 L960.4 1059.9 L962.4 1058.1 L964.0 1061.0 L964.4 1052.8 L966.4 1049.7 L968.4 1044.6 L970.4 1053.0 L972.4 1037.8 L974.4 1041.3 L975.6 1037.5 L976.4 1032.4 L978.4 1025.9 L980.4 1025.9 L982.4 1018.0 L984.4 1025.6 L986.4 1012.4 L988.4 1011.2 L990.4 1006.4 L992.0 1002.0 L992.4 1006.5 L994.4 1017.4 L996.4 1027.4 L998.4 1038.5 L1000.4 1062.9 L1001.0 1061.0 L1002.4 1051.3 L1004.4 1047.9 L1006.4 1046.0 L1008.4 1035.3 L1010.4 1033.6 L1010.7 1025.8 L1012.4 1028.7 L1014.4 1022.1 L1016.4 1014.1 L1018.4 1019.1 L1020.4 1015.3 L1022.0 1014.0 L1022.4 1017.9 L1024.4 1005.1 L1026.4 999.7 L1028.4 993.6 L1030.4 980.7 L1032.4 978.4 L1034.0 967.0 L1034.4 974.6 L1036.4 971.4 L1038.4 990.8 L1040.4 998.0 L1042.4 1005.8 L1044.4 1006.0 L1045.8 1014.0 L1046.4 1015.3 L1048.4 1030.3 L1050.4 1050.6 L1052.4 1074.6 L1052.8 1072.6 L1054.4 1075.7 L1056.4 1076.9 L1058.4 1087.9 L1060.0 1096.0 L1060.4 1087.6 L1062.4 1085.3 L1064.4 1077.0 L1066.4 1069.0 L1068.4 1046.0 L1069.0 1049.0 L1070.4 1048.6 L1072.4 1046.8 L1074.4 1060.6 L1076.4 1061.5 L1078.4 1058.7 L1080.4 1067.2 L1081.0 1061.0 L1082.4 1059.9 L1084.4 1061.6 L1086.4 1055.2 L1088.4 1051.3 L1090.4 1058.7 L1092.4 1054.3 L1092.6 1049.0 L1094.4 1055.9 L1096.4 1066.2 L1098.4 1069.0 L1100.4 1077.4 L1102.4 1072.6 L1104.0 1084.0 L1104.4 1076.9 L1106.4 1068.8 L1108.4 1068.5 L1110.4 1062.5 L1112.4 1046.3 L1114.4 1043.8 L1116.0 1037.5 L1116.4 1032.5 L1118.4 1045.1 L1120.4 1050.5 L1122.4 1044.2 L1124.4 1061.6 L1126.4 1060.9 L1127.7 1061.0 L1128.4 1054.7 L1130.4 1056.0 L1132.4 1051.1 L1134.4 1057.5 L1136.4 1058.3 L1138.4 1045.2 L1139.4 1049.0 L1140.4 1045.3 L1142.4 1054.0 L1144.4 1059.6 L1146.4 1059.8 L1148.4 1057.7 L1150.4 1054.5 L1151.0 1061.0 L1152.4 1061.3 L1154.4 1056.9 L1156.4 1060.2 L1158.4 1054.7 L1160.4 1055.1 L1162.4 1056.7 L1163.0 1049.0 L1164.4 1054.3 L1166.4 1063.5 L1168.4 1058.8 L1170.4 1059.5 L1172.4 1077.6 L1174.4 1069.7 L1174.5 1077.0 L1176.4 1074.0 L1178.4 1055.0 L1180.4 1038.1 L1182.4 1030.3 L1184.4 1026.1 L1186.0 1014.0 L1186.4 1012.7 L1188.4 1018.2 L1190.4 1012.4 L1192.4 1025.3 L1194.4 1020.4 L1196.4 1029.2 L1198.0 1025.8 L1198.4 1020.9 L1200.4 1030.7 L1202.4 1029.8 L1204.4 1030.8 L1206.4 1027.1 L1208.4 1036.8 L1209.6 1037.5 L1210.4 1041.7 L1212.4 1028.7 L1214.4 1031.8 L1216.4 1023.2 L1218.4 1035.9 L1220.4 1033.5 L1221.0 1025.8 L1222.4 1031.2 L1224.4 1032.1 L1226.4 1029.8 L1228.4 1034.4 L1230.4 1047.0 L1232.4 1052.3 L1233.0 1049.0 L1234.4 1055.0 L1236.4 1051.1 L1238.4 1042.8 L1240.4 1038.1 L1242.4 1040.5 L1244.4 1035.6 L1244.8 1037.5 L1246.4 1043.0 L1248.4 1054.1 L1250.4 1053.6 L1252.4 1067.6 L1254.4 1069.6 L1256.4 1065.6 L1258.4 1082.1 L1258.8 1079.6 L1260.4 1077.2 L1262.4 1070.6 L1264.4 1055.3 L1265.0 1061.0 L1266.4 1070.1 L1268.4 1069.2 L1270.4 1074.8 L1272.4 1074.2 L1274.4 1084.0 L1276.4 1072.1 L1278.4 1066.8 L1280.4 1064.8 L1282.4 1061.3 L1283.7 1061.0 L1284.4 1054.4 L1286.4 1049.0 L1288.4 1055.0 L1290.4 1050.6 L1292.4 1049.3 L1294.4 1035.3 L1295.4 1037.5 L1296.4 1042.6 L1298.4 1043.9 L1300.4 1039.7 L1302.4 1054.8 L1304.4 1050.4 L1306.4 1051.1 L1308.4 1054.4 L1309.5 1061.0 L1310.4 1061.3 L1312.4 1037.3 L1314.4 1026.4 L1316.4 1015.4 L1316.5 1014.0 L1318.4 1021.4 L1320.4 1035.8 L1322.4 1037.3 L1323.5 1049.0 L1324.4 1043.4 L1326.4 1035.8 L1328.4 1026.3 L1330.4 1016.1 L1332.4 1001.0 L1332.9 1002.0 L1334.4 1009.9 L1336.4 1022.7 L1338.4 1023.2 L1340.4 1033.4 L1342.0 1037.5 L1342.4 1043.5 L1344.4 1039.7 L1346.4 1044.8 L1348.4 1060.2 L1350.4 1055.1 L1351.6 1061.0 L1352.4 1058.9 L1354.4 1055.5 L1356.4 1062.3 L1358.4 1053.0 L1360.4 1055.7 L1361.0 1049.0 L1362.4 1044.6 L1364.4 1047.4 L1366.4 1053.9 L1368.4 1050.0 L1370.4 1056.1 L1372.4 1054.8 L1374.4 1049.4 L1375.0 1056.0 L1376.4 1037.7 L1378.4 1024.7 L1379.7 1014.0 L1380.4 1016.6 L1382.4 1017.2 L1384.4 1024.5 L1386.4 1026.6 L1388.4 1036.5 L1390.4 1043.1 L1391.4 1049.0 L1392.4 1042.3 L1394.4 1035.3 L1396.4 1029.2 L1398.4 1017.1 L1400.4 1007.4 L1402.4 990.5 L1403.0 990.7 L1404.4 991.8 L1406.4 996.8 L1408.4 1001.0 L1410.4 992.8 L1412.4 991.0 L1414.4 993.2 L1416.4 1001.7 L1417.0 1002.0 L1418.4 1010.4 L1420.4 1003.6 L1422.4 1017.1 L1424.4 1018.9 L1426.4 1026.3 L1428.4 1030.8 L1428.9 1025.8 L1430.4 1027.5 L1432.4 1047.9 L1433.5 1049.0 L1434.4 1040.5 L1436.4 1033.6 L1438.4 1031.1 L1440.4 1025.8 L1442.4 1012.9 L1444.4 1009.3 L1446.4 1001.1 L1447.6 1002.0 L1448.4 994.6 L1450.4 989.1 L1452.4 983.1 L1454.4 981.1 L1456.4 977.9 L1457.0 979.0 L1458.4 984.8 L1460.4 999.0 L1462.4 1007.9 L1464.4 1016.1 L1466.3 1025.8 L1466.4 1022.9 L1468.4 1021.8 L1470.4 1010.0 L1472.4 1004.3 L1474.4 997.8 L1475.0 1002.0 L1476.4 1007.9 L1478.4 1004.7 L1480.4 1010.7 L1482.4 1017.4 L1484.4 1025.3 L1485.0 1025.8 L1486.4 1030.3 L1488.4 1032.8 L1490.4 1036.2 L1492.4 1033.5 L1494.4 1047.6 L1496.4 1048.2 L1498.4 1046.6 L1499.0 1049.0 L1500.4 1041.9 L1502.4 1036.6 L1504.4 1021.8 L1506.4 1021.7 L1508.4 1017.6 L1510.4 1001.6 L1510.8 1002.0 L1512.4 997.4 L1514.4 988.0 L1516.4 992.1 L1518.4 978.4 L1520.4 972.4 L1522.4 972.0 L1524.4 961.1 L1526.4 963.4 L1527.0 955.6 L1528.4 958.4 L1530.4 966.9 L1532.4 968.5 L1534.4 978.6 L1536.4 982.7 L1538.4 983.0 L1539.0 990.7 L1540.4 996.5 L1542.4 985.6 L1544.4 991.8 L1546.4 993.4 L1548.4 990.2 L1550.4 988.1 L1552.4 990.0 L1553.0 990.7 L1554.4 1001.0 L1556.4 990.2 L1558.4 1007.3 L1560.4 1007.2 L1562.4 1009.3 L1564.4 1015.7 L1564.6 1014.0 L1566.4 996.9 L1568.4 978.4 L1569.0 967.0 L1570.4 983.7 L1572.4 990.5 L1574.4 1001.7 L1576.4 1015.5 L1578.4 1037.4 L1580.4 1044.6 L1581.0 1049.0 L1582.4 1038.4 L1584.4 1040.1 L1586.4 1027.1 L1588.4 1024.6 L1590.4 1023.1 L1592.4 1016.6 L1592.7 1014.0 L1594.4 1023.0 L1596.4 1037.4 L1598.4 1044.1 L1599.7 1049.0 L1600.4 1051.7 L1602.4 1036.7 L1604.4 1016.0 L1606.4 1011.2 L1608.4 992.4 L1609.0 990.7 L1610.4 998.7 L1612.4 995.7 L1614.4 994.6 L1616.4 992.9 L1618.4 1004.9 L1620.4 999.4 L1620.8 1002.0 L1622.4 995.8 L1624.4 1008.9 L1626.4 998.2 L1628.4 1000.0 L1630.4 1001.1 L1632.4 1011.6 L1634.4 1011.7 L1636.4 1011.8 L1638.4 1019.8 L1639.5 1014.0 L1640.4 1004.6 L1642.4 980.6 L1644.4 972.4 L1646.4 939.2 L1646.5 944.0 L1648.4 934.8 L1650.4 934.9 L1652.4 943.7 L1654.4 932.8 L1656.0 932.0 L1656.4 931.9 L1658.4 942.0 L1660.4 952.1 L1662.4 967.8 L1663.0 967.0 L1664.4 966.3 L1666.4 956.9 L1668.4 951.6 L1670.4 957.1 L1672.4 949.3 L1674.4 944.4 L1674.6 944.0 L1676.4 951.4 L1678.4 976.1 L1680.4 982.6 L1681.7 990.7 L1682.4 998.4 L1684.4 998.7 L1686.4 1002.1 L1688.4 996.9 L1690.4 1014.2 L1692.4 1017.3 L1693.4 1014.0 L1694.4 1010.2 L1696.4 1015.3 L1698.4 1029.3 L1700.4 1034.2 L1702.4 1032.1 L1702.7 1037.5 L1704.4 1033.7 L1706.4 1007.1 L1708.4 1001.0 L1709.8 990.7 L1710.4 992.6 L1712.4 997.6 L1714.4 1009.9 L1716.4 1013.7 L1718.4 1025.8 L1720.4 1033.1 L1721.5 1033.0 L1722.4 1021.4 L1724.4 1016.8 L1726.4 1010.6 L1728.4 997.5 L1730.4 992.7 L1732.4 974.8 L1733.0 979.0 L1734.4 978.7 L1736.4 992.9 L1738.4 996.4 L1740.4 1004.4 L1741.7 1014.0 L1742.4 1013.7 L1744.4 1019.2 L1746.4 1022.9 L1748.4 1024.9 L1750.4 1026.2 L1752.4 1028.1 L1753.4 1030.5 L1754.4 1033.6 L1756.4 1028.6 L1758.4 1024.2 L1760.4 1019.9 L1762.4 1011.0 L1764.4 999.0 L1765.0 1002.0 L1766.4 1003.1 L1768.4 994.1 L1770.4 991.7 L1772.4 990.5 L1774.4 982.2 L1776.4 985.6 L1776.8 986.0 L1778.4 986.8 L1780.4 994.0 L1782.4 1003.7 L1783.8 1009.4 L1784.4 1009.0 L1786.4 993.2 L1788.4 973.9 L1790.4 965.8 L1792.4 946.9 L1793.0 944.0 L1794.4 948.7 L1796.4 959.2 L1798.4 967.1 L1800.4 974.8 L1802.4 996.7 L1802.6 990.7 L1804.4 989.3 L1806.4 987.0 L1808.4 983.2 L1810.0 979.0 L1810.4 980.0 L1812.4 987.1 L1814.4 982.9 L1816.4 988.8 L1818.4 1001.0 L1819.0 1002.0 L1820.4 993.1 L1822.4 974.3 L1824.4 965.3 L1826.0 960.0 L1826.4 960.2 L1828.4 985.5 L1830.4 999.0 L1832.4 1002.5 L1833.0 1014.0 L1834.4 1010.5 L1836.4 1007.2 L1838.4 1001.4 L1840.4 1001.0 L1842.0 1002.0 L1842.4 1010.8 L1844.4 1017.0 L1846.4 1014.7 L1848.4 1029.6 L1850.4 1027.2 L1851.7 1037.5 L1852.4 1036.5 L1854.4 1019.7 L1856.4 1019.5 L1858.4 1010.3 L1860.0 1002.0 L1860.4 1006.5 L1862.4 985.8 L1864.4 976.3 L1866.4 951.7 L1868.0 944.0 L1868.4 949.2 L1870.4 959.5 L1872.4 974.0 L1874.4 1004.3 L1875.0 1002.0 L1876.4 991.5 L1878.4 991.6 L1880.4 986.2 L1882.4 979.6 L1884.4 984.6 L1884.5 979.0 L1886.4 987.6 L1888.4 987.0 L1890.4 994.7 L1892.4 1003.7 L1894.4 997.1 L1896.4 1011.1 L1898.4 1019.0 L1898.5 1014.0 L1900.4 1003.9 L1902.4 990.4 L1904.4 974.0 L1906.4 960.5 L1908.0 955.6 L1908.4 949.7 L1910.4 947.2 L1912.4 940.8 L1914.4 943.0 L1916.4 928.5 L1917.0 932.0 L1918.4 925.1 L1920.4 933.2 L1922.4 926.1 L1924.4 919.1 L1926.4 927.7 L1928.4 914.2 L1929.0 920.5 L1930.4 921.4 L1932.4 925.9 L1934.4 931.6 L1936.4 931.4 L1938.4 945.8 L1940.4 944.6 L1940.7 944.0 L1942.4 950.1 L1944.4 965.1 L1946.4 971.5 L1948.4 984.4 L1950.4 995.2 L1952.0 1002.0 L1952.4 998.2 L1954.4 1007.6 L1956.4 995.9 L1958.4 1008.5 L1960.4 1000.9 L1962.4 1002.1 L1964.0 1002.0 L1964.4 997.2 L1966.4 1008.9 L1968.4 1011.8 L1970.4 1021.6 L1972.4 1028.3 L1974.4 1025.1 L1975.8 1035.0 L1976.4 1024.2 L1978.4 1021.7 L1980.4 996.6 L1982.4 988.9 L1984.4 974.9 L1985.0 967.0 L1986.4 975.2 L1988.4 969.3 L1990.4 984.5 L1992.4 993.2 L1994.4 986.8 L1996.4 992.1 L1998.4 1010.9 L2000.4 1013.8 L2001.5 1014.0 L2002.4 1015.8 L2004.4 1013.9 L2006.4 1008.7 L2008.4 999.8 L2010.0 1002.0 L2010.4 995.1 L2012.4 984.2 L2014.4 985.1 L2016.4 976.5 L2018.0 967.0 L2018.4 974.0 L2020.4 960.8 L2022.4 957.4 L2024.4 958.9 L2026.4 965.4 L2028.4 952.8 L2029.6 955.6 L2030.4 958.8 L2032.4 949.0 L2034.4 944.8 L2036.4 928.9 L2038.4 933.1 L2040.4 920.8 L2041.0 920.5 L2042.4 921.9 L2044.4 908.3 L2046.4 908.8 L2048.4 908.7 L2050.4 917.3 L2052.4 920.5 L2054.4 932.1 L2056.4 933.2 L2057.7 944.0 L2058.4 941.7 L2060.4 951.3 L2062.4 950.7 L2064.4 964.3 L2066.4 959.1 L2068.4 962.1 L2069.4 967.0 L2070.4 966.6 L2072.4 972.2 L2074.4 969.4 L2076.4 981.4 L2078.4 971.8 L2080.4 979.7 L2081.0 979.0 L2082.4 974.2 L2084.4 950.4 L2086.4 935.0 L2088.4 924.4 L2090.4 914.7 L2090.5 908.7 L2092.4 929.8 L2094.4 946.5 L2096.4 961.0 L2097.5 967.0 L2098.4 963.7 L2100.4 983.1 L2102.4 978.4 L2104.4 983.1 L2104.5 990.7 L2106.4 999.3 L2108.4 1000.9 L2110.4 1010.2 L2111.5 1022.0 L2112.4 1006.4 L2114.4 993.8 L2116.0 967.0 L2116.4 965.0 L2118.4 980.5 L2120.4 988.8 L2122.4 984.8 L2124.4 989.9 L2125.6 1000.0 L2126.4 991.6 L2128.4 987.4 L2130.4 977.8 L2132.4 961.8 L2134.4 958.2 L2136.4 937.1 L2136.5 943.0 L2138.4 943.5 L2140.4 956.5 L2142.4 969.0 L2144.4 979.8 L2146.4 989.3 L2148.4 996.7 L2150.4 1005.6 L2150.5 999.0 L2152.4 995.8 L2154.4 988.0 L2156.4 977.2 L2158.4 979.8 L2160.4 979.9 L2162.4 972.8 L2163.0 967.0 L2164.4 963.1 L2166.4 960.8 L2168.4 957.9 L2170.4 956.4 L2172.4 947.4 L2174.4 940.6 L2176.4 941.2 L2178.4 936.5 L2178.6 929.0 L2180.4 907.4 L2182.4 906.2 L2184.0 886.7 L2184.4 884.2 L2186.4 883.0 L2188.4 890.6 L2190.4 891.2 L2192.4 892.4 L2194.4 907.6 L2196.4 904.3 L2198.0 908.7 L2198.4 904.4 L2200.4 921.0 L2202.4 920.6 L2204.4 930.2 L2206.4 938.5 L2207.5 944.0 L2208.4 946.4 L2210.4 963.8 L2212.3 971.0 L2212.4 965.5 L2214.4 958.1 L2216.4 936.1 L2218.4 918.9 L2220.4 900.7 L2220.7 900.7 L2222.4 914.6 L2224.4 913.3 L2226.4 924.8 L2228.4 931.5 L2230.4 938.3 L2232.4 945.7 L2234.0 960.0 L2234.4 964.5 L2236.4 975.3 L2238.4 976.7 L2240.4 987.4 L2242.4 1001.8 L2244.4 999.2 L2246.0 1013.0 L2246.4 1007.3 L2248.4 1002.7 L2250.4 983.9 L2252.4 972.4 L2254.0 967.0 L2254.4 969.4 L2256.4 975.6 L2258.4 983.9 L2260.4 992.3 L2262.0 1007.0 L2262.4 1011.6 L2264.4 996.0 L2266.4 974.4 L2268.4 959.5 L2270.4 952.6 L2272.4 939.8 L2274.0 928.8 L2274.4 935.9 L2276.4 930.6 L2278.4 929.7 L2280.4 943.4 L2282.4 935.9 L2284.4 940.3 L2285.0 945.0 L2286.4 939.1 L2288.4 946.3 L2290.4 945.2 L2292.4 934.0 L2294.4 935.3 L2296.4 933.9 L2298.0 928.8" stroke="#1fc7c2" stroke-width="3.6"/>
</g>
<g fill="none" stroke="#000" stroke-width="5" stroke-linecap="butt"><path d="M327.0 18.5 H2302.5 V1595.5" /><path d="M342.0 16.0 V1626.5" /><path d="M310.0 1595.5 H2302.5" /><path d="M310.0 1595.5 H342.0" /><path d="M327.0 1474.2 H342.0" /><path d="M310.0 1352.9 H342.0" /><path d="M327.0 1231.6 H342.0" /><path d="M310.0 1110.3 H342.0" /><path d="M327.0 989.0 H342.0" /><path d="M310.0 867.7 H342.0" /><path d="M327.0 746.3 H342.0" /><path d="M310.0 625.0 H342.0" /><path d="M327.0 503.7 H342.0" /><path d="M310.0 382.4 H342.0" /><path d="M327.0 261.1 H342.0" /><path d="M310.0 139.8 H342.0" /><path d="M327.0 18.5 H342.0" /><path d="M342.0 1595.5 V1626.5" /><path d="M505.2 1595.5 V1611.0" /><path d="M668.3 1595.5 V1626.5" /><path d="M831.5 1595.5 V1611.0" /><path d="M994.7 1595.5 V1626.5" /><path d="M1157.8 1595.5 V1611.0" /><path d="M1321.0 1595.5 V1626.5" /><path d="M1484.2 1595.5 V1611.0" /><path d="M1647.3 1595.5 V1626.5" /><path d="M1810.5 1595.5 V1611.0" /><path d="M1973.7 1595.5 V1626.5" /><path d="M2136.8 1595.5 V1611.0" /><path d="M2300.0 1595.5 V1626.5" /></g>
<g font-family="'Liberation Serif', 'Times New Roman', serif" font-weight="bold" font-size="104" fill="#000"><text x="289" y="1626.8" text-anchor="end">0.0</text><text x="289" y="1384.2" text-anchor="end">0.2</text><text x="289" y="1141.6" text-anchor="end">0.4</text><text x="289" y="899.0" text-anchor="end">0.6</text><text x="289" y="656.3" text-anchor="end">0.8</text><text x="289" y="413.7" text-anchor="end">1.0</text><text x="289" y="171.1" text-anchor="end">1.2</text><text x="342.0" y="1729" text-anchor="middle">0</text><text x="668.3" y="1729" text-anchor="middle">5</text><text x="994.7" y="1729" text-anchor="middle">10</text><text x="1321.0" y="1729" text-anchor="middle">15</text><text x="1647.3" y="1729" text-anchor="middle">20</text><text x="1973.7" y="1729" text-anchor="middle">25</text><text x="2300.0" y="1729" text-anchor="middle">30</text></g>
<text font-family="'Liberation Serif', 'Times New Roman', serif" font-weight="bold" font-size="116" x="1043" y="1843" fill="#000">Time (min)</text>
<text font-family="'Liberation Serif', 'Times New Roman', serif" font-weight="bold" font-size="116" transform="translate(101.5 1227) rotate(-90)" fill="#000">Firction coefficient</text>
<path d="M1325.0 78.5 H1555.0" stroke="#888888" stroke-width="3.5" fill="none"/><path d="M1325.0 206.0 H1555.0" stroke="#ec3d3f" stroke-width="3.5" fill="none"/><path d="M1766.0 206.0 H1996.0" stroke="#2f68d0" stroke-width="3.5" fill="none"/><path d="M1325.0 334.0 H1555.0" stroke="#32a472" stroke-width="3.5" fill="none"/><path d="M1766.0 334.0 H1996.0" stroke="#b06ef2" stroke-width="3.5" fill="none"/><path d="M1325.0 461.5 H1555.0" stroke="#d6a214" stroke-width="3.5" fill="none"/><path d="M1766.0 461.5 H1996.0" stroke="#1fc7c2" stroke-width="3.5" fill="none"/>
<g font-family="'Liberation Serif', 'Times New Roman', serif" font-weight="bold" font-size="102.5" fill="#000"><text x="1581.6" y="114.0">Untreated HEA</text><text x="1581.6" y="242.0">3h</text><text x="2021" y="242.0">6h</text><text x="1581.6" y="370.0">9h</text><text x="2021" y="370.0">12h</text><text x="1581.6" y="497.5">9h</text><text x="2021" y="497.5">18h</text></g>
</svg>
</body></html>
